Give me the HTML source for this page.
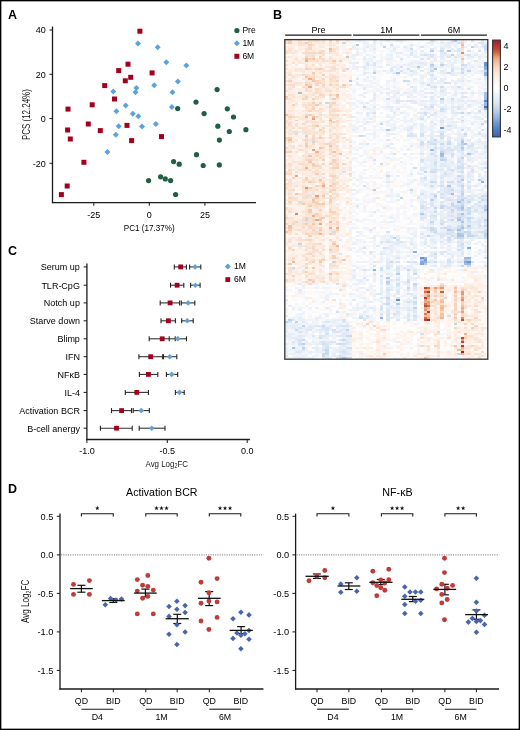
<!DOCTYPE html><html><head><meta charset="utf-8"><style>html,body{margin:0;padding:0;background:#fff}svg{display:block;opacity:.999}text{font-family:"Liberation Sans",sans-serif}</style></head><body>
<svg width="520" height="730" viewBox="0 0 520 730">
<defs><filter id="hb" x="284" y="39" width="205" height="321" filterUnits="userSpaceOnUse"><feGaussianBlur stdDeviation="0.45"/></filter></defs>
<rect width="520" height="730" fill="#fff"/>
<text x="8" y="18.8" font-size="12.5" font-weight="bold" fill="#000">A</text>
<line x1="52.5" y1="26.5" x2="52.5" y2="203.2" stroke="#1a1a1a" stroke-width="1.3"/>
<line x1="51.9" y1="202.6" x2="256" y2="202.6" stroke="#1a1a1a" stroke-width="1.3"/>
<line x1="49.5" y1="30" x2="52.5" y2="30" stroke="#1a1a1a" stroke-width="1"/>
<text x="45.8" y="33.2" font-size="9" text-anchor="end">40</text>
<line x1="49.5" y1="74.3" x2="52.5" y2="74.3" stroke="#1a1a1a" stroke-width="1"/>
<text x="45.8" y="77.5" font-size="9" text-anchor="end">20</text>
<line x1="49.5" y1="118.6" x2="52.5" y2="118.6" stroke="#1a1a1a" stroke-width="1"/>
<text x="45.8" y="121.8" font-size="9" text-anchor="end">0</text>
<line x1="49.5" y1="163.3" x2="52.5" y2="163.3" stroke="#1a1a1a" stroke-width="1"/>
<text x="45.8" y="166.5" font-size="9" text-anchor="end">-20</text>
<line x1="93.8" y1="202.6" x2="93.8" y2="205.8" stroke="#1a1a1a" stroke-width="1"/>
<text x="93.8" y="217.5" font-size="9" text-anchor="middle">-25</text>
<line x1="149.3" y1="202.6" x2="149.3" y2="205.8" stroke="#1a1a1a" stroke-width="1"/>
<text x="149.3" y="217.5" font-size="9" text-anchor="middle">0</text>
<line x1="204.9" y1="202.6" x2="204.9" y2="205.8" stroke="#1a1a1a" stroke-width="1"/>
<text x="204.9" y="217.5" font-size="9" text-anchor="middle">25</text>
<text x="149.2" y="231.4" font-size="9.9" text-anchor="middle" textLength="50.8" lengthAdjust="spacingAndGlyphs">PC1 (17.37%)</text>
<text transform="translate(30.3 114.6) rotate(-90)" font-size="10.4" text-anchor="middle" textLength="50.8" lengthAdjust="spacingAndGlyphs" fill="#1a1a1a">PCS (12.24%)</text>
<circle cx="236.9" cy="30.5" r="2.6" fill="#215e42"/>
<text x="242.4" y="33" font-size="8.5">Pre</text>
<path d="M236.9 40.3L239.9 43.3L236.9 46.3L233.9 43.3Z" fill="#5ba2df"/>
<text x="242.4" y="46.1" font-size="8.5">1M</text>
<rect x="234.4" y="53.8" width="5" height="5" fill="#a3001f"/>
<text x="242.4" y="59.1" font-size="8.5">6M</text>
<circle cx="196.5" cy="154.7" r="2.6" fill="#215e42"/>
<circle cx="173.6" cy="161.6" r="2.6" fill="#215e42"/>
<circle cx="179.2" cy="164.2" r="2.6" fill="#215e42"/>
<circle cx="203.2" cy="165.5" r="2.6" fill="#215e42"/>
<circle cx="219.3" cy="164.9" r="2.6" fill="#215e42"/>
<circle cx="160.6" cy="176.8" r="2.6" fill="#215e42"/>
<circle cx="165.3" cy="178.9" r="2.6" fill="#215e42"/>
<circle cx="170.6" cy="180.6" r="2.6" fill="#215e42"/>
<circle cx="148.6" cy="180.6" r="2.6" fill="#215e42"/>
<circle cx="175.6" cy="194.5" r="2.6" fill="#215e42"/>
<circle cx="217.1" cy="89.6" r="2.6" fill="#215e42"/>
<circle cx="196" cy="102.1" r="2.6" fill="#215e42"/>
<circle cx="177.7" cy="108.6" r="2.6" fill="#215e42"/>
<circle cx="227.3" cy="108.8" r="2.6" fill="#215e42"/>
<circle cx="204.1" cy="113.6" r="2.6" fill="#215e42"/>
<circle cx="233.5" cy="117" r="2.6" fill="#215e42"/>
<circle cx="217.8" cy="126.2" r="2.6" fill="#215e42"/>
<circle cx="229.3" cy="131.5" r="2.6" fill="#215e42"/>
<circle cx="245.9" cy="129.7" r="2.6" fill="#215e42"/>
<circle cx="219.4" cy="140.1" r="2.6" fill="#215e42"/>
<path d="M138 40.5L141 43.5L138 46.5L135 43.5Z" fill="#5ba2df"/>
<path d="M157.7 44.3L160.7 47.3L157.7 50.3L154.7 47.3Z" fill="#5ba2df"/>
<path d="M166.3 59.3L169.3 62.3L166.3 65.3L163.3 62.3Z" fill="#5ba2df"/>
<path d="M186.3 62.4L189.3 65.4L186.3 68.4L183.3 65.4Z" fill="#5ba2df"/>
<path d="M177.9 78.5L180.9 81.5L177.9 84.5L174.9 81.5Z" fill="#5ba2df"/>
<path d="M154.2 82.2L157.2 85.2L154.2 88.2L151.2 85.2Z" fill="#5ba2df"/>
<path d="M172.5 89.3L175.5 92.3L172.5 95.3L169.5 92.3Z" fill="#5ba2df"/>
<path d="M171.9 103.9L174.9 106.9L171.9 109.9L168.9 106.9Z" fill="#5ba2df"/>
<path d="M113.3 88.5L116.3 91.5L113.3 94.5L110.3 91.5Z" fill="#5ba2df"/>
<path d="M136.4 85.1L139.4 88.1L136.4 91.1L133.4 88.1Z" fill="#5ba2df"/>
<path d="M135.5 89.3L138.5 92.3L135.5 95.3L132.5 92.3Z" fill="#5ba2df"/>
<path d="M125.7 102.4L128.7 105.4L125.7 108.4L122.7 105.4Z" fill="#5ba2df"/>
<path d="M116.4 108.3L119.4 111.3L116.4 114.3L113.4 111.3Z" fill="#5ba2df"/>
<path d="M132.8 110.8L135.8 113.8L132.8 116.8L129.8 113.8Z" fill="#5ba2df"/>
<path d="M138.3 113.2L141.3 116.2L138.3 119.2L135.3 116.2Z" fill="#5ba2df"/>
<path d="M118.7 123.3L121.7 126.3L118.7 129.3L115.7 126.3Z" fill="#5ba2df"/>
<path d="M142 123.5L145 126.5L142 129.5L139 126.5Z" fill="#5ba2df"/>
<path d="M115.8 131.8L118.8 134.8L115.8 137.8L112.8 134.8Z" fill="#5ba2df"/>
<path d="M107.4 149.1L110.4 152.1L107.4 155.1L104.4 152.1Z" fill="#5ba2df"/>
<path d="M155.9 120.9L158.9 123.9L155.9 126.9L152.9 123.9Z" fill="#5ba2df"/>
<rect x="137.4" y="28.7" width="5" height="5" fill="#a3001f"/>
<rect x="125.5" y="61.7" width="5" height="5" fill="#a3001f"/>
<rect x="116.2" y="68.1" width="5" height="5" fill="#a3001f"/>
<rect x="128.2" y="74.8" width="5" height="5" fill="#a3001f"/>
<rect x="122.8" y="78.3" width="5" height="5" fill="#a3001f"/>
<rect x="102.2" y="83.1" width="5" height="5" fill="#a3001f"/>
<rect x="112" y="96.5" width="5" height="5" fill="#a3001f"/>
<rect x="89.7" y="102.3" width="5" height="5" fill="#a3001f"/>
<rect x="65.5" y="106.6" width="5" height="5" fill="#a3001f"/>
<rect x="149.6" y="70.4" width="5" height="5" fill="#a3001f"/>
<rect x="85.8" y="121.5" width="5" height="5" fill="#a3001f"/>
<rect x="65.1" y="127.5" width="5" height="5" fill="#a3001f"/>
<rect x="97.8" y="128.1" width="5" height="5" fill="#a3001f"/>
<rect x="67.8" y="136.5" width="5" height="5" fill="#a3001f"/>
<rect x="124.5" y="122.9" width="5" height="5" fill="#a3001f"/>
<rect x="129.1" y="138.1" width="5" height="5" fill="#a3001f"/>
<rect x="81.4" y="159.8" width="5" height="5" fill="#a3001f"/>
<rect x="64.7" y="183.5" width="5" height="5" fill="#a3001f"/>
<rect x="58.9" y="192.1" width="5" height="5" fill="#a3001f"/>
<rect x="159" y="134.1" width="5" height="5" fill="#a3001f"/>
<text x="273" y="18.7" font-size="12.5" font-weight="bold" fill="#000">B</text>
<g filter="url(#hb)">
<g transform="translate(284.8 39.6) scale(3.3833 1.9975)" shape-rendering="crispEdges">
<path fill="#fadece" d="M0 0h1v1h-1zM7 1h1v1h-1zM8 2h1v1h-1zM6 5h1v1h-1zM0 6h1v1h-1zM9 6h1v1h-1zM8 7h1v1h-1zM0 12h1v1h-1zM8 12h1v1h-1zM14 13h1v1h-1zM2 18h1v1h-1zM7 18h1v1h-1zM19 22h1v1h-1zM2 23h1v1h-1zM0 25h1v1h-1zM9 25h1v1h-1zM14 27h1v1h-1zM9 28h1v1h-1zM10 37h1v1h-1zM0 41h1v1h-1zM6 41h1v1h-1zM8 41h1v1h-1zM15 41h1v1h-1zM3 42h1v1h-1zM13 42h1v1h-1zM4 44h1v1h-1zM14 44h1v1h-1zM13 45h1v1h-1zM11 49h1v1h-1zM14 50h1v1h-1zM2 53h1v1h-1zM13 54h1v1h-1zM4 55h1v1h-1zM15 57h1v1h-1zM5 58h1v1h-1zM5 62h1v1h-1zM10 63h1v1h-1zM1 66h1v1h-1zM11 69h1v1h-1zM1 70h1v1h-1zM5 70h1v1h-1zM5 73h1v1h-1zM10 73h1v1h-1zM14 73h1v1h-1zM5 74h1v1h-1zM11 77h1v1h-1zM14 79h1v1h-1zM13 82h1v1h-1zM0 84h1v1h-1zM6 91h1v1h-1zM10 91h1v1h-1zM13 93h1v1h-1zM8 97h1v1h-1zM11 97h1v1h-1zM1 101h1v1h-1zM7 104h1v1h-1zM8 106h1v1h-1zM14 113h1v1h-1zM53 115h1v1h-1zM5 116h1v1h-1zM13 120h1v1h-1zM53 125h1v1h-1zM50 127h1v1h-1zM46 132h1v1h-1zM53 133h1v1h-1zM57 136h1v1h-1zM45 139h1v1h-1zM50 140h1v1h-1zM53 144h1v1h-1zM48 149h1v1h-1zM45 153h1v1h-1zM58 158h1v1h-1z"/>
<path fill="#f6ceb6" d="M1 0h1v1h-1zM1 1h1v1h-1zM6 14h1v1h-1zM8 29h1v1h-1zM8 31h1v1h-1zM2 32h1v1h-1zM7 37h1v1h-1zM10 49h1v1h-1zM6 52h1v1h-1zM1 56h1v1h-1zM14 60h1v1h-1zM7 71h1v1h-1zM7 74h1v1h-1zM9 79h1v1h-1zM10 82h1v1h-1zM7 83h1v1h-1zM10 89h1v1h-1zM13 97h1v1h-1zM7 98h1v1h-1zM8 121h1v1h-1zM44 126h1v1h-1zM44 128h1v1h-1zM42 130h1v1h-1zM50 137h1v1h-1zM24 142h1v1h-1zM55 144h1v1h-1zM53 149h1v1h-1z"/>
<path fill="#fef2ea" d="M2 0h1v1h-1zM6 0h1v1h-1zM17 0h1v1h-1zM19 0h1v1h-1zM12 1h1v1h-1zM19 1h1v1h-1zM1 2h1v1h-1zM5 3h1v1h-1zM9 3h1v1h-1zM0 4h1v1h-1zM12 4h1v1h-1zM18 4h1v1h-1zM4 5h1v1h-1zM18 5h2v1h-2zM2 7h2v1h-2zM13 7h1v1h-1zM2 8h1v1h-1zM4 9h1v1h-1zM1 10h1v1h-1zM17 10h1v1h-1zM45 10h1v1h-1zM1 11h1v1h-1zM3 11h1v1h-1zM7 11h1v1h-1zM12 11h1v1h-1zM3 13h1v1h-1zM11 13h1v1h-1zM0 15h1v1h-1zM6 15h1v1h-1zM8 15h1v1h-1zM19 15h1v1h-1zM12 16h1v1h-1zM18 17h1v1h-1zM51 17h1v1h-1zM16 18h1v1h-1zM18 18h1v1h-1zM41 18h1v1h-1zM2 20h1v1h-1zM4 20h1v1h-1zM12 20h1v1h-1zM17 20h1v1h-1zM0 21h1v1h-1zM12 21h1v1h-1zM5 22h1v1h-1zM27 22h1v1h-1zM8 23h2v1h-2zM3 24h1v1h-1zM5 24h1v1h-1zM11 24h1v1h-1zM17 24h1v1h-1zM19 24h1v1h-1zM34 24h1v1h-1zM2 25h1v1h-1zM15 26h1v1h-1zM3 27h1v1h-1zM19 27h1v1h-1zM8 28h1v1h-1zM14 28h1v1h-1zM3 29h1v1h-1zM7 29h1v1h-1zM11 29h1v1h-1zM4 30h1v1h-1zM6 30h1v1h-1zM9 30h2v1h-2zM13 30h1v1h-1zM17 30h1v1h-1zM16 31h1v1h-1zM0 32h1v1h-1zM16 32h2v1h-2zM39 32h1v1h-1zM3 33h1v1h-1zM11 33h1v1h-1zM16 34h1v1h-1zM18 34h1v1h-1zM0 35h1v1h-1zM12 35h1v1h-1zM5 36h1v1h-1zM8 36h1v1h-1zM15 36h1v1h-1zM18 36h1v1h-1zM4 37h1v1h-1zM9 37h1v1h-1zM7 38h1v1h-1zM3 39h1v1h-1zM9 39h1v1h-1zM2 40h1v1h-1zM17 40h1v1h-1zM4 41h2v1h-2zM7 42h1v1h-1zM10 42h1v1h-1zM4 43h2v1h-2zM9 44h1v1h-1zM19 44h1v1h-1zM2 45h1v1h-1zM14 45h1v1h-1zM16 45h1v1h-1zM12 46h1v1h-1zM14 46h1v1h-1zM19 46h1v1h-1zM4 47h1v1h-1zM18 47h1v1h-1zM0 48h1v1h-1zM9 48h1v1h-1zM19 48h1v1h-1zM5 49h1v1h-1zM16 49h1v1h-1zM19 49h1v1h-1zM0 52h1v1h-1zM5 52h1v1h-1zM9 52h1v1h-1zM9 53h1v1h-1zM5 54h1v1h-1zM9 54h1v1h-1zM18 54h1v1h-1zM27 54h1v1h-1zM3 55h1v1h-1zM7 55h1v1h-1zM16 55h1v1h-1zM19 55h1v1h-1zM5 56h1v1h-1zM17 56h1v1h-1zM1 57h1v1h-1zM5 57h1v1h-1zM19 57h1v1h-1zM24 57h1v1h-1zM42 57h1v1h-1zM3 58h1v1h-1zM12 58h1v1h-1zM25 58h1v1h-1zM3 59h1v1h-1zM4 60h1v1h-1zM13 60h1v1h-1zM0 61h1v1h-1zM8 61h1v1h-1zM11 61h1v1h-1zM3 62h1v1h-1zM12 62h1v1h-1zM13 63h1v1h-1zM16 63h1v1h-1zM28 63h1v1h-1zM2 64h1v1h-1zM11 64h1v1h-1zM18 64h1v1h-1zM10 65h1v1h-1zM15 65h1v1h-1zM28 65h1v1h-1zM2 66h1v1h-1zM28 66h1v1h-1zM4 67h1v1h-1zM23 67h1v1h-1zM8 68h1v1h-1zM16 68h1v1h-1zM1 69h1v1h-1zM17 69h1v1h-1zM15 70h1v1h-1zM2 71h1v1h-1zM12 71h1v1h-1zM47 71h1v1h-1zM6 72h1v1h-1zM12 72h1v1h-1zM4 74h1v1h-1zM18 74h1v1h-1zM15 76h1v1h-1zM19 76h1v1h-1zM29 76h1v1h-1zM16 77h1v1h-1zM3 78h1v1h-1zM16 80h1v1h-1zM2 81h1v1h-1zM14 82h1v1h-1zM27 82h1v1h-1zM3 83h1v1h-1zM5 83h1v1h-1zM15 83h1v1h-1zM4 84h2v1h-2zM17 84h1v1h-1zM19 84h1v1h-1zM3 85h1v1h-1zM5 85h1v1h-1zM4 86h1v1h-1zM12 86h1v1h-1zM16 87h1v1h-1zM2 88h1v1h-1zM14 88h1v1h-1zM3 89h1v1h-1zM12 89h1v1h-1zM19 89h1v1h-1zM11 90h1v1h-1zM29 90h1v1h-1zM12 94h1v1h-1zM19 94h1v1h-1zM2 95h1v1h-1zM12 95h1v1h-1zM4 96h1v1h-1zM12 97h1v1h-1zM15 97h2v1h-2zM4 98h1v1h-1zM14 98h1v1h-1zM16 98h1v1h-1zM18 98h1v1h-1zM0 99h1v1h-1zM8 99h1v1h-1zM10 99h2v1h-2zM13 99h1v1h-1zM2 100h1v1h-1zM9 100h1v1h-1zM14 100h1v1h-1zM19 100h1v1h-1zM6 101h1v1h-1zM9 101h1v1h-1zM11 101h1v1h-1zM15 101h1v1h-1zM13 102h1v1h-1zM15 102h1v1h-1zM0 103h1v1h-1zM3 105h2v1h-2zM0 106h2v1h-2zM11 106h1v1h-1zM1 107h1v1h-1zM3 107h1v1h-1zM9 107h1v1h-1zM11 107h1v1h-1zM14 107h1v1h-1zM4 108h1v1h-1zM15 108h1v1h-1zM4 109h2v1h-2zM9 109h1v1h-1zM35 109h1v1h-1zM3 110h2v1h-2zM1 111h1v1h-1zM5 111h1v1h-1zM19 111h1v1h-1zM19 112h1v1h-1zM0 114h1v1h-1zM5 114h1v1h-1zM10 114h1v1h-1zM54 114h2v1h-2zM59 114h1v1h-1zM3 115h1v1h-1zM58 116h1v1h-1zM17 117h2v1h-2zM29 117h1v1h-1zM45 117h1v1h-1zM54 117h1v1h-1zM3 118h1v1h-1zM54 118h1v1h-1zM4 119h1v1h-1zM12 119h1v1h-1zM47 119h1v1h-1zM9 120h1v1h-1zM12 121h1v1h-1zM17 121h1v1h-1zM41 121h1v1h-1zM54 122h1v1h-1zM49 123h1v1h-1zM51 123h1v1h-1zM17 124h1v1h-1zM21 124h1v1h-1zM57 124h2v1h-2zM47 125h1v1h-1zM51 125h1v1h-1zM54 125h1v1h-1zM11 126h1v1h-1zM25 126h1v1h-1zM39 126h1v1h-1zM17 127h1v1h-1zM43 127h1v1h-1zM56 127h1v1h-1zM54 128h1v1h-1zM45 129h1v1h-1zM54 129h1v1h-1zM8 130h1v1h-1zM53 130h1v1h-1zM49 131h1v1h-1zM55 131h1v1h-1zM17 132h1v1h-1zM40 132h1v1h-1zM57 132h1v1h-1zM45 133h1v1h-1zM47 134h1v1h-1zM51 134h1v1h-1zM58 134h1v1h-1zM45 135h1v1h-1zM59 135h1v1h-1zM40 136h1v1h-1zM53 136h1v1h-1zM45 137h1v1h-1zM49 137h1v1h-1zM57 138h1v1h-1zM17 139h1v1h-1zM48 139h1v1h-1zM53 139h1v1h-1zM46 140h1v1h-1zM27 141h1v1h-1zM35 141h1v1h-1zM39 141h1v1h-1zM53 141h1v1h-1zM55 141h1v1h-1zM39 142h1v1h-1zM41 142h1v1h-1zM48 142h1v1h-1zM52 142h1v1h-1zM57 142h2v1h-2zM48 143h1v1h-1zM51 143h1v1h-1zM39 144h2v1h-2zM42 144h1v1h-1zM25 145h1v1h-1zM44 145h1v1h-1zM57 145h1v1h-1zM22 146h1v1h-1zM44 146h1v1h-1zM50 146h1v1h-1zM52 146h1v1h-1zM58 146h1v1h-1zM41 147h2v1h-2zM54 147h1v1h-1zM22 148h1v1h-1zM27 148h1v1h-1zM34 148h2v1h-2zM41 148h1v1h-1zM56 148h1v1h-1zM27 149h2v1h-2zM36 149h1v1h-1zM41 149h1v1h-1zM45 149h1v1h-1zM57 149h1v1h-1zM22 150h1v1h-1zM30 150h1v1h-1zM41 150h1v1h-1zM58 150h1v1h-1zM32 151h1v1h-1zM42 151h1v1h-1zM44 151h1v1h-1zM51 151h1v1h-1zM54 151h1v1h-1zM35 152h1v1h-1zM41 152h1v1h-1zM43 152h2v1h-2zM47 152h1v1h-1zM27 153h2v1h-2zM47 153h1v1h-1zM22 154h1v1h-1zM24 154h1v1h-1zM27 154h1v1h-1zM31 154h1v1h-1zM33 154h1v1h-1zM55 154h1v1h-1zM59 154h1v1h-1zM34 155h1v1h-1zM39 155h1v1h-1zM41 155h1v1h-1zM57 155h1v1h-1zM25 156h1v1h-1zM39 156h1v1h-1zM44 156h1v1h-1zM46 156h1v1h-1zM49 156h1v1h-1zM23 157h1v1h-1zM26 157h2v1h-2zM41 157h1v1h-1zM49 157h1v1h-1zM36 158h1v1h-1zM59 158h1v1h-1zM40 159h1v1h-1zM51 159h1v1h-1zM55 159h2v1h-2z"/>
<path fill="#eaf2fa" d="M3 0h1v1h-1zM24 1h1v1h-1zM26 2h1v1h-1zM28 2h1v1h-1zM50 2h1v1h-1zM50 3h1v1h-1zM51 6h1v1h-1zM36 7h1v1h-1zM38 7h1v1h-1zM36 8h1v1h-1zM39 8h1v1h-1zM23 10h1v1h-1zM28 10h1v1h-1zM38 10h1v1h-1zM20 13h1v1h-1zM50 13h1v1h-1zM54 13h1v1h-1zM20 14h1v1h-1zM24 14h1v1h-1zM51 14h1v1h-1zM47 15h1v1h-1zM55 15h1v1h-1zM43 16h1v1h-1zM45 16h1v1h-1zM58 16h1v1h-1zM40 17h1v1h-1zM26 18h1v1h-1zM45 20h1v1h-1zM59 20h1v1h-1zM26 21h1v1h-1zM46 21h1v1h-1zM48 26h1v1h-1zM30 27h1v1h-1zM46 27h1v1h-1zM52 27h1v1h-1zM48 29h1v1h-1zM52 29h1v1h-1zM21 30h1v1h-1zM20 31h1v1h-1zM47 32h1v1h-1zM49 32h1v1h-1zM55 32h1v1h-1zM28 33h2v1h-2zM25 34h1v1h-1zM41 34h1v1h-1zM48 34h1v1h-1zM52 34h2v1h-2zM26 35h1v1h-1zM22 36h1v1h-1zM47 36h1v1h-1zM44 38h1v1h-1zM31 39h1v1h-1zM39 39h1v1h-1zM41 40h1v1h-1zM25 41h1v1h-1zM28 41h1v1h-1zM48 41h1v1h-1zM55 41h1v1h-1zM32 42h1v1h-1zM28 44h1v1h-1zM35 44h1v1h-1zM43 44h1v1h-1zM53 44h1v1h-1zM57 44h1v1h-1zM32 45h1v1h-1zM47 45h1v1h-1zM49 46h1v1h-1zM50 47h1v1h-1zM26 48h1v1h-1zM56 48h1v1h-1zM41 49h1v1h-1zM23 52h1v1h-1zM47 52h1v1h-1zM49 53h1v1h-1zM53 55h1v1h-1zM40 56h1v1h-1zM26 57h1v1h-1zM31 57h1v1h-1zM59 57h1v1h-1zM22 58h1v1h-1zM51 58h1v1h-1zM41 59h1v1h-1zM34 61h1v1h-1zM45 61h2v1h-2zM48 61h1v1h-1zM41 65h1v1h-1zM46 66h1v1h-1zM43 68h1v1h-1zM43 69h1v1h-1zM48 69h1v1h-1zM59 69h1v1h-1zM49 70h1v1h-1zM54 70h1v1h-1zM20 72h1v1h-1zM42 72h1v1h-1zM53 73h1v1h-1zM59 74h1v1h-1zM54 75h1v1h-1zM39 78h2v1h-2zM42 78h1v1h-1zM21 80h1v1h-1zM47 81h1v1h-1zM23 84h1v1h-1zM55 85h1v1h-1zM57 85h1v1h-1zM47 87h1v1h-1zM28 88h1v1h-1zM42 88h1v1h-1zM54 88h1v1h-1zM23 90h1v1h-1zM53 90h1v1h-1zM40 93h1v1h-1zM50 93h1v1h-1zM53 93h1v1h-1zM20 94h1v1h-1zM36 94h1v1h-1zM36 95h1v1h-1zM47 95h1v1h-1zM57 95h1v1h-1zM38 96h1v1h-1zM45 96h1v1h-1zM22 97h1v1h-1zM38 97h1v1h-1zM44 98h1v1h-1zM53 98h1v1h-1zM36 99h1v1h-1zM49 101h1v1h-1zM59 101h1v1h-1zM44 102h1v1h-1zM56 102h1v1h-1zM38 103h1v1h-1zM32 104h1v1h-1zM51 104h1v1h-1zM59 104h1v1h-1zM49 106h1v1h-1zM38 108h1v1h-1zM56 108h1v1h-1zM59 108h1v1h-1zM31 112h1v1h-1zM34 113h1v1h-1zM31 114h1v1h-1zM36 114h1v1h-1zM22 115h1v1h-1zM39 119h1v1h-1zM43 119h1v1h-1zM32 120h1v1h-1zM38 120h1v1h-1zM20 122h1v1h-1zM3 124h1v1h-1zM5 124h1v1h-1zM15 127h1v1h-1zM12 128h1v1h-1zM12 129h1v1h-1zM36 129h1v1h-1zM38 130h1v1h-1zM33 131h1v1h-1zM21 132h1v1h-1zM26 134h1v1h-1zM4 135h1v1h-1zM4 137h1v1h-1zM12 137h1v1h-1zM20 139h1v1h-1zM9 140h1v1h-1zM14 142h1v1h-1zM1 144h1v1h-1zM10 144h1v1h-1zM0 147h1v1h-1zM0 149h1v1h-1zM9 149h1v1h-1zM3 151h1v1h-1zM30 152h1v1h-1zM6 154h1v1h-1zM14 154h1v1h-1zM17 154h1v1h-1zM3 155h1v1h-1zM14 155h1v1h-1zM9 156h1v1h-1zM19 158h1v1h-1z"/>
<path fill="#fae2ce" d="M4 0h1v1h-1zM0 1h1v1h-1zM15 1h1v1h-1zM1 4h1v1h-1zM14 4h1v1h-1zM0 10h1v1h-1zM7 10h2v1h-2zM12 10h1v1h-1zM2 11h1v1h-1zM6 12h1v1h-1zM11 14h1v1h-1zM15 18h1v1h-1zM14 20h1v1h-1zM13 21h1v1h-1zM1 22h1v1h-1zM11 28h1v1h-1zM1 29h1v1h-1zM6 32h1v1h-1zM8 32h1v1h-1zM7 34h1v1h-1zM14 34h1v1h-1zM1 41h1v1h-1zM11 41h1v1h-1zM6 44h1v1h-1zM5 45h1v1h-1zM5 46h1v1h-1zM7 46h1v1h-1zM10 48h1v1h-1zM13 48h1v1h-1zM9 49h1v1h-1zM9 51h1v1h-1zM13 51h1v1h-1zM11 52h1v1h-1zM19 53h1v1h-1zM5 55h1v1h-1zM15 55h1v1h-1zM3 56h1v1h-1zM10 57h1v1h-1zM1 58h1v1h-1zM11 58h1v1h-1zM6 59h1v1h-1zM5 63h1v1h-1zM14 63h1v1h-1zM8 64h1v1h-1zM13 64h1v1h-1zM4 65h2v1h-2zM9 65h1v1h-1zM13 67h1v1h-1zM1 71h1v1h-1zM11 71h1v1h-1zM15 72h1v1h-1zM1 73h1v1h-1zM18 73h1v1h-1zM14 74h2v1h-2zM7 75h1v1h-1zM5 76h1v1h-1zM5 77h1v1h-1zM5 81h1v1h-1zM1 82h1v1h-1zM4 82h1v1h-1zM6 82h1v1h-1zM9 84h1v1h-1zM6 85h1v1h-1zM8 87h1v1h-1zM14 90h1v1h-1zM3 95h1v1h-1zM13 95h1v1h-1zM1 97h1v1h-1zM4 100h1v1h-1zM10 112h1v1h-1zM8 117h1v1h-1zM54 127h1v1h-1zM50 138h1v1h-1zM53 138h1v1h-1zM57 140h1v1h-1zM54 148h1v1h-1zM40 149h1v1h-1zM45 152h1v1h-1z"/>
<path fill="#feeee2" d="M5 0h1v1h-1zM3 1h1v1h-1zM14 1h1v1h-1zM2 2h2v1h-2zM8 3h1v1h-1zM4 4h1v1h-1zM8 4h2v1h-2zM2 5h1v1h-1zM17 6h1v1h-1zM10 7h1v1h-1zM14 7h1v1h-1zM52 7h1v1h-1zM3 8h1v1h-1zM2 9h1v1h-1zM17 9h1v1h-1zM2 10h1v1h-1zM15 10h1v1h-1zM8 11h1v1h-1zM7 12h1v1h-1zM17 12h1v1h-1zM1 14h1v1h-1zM10 15h1v1h-1zM9 17h1v1h-1zM15 17h1v1h-1zM3 18h1v1h-1zM8 21h1v1h-1zM15 21h1v1h-1zM0 24h1v1h-1zM2 24h1v1h-1zM4 24h1v1h-1zM8 24h1v1h-1zM13 24h1v1h-1zM1 25h1v1h-1zM4 25h1v1h-1zM11 25h1v1h-1zM14 25h1v1h-1zM1 26h1v1h-1zM3 26h1v1h-1zM11 26h1v1h-1zM13 26h1v1h-1zM17 27h1v1h-1zM3 28h1v1h-1zM4 29h1v1h-1zM5 30h1v1h-1zM9 31h1v1h-1zM19 31h1v1h-1zM1 34h1v1h-1zM17 35h3v1h-3zM2 36h1v1h-1zM6 36h1v1h-1zM15 39h1v1h-1zM8 40h1v1h-1zM12 40h1v1h-1zM6 42h1v1h-1zM14 43h1v1h-1zM10 44h1v1h-1zM15 44h1v1h-1zM1 48h1v1h-1zM17 51h1v1h-1zM1 52h1v1h-1zM7 52h1v1h-1zM10 53h2v1h-2zM39 53h1v1h-1zM8 54h1v1h-1zM2 56h1v1h-1zM2 58h1v1h-1zM4 59h2v1h-2zM9 59h1v1h-1zM10 60h1v1h-1zM0 62h1v1h-1zM10 62h1v1h-1zM2 63h1v1h-1zM12 63h1v1h-1zM16 65h1v1h-1zM7 66h1v1h-1zM10 69h1v1h-1zM3 70h1v1h-1zM4 71h1v1h-1zM4 72h2v1h-2zM13 72h1v1h-1zM16 74h1v1h-1zM24 74h1v1h-1zM15 75h1v1h-1zM7 76h1v1h-1zM9 76h1v1h-1zM0 77h1v1h-1zM4 78h1v1h-1zM8 78h1v1h-1zM15 79h1v1h-1zM7 80h1v1h-1zM19 80h1v1h-1zM14 81h1v1h-1zM0 82h1v1h-1zM2 82h1v1h-1zM19 82h1v1h-1zM14 83h1v1h-1zM11 84h1v1h-1zM8 86h1v1h-1zM0 87h1v1h-1zM12 87h1v1h-1zM4 88h1v1h-1zM0 91h1v1h-1zM11 94h1v1h-1zM0 95h1v1h-1zM2 96h1v1h-1zM11 96h1v1h-1zM7 99h1v1h-1zM0 100h1v1h-1zM10 100h1v1h-1zM5 101h1v1h-1zM8 101h1v1h-1zM1 103h1v1h-1zM10 103h1v1h-1zM19 104h1v1h-1zM9 108h1v1h-1zM13 108h1v1h-1zM1 109h1v1h-1zM5 110h1v1h-1zM14 110h1v1h-1zM4 111h1v1h-1zM17 112h1v1h-1zM3 114h1v1h-1zM8 115h1v1h-1zM7 116h1v1h-1zM16 116h1v1h-1zM6 117h1v1h-1zM19 117h1v1h-1zM10 118h1v1h-1zM15 118h1v1h-1zM57 119h1v1h-1zM42 120h1v1h-1zM1 121h1v1h-1zM7 121h1v1h-1zM53 122h1v1h-1zM57 122h1v1h-1zM42 123h1v1h-1zM53 123h1v1h-1zM40 124h1v1h-1zM51 124h1v1h-1zM55 125h1v1h-1zM53 126h1v1h-1zM55 128h1v1h-1zM6 129h1v1h-1zM45 130h1v1h-1zM55 135h1v1h-1zM17 136h1v1h-1zM43 136h1v1h-1zM43 139h1v1h-1zM49 139h1v1h-1zM55 139h1v1h-1zM45 140h1v1h-1zM49 140h1v1h-1zM41 141h1v1h-1zM21 142h1v1h-1zM45 143h1v1h-1zM54 145h1v1h-1zM41 146h1v1h-1zM54 149h1v1h-1zM28 150h1v1h-1zM39 150h1v1h-1zM53 150h1v1h-1zM40 151h1v1h-1zM49 151h1v1h-1zM51 152h1v1h-1zM58 152h1v1h-1zM53 153h1v1h-1zM21 154h1v1h-1zM58 154h1v1h-1zM50 156h1v1h-1zM55 156h1v1h-1zM24 158h1v1h-1z"/>
<path fill="#fadeca" d="M7 0h1v1h-1zM9 0h1v1h-1zM11 0h1v1h-1zM4 1h1v1h-1zM10 5h1v1h-1zM5 6h2v1h-2zM8 8h1v1h-1zM9 10h1v1h-1zM11 10h1v1h-1zM14 14h1v1h-1zM13 15h1v1h-1zM10 16h1v1h-1zM1 17h1v1h-1zM6 17h1v1h-1zM8 17h1v1h-1zM11 20h1v1h-1zM5 23h1v1h-1zM6 25h1v1h-1zM13 25h1v1h-1zM5 32h1v1h-1zM6 33h1v1h-1zM9 35h1v1h-1zM13 35h1v1h-1zM13 37h1v1h-1zM2 44h1v1h-1zM6 46h1v1h-1zM11 46h1v1h-1zM14 47h1v1h-1zM15 48h1v1h-1zM6 49h1v1h-1zM13 49h1v1h-1zM15 49h1v1h-1zM0 50h1v1h-1zM5 50h1v1h-1zM15 53h1v1h-1zM6 54h1v1h-1zM13 57h1v1h-1zM9 58h1v1h-1zM14 58h1v1h-1zM8 60h1v1h-1zM1 62h1v1h-1zM14 62h1v1h-1zM10 64h1v1h-1zM3 66h1v1h-1zM14 69h2v1h-2zM0 72h1v1h-1zM0 74h1v1h-1zM1 75h1v1h-1zM9 75h1v1h-1zM1 77h1v1h-1zM14 77h2v1h-2zM15 78h1v1h-1zM2 79h1v1h-1zM5 79h2v1h-2zM8 79h1v1h-1zM11 79h1v1h-1zM13 79h1v1h-1zM18 81h1v1h-1zM9 83h1v1h-1zM1 86h1v1h-1zM7 87h1v1h-1zM15 87h1v1h-1zM12 88h2v1h-2zM8 89h1v1h-1zM14 89h1v1h-1zM5 90h1v1h-1zM8 91h1v1h-1zM5 92h1v1h-1zM4 95h1v1h-1zM1 96h1v1h-1zM10 96h1v1h-1zM3 97h1v1h-1zM7 97h1v1h-1zM9 102h1v1h-1zM8 103h1v1h-1zM14 103h1v1h-1zM6 105h1v1h-1zM9 105h1v1h-1zM11 105h1v1h-1zM15 105h1v1h-1zM5 108h1v1h-1zM6 109h1v1h-1zM7 111h1v1h-1zM13 112h1v1h-1zM0 117h1v1h-1zM7 117h1v1h-1zM6 118h1v1h-1zM45 120h1v1h-1zM43 124h1v1h-1zM52 124h1v1h-1zM44 131h1v1h-1zM56 133h1v1h-1zM53 134h1v1h-1zM46 136h1v1h-1zM51 136h1v1h-1zM44 137h1v1h-1zM28 145h1v1h-1zM53 148h1v1h-1zM57 154h1v1h-1zM56 155h1v1h-1zM57 159h1v1h-1z"/>
<path fill="#fae2d2" d="M8 0h1v1h-1zM52 0h1v1h-1zM5 1h1v1h-1zM13 1h1v1h-1zM4 2h2v1h-2zM13 2h1v1h-1zM6 4h1v1h-1zM19 4h1v1h-1zM52 4h1v1h-1zM1 5h1v1h-1zM14 5h1v1h-1zM11 6h1v1h-1zM6 7h1v1h-1zM11 7h1v1h-1zM3 9h1v1h-1zM10 9h1v1h-1zM13 9h1v1h-1zM52 10h1v1h-1zM14 11h1v1h-1zM6 13h1v1h-1zM17 14h1v1h-1zM13 17h1v1h-1zM5 19h1v1h-1zM14 19h1v1h-1zM0 20h1v1h-1zM10 20h1v1h-1zM13 20h1v1h-1zM3 21h1v1h-1zM7 21h1v1h-1zM11 21h1v1h-1zM14 22h1v1h-1zM11 23h1v1h-1zM16 23h1v1h-1zM1 24h1v1h-1zM15 24h1v1h-1zM7 25h1v1h-1zM12 25h1v1h-1zM10 26h1v1h-1zM1 27h1v1h-1zM5 27h1v1h-1zM8 27h1v1h-1zM2 28h1v1h-1zM7 31h1v1h-1zM14 32h1v1h-1zM13 36h1v1h-1zM1 37h1v1h-1zM8 37h1v1h-1zM14 38h1v1h-1zM1 39h1v1h-1zM10 39h1v1h-1zM0 40h1v1h-1zM9 41h1v1h-1zM1 43h1v1h-1zM3 43h1v1h-1zM0 44h1v1h-1zM5 44h1v1h-1zM8 44h1v1h-1zM6 45h1v1h-1zM1 47h1v1h-1zM7 47h2v1h-2zM17 49h1v1h-1zM7 50h1v1h-1zM15 51h1v1h-1zM14 52h1v1h-1zM4 53h1v1h-1zM7 53h1v1h-1zM15 54h1v1h-1zM6 56h1v1h-1zM11 56h1v1h-1zM8 59h1v1h-1zM18 59h1v1h-1zM9 60h1v1h-1zM15 60h1v1h-1zM6 62h1v1h-1zM1 63h1v1h-1zM6 63h1v1h-1zM6 65h2v1h-2zM8 66h2v1h-2zM0 70h1v1h-1zM8 70h1v1h-1zM14 70h1v1h-1zM5 71h1v1h-1zM14 71h2v1h-2zM1 72h1v1h-1zM8 74h1v1h-1zM4 77h1v1h-1zM12 77h1v1h-1zM3 79h1v1h-1zM2 80h2v1h-2zM8 82h1v1h-1zM8 83h1v1h-1zM10 83h1v1h-1zM1 85h1v1h-1zM5 86h2v1h-2zM6 87h1v1h-1zM10 88h1v1h-1zM1 89h1v1h-1zM5 89h1v1h-1zM7 90h1v1h-1zM2 91h1v1h-1zM7 91h1v1h-1zM13 92h1v1h-1zM5 93h1v1h-1zM8 93h1v1h-1zM15 93h1v1h-1zM0 94h1v1h-1zM8 94h1v1h-1zM6 95h1v1h-1zM8 96h1v1h-1zM1 100h1v1h-1zM5 100h1v1h-1zM11 100h1v1h-1zM8 102h1v1h-1zM4 103h1v1h-1zM6 103h1v1h-1zM15 104h1v1h-1zM6 107h1v1h-1zM10 107h1v1h-1zM18 108h1v1h-1zM15 109h1v1h-1zM2 110h1v1h-1zM8 110h1v1h-1zM16 111h1v1h-1zM13 113h1v1h-1zM1 114h1v1h-1zM1 115h1v1h-1zM14 116h1v1h-1zM11 119h1v1h-1zM13 119h1v1h-1zM2 120h1v1h-1zM15 120h1v1h-1zM46 122h1v1h-1zM55 124h1v1h-1zM43 125h1v1h-1zM56 128h1v1h-1zM14 130h1v1h-1zM43 130h1v1h-1zM45 131h1v1h-1zM50 131h1v1h-1zM44 133h1v1h-1zM44 134h1v1h-1zM56 135h1v1h-1zM49 136h1v1h-1zM43 140h2v1h-2zM25 141h1v1h-1zM27 144h1v1h-1zM58 144h1v1h-1zM51 146h1v1h-1zM44 147h1v1h-1zM55 148h1v1h-1zM27 151h1v1h-1zM45 151h1v1h-1zM57 151h1v1h-1zM42 153h1v1h-1zM45 154h1v1h-1zM53 154h1v1h-1zM53 157h1v1h-1zM56 157h1v1h-1zM45 158h1v1h-1z"/>
<path fill="#fae6da" d="M10 0h1v1h-1zM15 4h1v1h-1zM18 6h1v1h-1zM15 7h1v1h-1zM7 8h1v1h-1zM13 8h1v1h-1zM13 11h1v1h-1zM12 13h2v1h-2zM3 14h1v1h-1zM15 14h1v1h-1zM5 15h1v1h-1zM3 17h1v1h-1zM14 17h1v1h-1zM1 19h1v1h-1zM4 21h1v1h-1zM0 22h1v1h-1zM12 24h1v1h-1zM7 28h1v1h-1zM10 28h1v1h-1zM13 28h1v1h-1zM15 32h1v1h-1zM2 33h1v1h-1zM15 34h1v1h-1zM10 36h1v1h-1zM11 37h1v1h-1zM10 38h1v1h-1zM19 38h1v1h-1zM6 39h1v1h-1zM14 39h1v1h-1zM6 40h2v1h-2zM10 40h1v1h-1zM19 40h1v1h-1zM7 41h1v1h-1zM9 42h1v1h-1zM7 45h1v1h-1zM11 45h1v1h-1zM1 46h1v1h-1zM9 46h1v1h-1zM11 47h1v1h-1zM14 53h1v1h-1zM14 54h1v1h-1zM10 55h1v1h-1zM19 56h1v1h-1zM6 58h1v1h-1zM10 58h1v1h-1zM7 59h1v1h-1zM3 61h1v1h-1zM13 61h1v1h-1zM19 61h1v1h-1zM9 62h1v1h-1zM5 64h1v1h-1zM19 64h1v1h-1zM16 67h1v1h-1zM19 68h1v1h-1zM13 70h1v1h-1zM13 71h1v1h-1zM0 73h1v1h-1zM1 74h1v1h-1zM10 76h2v1h-2zM6 77h2v1h-2zM5 78h1v1h-1zM12 79h1v1h-1zM27 79h1v1h-1zM10 80h1v1h-1zM15 84h1v1h-1zM10 86h1v1h-1zM0 88h1v1h-1zM6 88h1v1h-1zM15 89h1v1h-1zM1 91h1v1h-1zM19 91h1v1h-1zM4 92h1v1h-1zM7 92h1v1h-1zM12 92h1v1h-1zM6 93h1v1h-1zM14 95h1v1h-1zM15 96h1v1h-1zM11 98h1v1h-1zM2 99h1v1h-1zM15 99h1v1h-1zM3 100h1v1h-1zM8 100h1v1h-1zM7 101h1v1h-1zM6 104h1v1h-1zM19 105h1v1h-1zM7 106h1v1h-1zM9 106h1v1h-1zM13 109h1v1h-1zM1 110h1v1h-1zM7 110h1v1h-1zM16 110h1v1h-1zM3 112h1v1h-1zM14 112h1v1h-1zM5 113h1v1h-1zM10 113h1v1h-1zM15 113h1v1h-1zM3 116h1v1h-1zM14 117h1v1h-1zM13 118h1v1h-1zM49 120h1v1h-1zM56 120h1v1h-1zM0 121h1v1h-1zM14 121h1v1h-1zM45 123h1v1h-1zM47 123h1v1h-1zM4 126h1v1h-1zM54 126h1v1h-1zM53 129h1v1h-1zM56 132h1v1h-1zM45 138h1v1h-1zM55 140h1v1h-1zM51 141h1v1h-1zM56 144h1v1h-1zM56 149h1v1h-1zM50 150h1v1h-1zM52 152h1v1h-1zM29 153h1v1h-1zM23 154h1v1h-1zM54 154h1v1h-1zM45 156h1v1h-1zM57 157h1v1h-1zM25 158h1v1h-1zM42 159h1v1h-1z"/>
<path fill="#fef6f2" d="M12 0h1v1h-1zM18 1h1v1h-1zM9 2h1v1h-1zM18 2h1v1h-1zM39 2h1v1h-1zM16 3h1v1h-1zM16 4h1v1h-1zM4 6h1v1h-1zM53 6h1v1h-1zM19 7h1v1h-1zM4 8h2v1h-2zM19 9h1v1h-1zM15 11h1v1h-1zM1 13h1v1h-1zM4 13h2v1h-2zM15 13h1v1h-1zM19 14h1v1h-1zM18 16h2v1h-2zM12 17h1v1h-1zM5 18h1v1h-1zM12 19h1v1h-1zM17 19h2v1h-2zM3 20h1v1h-1zM16 20h1v1h-1zM16 22h1v1h-1zM32 22h1v1h-1zM45 22h1v1h-1zM19 23h1v1h-1zM27 23h1v1h-1zM45 23h1v1h-1zM17 25h1v1h-1zM35 25h1v1h-1zM39 25h1v1h-1zM0 26h1v1h-1zM14 26h1v1h-1zM16 26h1v1h-1zM29 26h1v1h-1zM16 27h1v1h-1zM35 27h1v1h-1zM17 28h1v1h-1zM19 28h1v1h-1zM28 29h1v1h-1zM11 30h1v1h-1zM16 30h1v1h-1zM39 30h1v1h-1zM12 32h1v1h-1zM4 33h1v1h-1zM10 33h1v1h-1zM16 33h1v1h-1zM9 34h1v1h-1zM53 35h1v1h-1zM12 36h1v1h-1zM16 36h1v1h-1zM16 37h1v1h-1zM11 38h1v1h-1zM19 39h1v1h-1zM50 39h1v1h-1zM9 40h1v1h-1zM3 41h1v1h-1zM18 41h2v1h-2zM16 42h1v1h-1zM27 42h1v1h-1zM12 44h1v1h-1zM9 45h1v1h-1zM19 45h1v1h-1zM18 46h1v1h-1zM28 46h1v1h-1zM34 46h1v1h-1zM5 48h1v1h-1zM29 48h1v1h-1zM12 50h1v1h-1zM31 50h1v1h-1zM16 51h1v1h-1zM29 51h1v1h-1zM3 52h1v1h-1zM17 52h3v1h-3zM3 53h1v1h-1zM12 54h1v1h-1zM16 54h1v1h-1zM28 55h1v1h-1zM37 55h1v1h-1zM4 56h1v1h-1zM12 56h1v1h-1zM18 56h1v1h-1zM25 57h1v1h-1zM4 58h1v1h-1zM26 58h1v1h-1zM36 58h1v1h-1zM25 60h1v1h-1zM12 61h1v1h-1zM29 62h1v1h-1zM33 62h1v1h-1zM39 62h1v1h-1zM17 63h1v1h-1zM25 63h1v1h-1zM29 63h1v1h-1zM12 64h1v1h-1zM25 64h1v1h-1zM56 64h1v1h-1zM0 65h1v1h-1zM56 65h1v1h-1zM19 66h1v1h-1zM12 67h1v1h-1zM22 67h1v1h-1zM36 67h1v1h-1zM12 68h1v1h-1zM17 68h1v1h-1zM27 68h1v1h-1zM16 69h1v1h-1zM18 69h2v1h-2zM2 70h1v1h-1zM4 70h1v1h-1zM53 70h1v1h-1zM32 71h1v1h-1zM34 71h1v1h-1zM9 72h1v1h-1zM16 72h1v1h-1zM27 72h1v1h-1zM12 73h1v1h-1zM25 73h1v1h-1zM35 73h1v1h-1zM26 74h1v1h-1zM31 74h1v1h-1zM3 76h1v1h-1zM22 76h1v1h-1zM27 76h1v1h-1zM38 76h1v1h-1zM19 77h1v1h-1zM38 77h1v1h-1zM12 78h1v1h-1zM0 79h1v1h-1zM16 79h1v1h-1zM20 79h1v1h-1zM17 80h1v1h-1zM24 80h1v1h-1zM10 81h1v1h-1zM24 82h1v1h-1zM35 82h1v1h-1zM12 83h1v1h-1zM16 83h1v1h-1zM18 83h1v1h-1zM29 83h1v1h-1zM35 83h1v1h-1zM3 84h1v1h-1zM12 85h1v1h-1zM17 85h2v1h-2zM30 85h1v1h-1zM38 85h1v1h-1zM16 86h1v1h-1zM4 87h1v1h-1zM34 87h2v1h-2zM17 88h4v1h-4zM29 88h1v1h-1zM4 89h1v1h-1zM18 89h1v1h-1zM33 89h1v1h-1zM12 90h1v1h-1zM22 90h1v1h-1zM16 91h1v1h-1zM21 91h1v1h-1zM39 91h1v1h-1zM29 92h2v1h-2zM16 93h1v1h-1zM18 93h1v1h-1zM37 95h1v1h-1zM3 96h1v1h-1zM18 96h1v1h-1zM4 97h1v1h-1zM17 97h1v1h-1zM27 97h1v1h-1zM43 97h1v1h-1zM1 98h1v1h-1zM3 98h1v1h-1zM5 98h2v1h-2zM14 99h1v1h-1zM16 99h1v1h-1zM24 99h1v1h-1zM2 101h1v1h-1zM12 101h1v1h-1zM17 101h1v1h-1zM19 101h1v1h-1zM5 102h1v1h-1zM11 102h2v1h-2zM17 102h1v1h-1zM19 102h1v1h-1zM12 103h1v1h-1zM22 103h1v1h-1zM37 103h1v1h-1zM17 104h1v1h-1zM56 104h1v1h-1zM24 105h1v1h-1zM3 106h3v1h-3zM17 107h1v1h-1zM16 108h2v1h-2zM10 109h1v1h-1zM19 109h1v1h-1zM22 109h1v1h-1zM18 110h1v1h-1zM42 110h1v1h-1zM56 110h1v1h-1zM0 111h1v1h-1zM11 111h1v1h-1zM18 112h1v1h-1zM0 113h2v1h-2zM4 113h1v1h-1zM18 113h1v1h-1zM56 113h1v1h-1zM18 114h1v1h-1zM39 114h1v1h-1zM42 114h1v1h-1zM16 115h1v1h-1zM48 115h1v1h-1zM56 115h1v1h-1zM44 116h1v1h-1zM49 116h2v1h-2zM53 116h2v1h-2zM57 116h1v1h-1zM11 117h1v1h-1zM42 117h1v1h-1zM57 117h1v1h-1zM0 118h1v1h-1zM12 118h1v1h-1zM19 118h1v1h-1zM0 119h1v1h-1zM3 119h1v1h-1zM5 119h1v1h-1zM17 119h1v1h-1zM40 119h1v1h-1zM53 119h2v1h-2zM58 119h1v1h-1zM3 120h1v1h-1zM18 120h1v1h-1zM48 120h1v1h-1zM13 121h1v1h-1zM19 121h1v1h-1zM44 121h1v1h-1zM49 121h2v1h-2zM53 121h1v1h-1zM25 122h1v1h-1zM42 122h1v1h-1zM45 122h1v1h-1zM40 123h1v1h-1zM52 123h1v1h-1zM8 124h1v1h-1zM14 124h2v1h-2zM20 124h1v1h-1zM49 125h1v1h-1zM57 125h1v1h-1zM6 126h1v1h-1zM9 126h1v1h-1zM22 126h1v1h-1zM35 126h1v1h-1zM40 126h1v1h-1zM49 126h1v1h-1zM53 127h1v1h-1zM59 127h1v1h-1zM13 128h1v1h-1zM25 128h1v1h-1zM58 128h1v1h-1zM3 130h1v1h-1zM47 130h1v1h-1zM49 130h1v1h-1zM13 131h1v1h-1zM47 131h2v1h-2zM5 132h1v1h-1zM54 132h2v1h-2zM58 132h1v1h-1zM51 133h1v1h-1zM48 134h1v1h-1zM54 134h1v1h-1zM27 135h1v1h-1zM57 135h1v1h-1zM13 136h1v1h-1zM20 136h1v1h-1zM27 136h1v1h-1zM55 136h1v1h-1zM59 136h1v1h-1zM13 137h1v1h-1zM17 137h1v1h-1zM40 137h1v1h-1zM54 137h1v1h-1zM59 137h1v1h-1zM40 138h1v1h-1zM57 139h1v1h-1zM24 140h1v1h-1zM59 140h1v1h-1zM24 141h1v1h-1zM26 141h1v1h-1zM29 141h1v1h-1zM32 141h1v1h-1zM37 141h1v1h-1zM46 141h2v1h-2zM52 141h1v1h-1zM32 142h1v1h-1zM37 142h1v1h-1zM47 142h1v1h-1zM51 142h1v1h-1zM56 142h1v1h-1zM37 143h2v1h-2zM40 143h1v1h-1zM47 143h1v1h-1zM50 143h1v1h-1zM52 143h1v1h-1zM55 143h1v1h-1zM57 143h2v1h-2zM23 144h1v1h-1zM32 144h1v1h-1zM54 144h1v1h-1zM1 145h1v1h-1zM20 145h1v1h-1zM36 145h1v1h-1zM51 145h1v1h-1zM28 146h1v1h-1zM35 146h1v1h-1zM55 146h1v1h-1zM26 147h1v1h-1zM29 147h2v1h-2zM47 147h1v1h-1zM52 147h1v1h-1zM59 147h1v1h-1zM28 148h1v1h-1zM33 148h1v1h-1zM30 149h1v1h-1zM32 149h1v1h-1zM34 149h2v1h-2zM39 149h1v1h-1zM47 149h1v1h-1zM21 150h1v1h-1zM25 150h1v1h-1zM31 150h1v1h-1zM43 150h1v1h-1zM48 150h2v1h-2zM59 150h1v1h-1zM21 151h1v1h-1zM25 151h1v1h-1zM29 151h1v1h-1zM35 151h1v1h-1zM55 151h1v1h-1zM25 152h1v1h-1zM28 152h1v1h-1zM20 153h1v1h-1zM22 153h1v1h-1zM34 153h1v1h-1zM57 153h1v1h-1zM20 154h1v1h-1zM34 154h2v1h-2zM26 155h1v1h-1zM49 155h2v1h-2zM58 155h1v1h-1zM20 156h1v1h-1zM31 156h1v1h-1zM36 156h1v1h-1zM41 156h1v1h-1zM56 156h2v1h-2zM10 157h1v1h-1zM20 157h1v1h-1zM24 157h1v1h-1zM28 157h1v1h-1zM31 157h1v1h-1zM35 157h1v1h-1zM38 157h1v1h-1zM47 157h1v1h-1zM55 157h1v1h-1zM58 157h1v1h-1zM20 158h1v1h-1zM30 158h1v1h-1zM32 158h1v1h-1zM40 158h1v1h-1zM47 158h1v1h-1zM29 159h1v1h-1z"/>
<path fill="#fad6c2" d="M13 0h1v1h-1zM15 0h1v1h-1zM7 6h2v1h-2zM6 8h1v1h-1zM11 19h1v1h-1zM15 20h1v1h-1zM9 21h1v1h-1zM8 33h1v1h-1zM7 35h1v1h-1zM6 37h1v1h-1zM5 42h1v1h-1zM11 54h1v1h-1zM6 60h1v1h-1zM15 62h1v1h-1zM19 67h1v1h-1zM6 70h1v1h-1zM0 89h1v1h-1zM0 92h1v1h-1zM2 92h1v1h-1zM15 92h1v1h-1zM7 94h1v1h-1zM10 94h1v1h-1zM13 100h1v1h-1zM10 102h1v1h-1zM1 104h1v1h-1zM8 104h1v1h-1zM7 107h1v1h-1zM47 133h1v1h-1zM50 133h1v1h-1zM50 135h1v1h-1zM52 137h1v1h-1zM52 138h1v1h-1zM53 142h1v1h-1zM50 144h1v1h-1z"/>
<path fill="#fef6ee" d="M14 0h1v1h-1zM19 2h1v1h-1zM5 7h1v1h-1zM11 8h2v1h-2zM15 8h1v1h-1zM17 8h1v1h-1zM1 9h1v1h-1zM18 10h1v1h-1zM18 11h1v1h-1zM30 11h1v1h-1zM13 12h1v1h-1zM19 13h1v1h-1zM18 15h1v1h-1zM3 16h1v1h-1zM16 17h1v1h-1zM9 19h1v1h-1zM55 20h1v1h-1zM18 21h1v1h-1zM3 25h1v1h-1zM26 25h1v1h-1zM6 26h1v1h-1zM27 27h1v1h-1zM16 28h1v1h-1zM7 30h1v1h-1zM4 32h1v1h-1zM14 33h1v1h-1zM4 34h1v1h-1zM3 36h1v1h-1zM7 36h1v1h-1zM3 37h1v1h-1zM45 37h1v1h-1zM16 38h1v1h-1zM11 39h1v1h-1zM17 39h1v1h-1zM14 40h1v1h-1zM12 42h1v1h-1zM16 43h1v1h-1zM18 43h1v1h-1zM16 46h1v1h-1zM2 48h1v1h-1zM3 49h1v1h-1zM17 50h1v1h-1zM35 50h1v1h-1zM4 51h1v1h-1zM15 52h1v1h-1zM2 55h1v1h-1zM27 55h1v1h-1zM8 56h1v1h-1zM16 58h1v1h-1zM16 59h1v1h-1zM3 60h1v1h-1zM27 63h1v1h-1zM16 64h1v1h-1zM29 67h1v1h-1zM11 68h1v1h-1zM13 69h1v1h-1zM56 72h1v1h-1zM17 73h1v1h-1zM3 74h1v1h-1zM19 74h1v1h-1zM3 75h1v1h-1zM10 75h1v1h-1zM2 77h1v1h-1zM19 78h1v1h-1zM32 79h1v1h-1zM18 80h1v1h-1zM0 81h1v1h-1zM16 82h1v1h-1zM20 82h1v1h-1zM1 83h2v1h-2zM19 85h1v1h-1zM0 86h1v1h-1zM39 88h1v1h-1zM16 89h1v1h-1zM26 90h1v1h-1zM11 92h1v1h-1zM11 93h1v1h-1zM17 96h1v1h-1zM10 98h1v1h-1zM12 105h1v1h-1zM2 106h1v1h-1zM0 107h1v1h-1zM18 111h1v1h-1zM11 112h1v1h-1zM8 113h1v1h-1zM16 114h1v1h-1zM48 114h1v1h-1zM57 114h1v1h-1zM0 115h1v1h-1zM6 115h2v1h-2zM42 115h1v1h-1zM59 115h1v1h-1zM9 116h1v1h-1zM45 116h1v1h-1zM48 116h1v1h-1zM2 117h1v1h-1zM9 117h1v1h-1zM14 118h1v1h-1zM16 118h1v1h-1zM18 119h2v1h-2zM41 120h1v1h-1zM47 120h1v1h-1zM57 120h2v1h-2zM3 121h2v1h-2zM48 123h1v1h-1zM6 124h1v1h-1zM13 124h1v1h-1zM59 124h1v1h-1zM5 126h1v1h-1zM45 126h1v1h-1zM47 126h1v1h-1zM39 127h1v1h-1zM11 129h1v1h-1zM24 129h1v1h-1zM56 129h2v1h-2zM7 132h1v1h-1zM49 132h1v1h-1zM57 134h1v1h-1zM47 135h2v1h-2zM31 136h1v1h-1zM7 139h1v1h-1zM47 140h1v1h-1zM51 140h1v1h-1zM48 141h2v1h-2zM25 142h1v1h-1zM35 142h1v1h-1zM44 142h1v1h-1zM22 143h1v1h-1zM28 143h1v1h-1zM54 143h1v1h-1zM30 144h1v1h-1zM43 144h1v1h-1zM47 144h1v1h-1zM43 145h1v1h-1zM24 146h1v1h-1zM42 146h1v1h-1zM53 146h1v1h-1zM25 147h1v1h-1zM59 149h1v1h-1zM29 150h1v1h-1zM37 150h1v1h-1zM28 151h1v1h-1zM34 151h1v1h-1zM41 151h1v1h-1zM24 152h1v1h-1zM48 152h1v1h-1zM55 152h1v1h-1zM24 153h1v1h-1zM30 153h1v1h-1zM39 154h1v1h-1zM41 154h1v1h-1zM28 155h2v1h-2zM44 155h1v1h-1zM28 156h1v1h-1zM32 156h1v1h-1zM43 156h1v1h-1zM47 156h1v1h-1zM30 157h1v1h-1zM26 158h1v1h-1zM34 158h1v1h-1zM56 158h1v1h-1zM39 159h1v1h-1zM45 159h1v1h-1z"/>
<path fill="#fef2ee" d="M16 0h1v1h-1zM17 2h1v1h-1zM17 3h1v1h-1zM10 4h1v1h-1zM15 5h1v1h-1zM17 5h1v1h-1zM14 8h1v1h-1zM16 8h1v1h-1zM12 9h1v1h-1zM19 10h1v1h-1zM0 11h1v1h-1zM16 12h1v1h-1zM16 14h1v1h-1zM6 16h1v1h-1zM11 16h1v1h-1zM14 16h1v1h-1zM10 17h1v1h-1zM19 17h1v1h-1zM1 18h1v1h-1zM11 18h1v1h-1zM0 19h1v1h-1zM10 22h1v1h-1zM53 22h1v1h-1zM0 23h1v1h-1zM3 23h1v1h-1zM12 26h1v1h-1zM17 29h1v1h-1zM3 30h1v1h-1zM15 31h1v1h-1zM56 32h1v1h-1zM0 33h1v1h-1zM17 33h1v1h-1zM12 34h1v1h-1zM17 34h1v1h-1zM19 34h1v1h-1zM4 35h1v1h-1zM38 38h1v1h-1zM2 42h1v1h-1zM3 44h1v1h-1zM17 44h1v1h-1zM16 50h1v1h-1zM12 51h1v1h-1zM0 53h1v1h-1zM12 53h1v1h-1zM29 53h1v1h-1zM4 54h1v1h-1zM17 54h1v1h-1zM24 56h1v1h-1zM26 56h1v1h-1zM33 56h1v1h-1zM2 57h2v1h-2zM12 57h1v1h-1zM27 57h1v1h-1zM2 59h1v1h-1zM14 59h1v1h-1zM19 60h1v1h-1zM18 61h1v1h-1zM16 62h1v1h-1zM18 62h1v1h-1zM4 63h1v1h-1zM12 65h1v1h-1zM11 66h1v1h-1zM15 67h1v1h-1zM17 67h2v1h-2zM0 68h1v1h-1zM25 68h1v1h-1zM3 69h1v1h-1zM12 69h1v1h-1zM0 71h1v1h-1zM18 71h1v1h-1zM4 75h1v1h-1zM12 75h1v1h-1zM17 77h1v1h-1zM16 78h1v1h-1zM4 79h1v1h-1zM17 79h1v1h-1zM19 79h1v1h-1zM39 80h1v1h-1zM12 81h1v1h-1zM16 81h1v1h-1zM39 81h1v1h-1zM4 85h1v1h-1zM17 87h1v1h-1zM1 88h1v1h-1zM18 91h1v1h-1zM16 92h2v1h-2zM17 93h1v1h-1zM6 94h1v1h-1zM17 94h1v1h-1zM17 95h1v1h-1zM2 97h1v1h-1zM19 97h1v1h-1zM13 98h1v1h-1zM18 100h1v1h-1zM1 102h2v1h-2zM7 105h1v1h-1zM18 105h1v1h-1zM4 107h1v1h-1zM0 108h1v1h-1zM10 108h1v1h-1zM19 108h1v1h-1zM0 109h1v1h-1zM16 109h1v1h-1zM19 110h1v1h-1zM9 111h1v1h-1zM2 112h1v1h-1zM8 112h1v1h-1zM15 112h2v1h-2zM11 114h1v1h-1zM45 114h1v1h-1zM53 114h1v1h-1zM56 114h1v1h-1zM58 114h1v1h-1zM9 115h1v1h-1zM18 115h1v1h-1zM45 115h1v1h-1zM4 116h1v1h-1zM17 116h1v1h-1zM47 116h1v1h-1zM16 117h1v1h-1zM4 118h1v1h-1zM7 118h1v1h-1zM45 118h1v1h-1zM55 118h1v1h-1zM57 118h2v1h-2zM17 120h1v1h-1zM53 120h1v1h-1zM9 121h1v1h-1zM5 122h1v1h-1zM55 122h2v1h-2zM58 122h1v1h-1zM19 123h1v1h-1zM47 124h1v1h-1zM40 125h1v1h-1zM58 125h1v1h-1zM48 126h1v1h-1zM59 126h1v1h-1zM32 127h1v1h-1zM40 127h1v1h-1zM47 127h1v1h-1zM51 127h1v1h-1zM3 128h1v1h-1zM49 128h1v1h-1zM59 128h1v1h-1zM49 129h1v1h-1zM59 130h1v1h-1zM51 131h1v1h-1zM47 132h1v1h-1zM58 133h2v1h-2zM49 135h1v1h-1zM58 136h1v1h-1zM43 137h1v1h-1zM55 137h1v1h-1zM58 138h1v1h-1zM59 139h1v1h-1zM40 140h1v1h-1zM22 142h1v1h-1zM27 142h1v1h-1zM30 143h1v1h-1zM44 143h1v1h-1zM28 144h1v1h-1zM52 144h1v1h-1zM42 145h1v1h-1zM48 145h1v1h-1zM34 146h1v1h-1zM48 146h2v1h-2zM33 147h1v1h-1zM35 147h1v1h-1zM38 147h1v1h-1zM48 147h1v1h-1zM55 147h1v1h-1zM26 148h1v1h-1zM29 148h1v1h-1zM51 148h1v1h-1zM24 149h1v1h-1zM33 149h1v1h-1zM43 149h1v1h-1zM46 149h1v1h-1zM20 151h1v1h-1zM50 151h1v1h-1zM22 152h1v1h-1zM54 152h1v1h-1zM33 153h1v1h-1zM44 154h1v1h-1zM29 156h2v1h-2zM33 156h1v1h-1zM42 156h1v1h-1zM34 157h1v1h-1zM22 158h2v1h-2zM48 158h2v1h-2zM51 158h2v1h-2zM54 158h1v1h-1zM22 159h1v1h-1zM25 159h1v1h-1zM27 159h1v1h-1zM53 159h1v1h-1z"/>
<path fill="#fae6d6" d="M18 0h1v1h-1zM11 1h1v1h-1zM0 5h1v1h-1zM3 5h1v1h-1zM8 5h1v1h-1zM52 5h1v1h-1zM2 6h1v1h-1zM13 6h1v1h-1zM52 8h1v1h-1zM5 9h1v1h-1zM10 12h1v1h-1zM0 14h1v1h-1zM4 14h1v1h-1zM3 15h1v1h-1zM11 15h2v1h-2zM14 15h1v1h-1zM1 16h1v1h-1zM4 17h1v1h-1zM12 18h2v1h-2zM6 20h1v1h-1zM6 23h1v1h-1zM10 24h1v1h-1zM8 26h1v1h-1zM2 27h1v1h-1zM6 27h1v1h-1zM5 28h1v1h-1zM9 29h1v1h-1zM13 29h1v1h-1zM15 29h1v1h-1zM3 31h1v1h-1zM10 32h1v1h-1zM6 34h1v1h-1zM13 34h1v1h-1zM1 35h1v1h-1zM6 35h1v1h-1zM16 35h1v1h-1zM3 38h1v1h-1zM5 39h1v1h-1zM18 40h1v1h-1zM8 42h1v1h-1zM15 42h1v1h-1zM7 43h1v1h-1zM15 43h1v1h-1zM8 46h1v1h-1zM10 46h1v1h-1zM13 46h1v1h-1zM3 50h1v1h-1zM2 51h1v1h-1zM14 51h1v1h-1zM1 53h1v1h-1zM2 54h1v1h-1zM7 54h1v1h-1zM13 56h1v1h-1zM7 57h2v1h-2zM11 59h1v1h-1zM15 59h1v1h-1zM2 61h1v1h-1zM5 61h1v1h-1zM7 62h1v1h-1zM3 64h1v1h-1zM14 65h1v1h-1zM19 65h1v1h-1zM0 66h1v1h-1zM10 66h1v1h-1zM14 67h1v1h-1zM10 68h1v1h-1zM8 69h1v1h-1zM7 70h1v1h-1zM6 71h1v1h-1zM6 73h1v1h-1zM16 73h1v1h-1zM17 74h1v1h-1zM8 75h1v1h-1zM1 76h1v1h-1zM8 76h1v1h-1zM7 79h1v1h-1zM1 80h1v1h-1zM7 81h1v1h-1zM11 81h1v1h-1zM11 83h1v1h-1zM13 84h1v1h-1zM0 85h1v1h-1zM10 87h1v1h-1zM13 87h1v1h-1zM15 88h1v1h-1zM13 89h1v1h-1zM13 90h1v1h-1zM9 92h1v1h-1zM3 93h1v1h-1zM9 93h1v1h-1zM2 94h1v1h-1zM5 96h1v1h-1zM4 99h1v1h-1zM7 102h1v1h-1zM5 103h1v1h-1zM11 103h1v1h-1zM13 104h1v1h-1zM14 105h1v1h-1zM10 106h1v1h-1zM13 106h1v1h-1zM15 106h1v1h-1zM8 107h1v1h-1zM11 109h1v1h-1zM6 113h1v1h-1zM10 115h1v1h-1zM1 116h1v1h-1zM8 116h1v1h-1zM15 116h1v1h-1zM1 117h1v1h-1zM9 118h1v1h-1zM9 119h1v1h-1zM5 121h1v1h-1zM50 123h1v1h-1zM56 124h1v1h-1zM44 127h1v1h-1zM40 128h1v1h-1zM58 130h1v1h-1zM57 131h1v1h-1zM44 132h1v1h-1zM54 133h1v1h-1zM44 136h1v1h-1zM50 136h1v1h-1zM56 136h1v1h-1zM44 139h1v1h-1zM53 140h1v1h-1zM59 144h1v1h-1zM37 146h1v1h-1zM45 147h1v1h-1zM29 149h1v1h-1zM51 149h1v1h-1zM56 150h2v1h-2zM53 151h1v1h-1zM54 153h1v1h-1zM56 153h1v1h-1zM42 154h1v1h-1zM50 154h1v1h-1zM56 154h1v1h-1zM42 158h1v1h-1zM57 158h1v1h-1z"/>
<path fill="#f6f6fa" d="M20 0h1v1h-1zM31 0h1v1h-1zM48 0h1v1h-1zM31 1h1v1h-1zM45 1h1v1h-1zM29 2h1v1h-1zM36 2h1v1h-1zM22 4h1v1h-1zM28 5h1v1h-1zM35 5h1v1h-1zM22 6h2v1h-2zM38 6h1v1h-1zM43 6h1v1h-1zM58 6h1v1h-1zM25 7h1v1h-1zM28 7h1v1h-1zM28 8h1v1h-1zM56 8h1v1h-1zM29 9h1v1h-1zM58 9h1v1h-1zM40 10h2v1h-2zM57 10h1v1h-1zM59 10h1v1h-1zM28 11h1v1h-1zM23 12h1v1h-1zM55 14h1v1h-1zM21 15h1v1h-1zM42 15h1v1h-1zM34 16h1v1h-1zM41 16h1v1h-1zM39 17h1v1h-1zM52 17h1v1h-1zM47 18h1v1h-1zM56 19h1v1h-1zM27 20h1v1h-1zM47 20h1v1h-1zM27 21h1v1h-1zM33 21h1v1h-1zM37 21h1v1h-1zM53 21h1v1h-1zM25 22h1v1h-1zM30 22h1v1h-1zM58 22h1v1h-1zM26 23h1v1h-1zM59 23h1v1h-1zM20 24h1v1h-1zM28 24h1v1h-1zM42 24h1v1h-1zM58 24h1v1h-1zM24 25h1v1h-1zM36 25h1v1h-1zM20 26h1v1h-1zM40 26h1v1h-1zM33 27h1v1h-1zM42 28h1v1h-1zM50 28h1v1h-1zM54 28h2v1h-2zM57 28h1v1h-1zM29 29h1v1h-1zM31 29h1v1h-1zM44 29h1v1h-1zM54 29h1v1h-1zM57 29h1v1h-1zM31 30h1v1h-1zM26 31h1v1h-1zM23 32h1v1h-1zM42 32h1v1h-1zM38 34h1v1h-1zM50 34h1v1h-1zM40 35h1v1h-1zM56 37h1v1h-1zM24 38h1v1h-1zM21 39h1v1h-1zM41 39h1v1h-1zM43 39h1v1h-1zM38 40h1v1h-1zM57 40h1v1h-1zM33 41h1v1h-1zM45 41h1v1h-1zM53 41h1v1h-1zM27 43h1v1h-1zM26 44h1v1h-1zM38 44h1v1h-1zM21 45h1v1h-1zM25 45h2v1h-2zM41 45h1v1h-1zM49 45h1v1h-1zM49 47h1v1h-1zM24 49h1v1h-1zM40 49h1v1h-1zM45 49h1v1h-1zM57 49h1v1h-1zM25 50h1v1h-1zM59 50h1v1h-1zM49 51h1v1h-1zM21 54h1v1h-1zM32 54h1v1h-1zM34 54h1v1h-1zM39 54h1v1h-1zM32 55h1v1h-1zM42 55h1v1h-1zM45 55h1v1h-1zM58 55h1v1h-1zM20 57h1v1h-1zM51 57h1v1h-1zM56 57h1v1h-1zM57 58h2v1h-2zM24 59h1v1h-1zM56 59h1v1h-1zM23 60h1v1h-1zM33 60h1v1h-1zM37 60h1v1h-1zM58 60h1v1h-1zM26 61h1v1h-1zM57 61h1v1h-1zM35 62h1v1h-1zM42 62h1v1h-1zM32 64h1v1h-1zM35 64h1v1h-1zM47 64h1v1h-1zM24 65h1v1h-1zM26 65h1v1h-1zM54 65h1v1h-1zM37 66h1v1h-1zM50 66h1v1h-1zM50 67h1v1h-1zM36 68h2v1h-2zM45 68h1v1h-1zM27 69h1v1h-1zM45 69h1v1h-1zM53 69h1v1h-1zM22 70h1v1h-1zM32 70h1v1h-1zM42 70h1v1h-1zM29 71h1v1h-1zM41 71h1v1h-1zM22 72h1v1h-1zM26 73h1v1h-1zM50 73h1v1h-1zM37 74h1v1h-1zM26 76h1v1h-1zM28 76h1v1h-1zM30 77h1v1h-1zM32 77h1v1h-1zM23 78h1v1h-1zM23 80h1v1h-1zM25 80h1v1h-1zM25 81h1v1h-1zM37 81h1v1h-1zM21 82h1v1h-1zM30 83h1v1h-1zM30 84h2v1h-2zM33 84h1v1h-1zM38 84h1v1h-1zM33 85h1v1h-1zM20 86h1v1h-1zM23 86h1v1h-1zM33 86h1v1h-1zM41 86h1v1h-1zM33 87h1v1h-1zM39 87h1v1h-1zM24 90h2v1h-2zM37 90h1v1h-1zM38 92h1v1h-1zM33 93h1v1h-1zM45 93h1v1h-1zM45 94h1v1h-1zM24 95h1v1h-1zM55 95h1v1h-1zM22 98h1v1h-1zM30 99h1v1h-1zM45 99h1v1h-1zM28 100h1v1h-1zM59 100h1v1h-1zM21 101h1v1h-1zM38 101h1v1h-1zM29 102h1v1h-1zM35 102h1v1h-1zM48 102h1v1h-1zM40 103h1v1h-1zM44 103h1v1h-1zM26 104h1v1h-1zM41 104h1v1h-1zM47 104h1v1h-1zM40 105h1v1h-1zM32 106h1v1h-1zM54 106h1v1h-1zM56 106h1v1h-1zM36 107h1v1h-1zM39 107h1v1h-1zM21 108h1v1h-1zM24 108h1v1h-1zM37 108h1v1h-1zM40 108h1v1h-1zM37 109h1v1h-1zM33 110h1v1h-1zM49 110h1v1h-1zM50 111h1v1h-1zM47 112h1v1h-1zM22 113h1v1h-1zM35 113h1v1h-1zM41 113h1v1h-1zM22 114h1v1h-1zM32 117h1v1h-1zM25 118h1v1h-1zM20 120h1v1h-1zM23 121h1v1h-1zM16 122h1v1h-1zM39 124h1v1h-1zM1 125h1v1h-1zM20 125h1v1h-1zM39 125h1v1h-1zM10 126h1v1h-1zM13 126h1v1h-1zM38 126h1v1h-1zM22 127h1v1h-1zM26 129h1v1h-1zM28 130h1v1h-1zM23 131h1v1h-1zM0 132h1v1h-1zM10 132h1v1h-1zM28 132h1v1h-1zM31 132h1v1h-1zM35 132h1v1h-1zM26 133h1v1h-1zM37 133h1v1h-1zM5 134h1v1h-1zM7 135h1v1h-1zM16 136h1v1h-1zM37 136h1v1h-1zM3 137h1v1h-1zM16 137h1v1h-1zM7 138h1v1h-1zM11 139h1v1h-1zM34 139h1v1h-1zM3 140h1v1h-1zM21 140h1v1h-1zM19 141h1v1h-1zM3 147h1v1h-1zM16 147h1v1h-1zM37 148h1v1h-1zM9 150h1v1h-1zM14 150h2v1h-2zM1 151h1v1h-1zM37 152h1v1h-1zM0 153h2v1h-2zM7 153h1v1h-1zM28 154h1v1h-1zM1 156h1v1h-1zM6 156h1v1h-1zM13 156h1v1h-1zM21 156h1v1h-1zM26 156h1v1h-1z"/>
<path fill="#eaeef6" d="M21 0h2v1h-2zM44 0h1v1h-1zM43 1h1v1h-1zM53 3h1v1h-1zM21 4h1v1h-1zM37 5h2v1h-2zM59 6h1v1h-1zM20 7h1v1h-1zM24 7h1v1h-1zM44 7h1v1h-1zM48 7h1v1h-1zM23 8h1v1h-1zM38 8h1v1h-1zM42 8h1v1h-1zM51 8h1v1h-1zM30 9h2v1h-2zM48 10h1v1h-1zM20 11h1v1h-1zM37 11h1v1h-1zM39 11h1v1h-1zM41 11h1v1h-1zM54 11h1v1h-1zM35 12h3v1h-3zM40 12h1v1h-1zM54 12h1v1h-1zM21 13h1v1h-1zM38 13h1v1h-1zM40 13h1v1h-1zM58 13h1v1h-1zM33 14h1v1h-1zM39 14h1v1h-1zM54 14h1v1h-1zM35 16h1v1h-1zM49 16h1v1h-1zM37 17h1v1h-1zM53 17h1v1h-1zM24 18h1v1h-1zM40 18h1v1h-1zM52 18h1v1h-1zM32 19h1v1h-1zM38 19h1v1h-1zM47 19h1v1h-1zM52 19h1v1h-1zM57 19h1v1h-1zM43 20h1v1h-1zM36 22h1v1h-1zM23 23h1v1h-1zM28 23h1v1h-1zM32 23h1v1h-1zM38 24h1v1h-1zM46 24h2v1h-2zM59 24h1v1h-1zM32 25h1v1h-1zM40 25h1v1h-1zM47 25h1v1h-1zM23 26h1v1h-1zM26 26h1v1h-1zM36 26h1v1h-1zM47 26h1v1h-1zM22 27h1v1h-1zM34 27h1v1h-1zM47 27h1v1h-1zM26 28h1v1h-1zM31 28h2v1h-2zM38 28h1v1h-1zM25 30h1v1h-1zM35 30h1v1h-1zM41 30h2v1h-2zM54 30h1v1h-1zM58 30h1v1h-1zM37 31h1v1h-1zM40 32h2v1h-2zM57 33h1v1h-1zM24 34h1v1h-1zM58 34h1v1h-1zM21 36h1v1h-1zM25 36h1v1h-1zM44 37h1v1h-1zM50 37h1v1h-1zM0 38h1v1h-1zM26 38h1v1h-1zM30 38h1v1h-1zM57 38h1v1h-1zM59 38h1v1h-1zM48 39h2v1h-2zM51 39h1v1h-1zM57 39h1v1h-1zM26 40h1v1h-1zM34 40h1v1h-1zM37 40h1v1h-1zM30 41h1v1h-1zM49 41h2v1h-2zM23 42h1v1h-1zM46 42h1v1h-1zM43 43h1v1h-1zM46 43h2v1h-2zM21 44h1v1h-1zM23 44h1v1h-1zM50 44h1v1h-1zM54 44h1v1h-1zM29 45h1v1h-1zM37 45h1v1h-1zM43 45h1v1h-1zM54 45h1v1h-1zM41 46h1v1h-1zM43 46h1v1h-1zM45 46h1v1h-1zM26 47h1v1h-1zM30 47h1v1h-1zM32 47h1v1h-1zM36 47h1v1h-1zM38 47h1v1h-1zM43 47h1v1h-1zM59 47h1v1h-1zM42 48h1v1h-1zM51 48h1v1h-1zM51 49h1v1h-1zM51 50h1v1h-1zM47 51h1v1h-1zM41 52h1v1h-1zM49 52h1v1h-1zM58 52h2v1h-2zM47 53h1v1h-1zM42 54h1v1h-1zM56 54h2v1h-2zM36 55h1v1h-1zM43 56h1v1h-1zM54 56h1v1h-1zM35 57h1v1h-1zM44 57h1v1h-1zM57 57h1v1h-1zM43 58h1v1h-1zM25 59h1v1h-1zM30 59h1v1h-1zM43 59h1v1h-1zM49 59h1v1h-1zM55 59h1v1h-1zM57 59h1v1h-1zM41 60h1v1h-1zM48 60h1v1h-1zM48 62h2v1h-2zM53 62h1v1h-1zM42 63h1v1h-1zM56 63h1v1h-1zM53 64h1v1h-1zM57 64h1v1h-1zM54 66h1v1h-1zM40 67h1v1h-1zM46 67h1v1h-1zM41 68h1v1h-1zM55 68h1v1h-1zM38 70h1v1h-1zM43 70h2v1h-2zM59 70h1v1h-1zM31 71h1v1h-1zM37 71h1v1h-1zM36 72h1v1h-1zM44 72h1v1h-1zM49 72h2v1h-2zM57 72h1v1h-1zM55 73h1v1h-1zM46 74h1v1h-1zM31 75h1v1h-1zM21 76h1v1h-1zM40 76h2v1h-2zM50 76h1v1h-1zM55 77h1v1h-1zM47 78h1v1h-1zM44 80h1v1h-1zM44 81h1v1h-1zM48 82h1v1h-1zM50 82h1v1h-1zM48 83h1v1h-1zM47 84h1v1h-1zM53 84h1v1h-1zM56 84h2v1h-2zM48 85h1v1h-1zM43 86h1v1h-1zM46 86h1v1h-1zM50 86h1v1h-1zM50 87h1v1h-1zM58 87h1v1h-1zM31 89h1v1h-1zM48 89h2v1h-2zM21 90h1v1h-1zM43 90h1v1h-1zM58 90h1v1h-1zM48 91h1v1h-1zM58 91h1v1h-1zM50 92h1v1h-1zM53 92h1v1h-1zM49 93h1v1h-1zM13 96h1v1h-1zM46 96h1v1h-1zM55 96h1v1h-1zM37 97h1v1h-1zM26 98h1v1h-1zM29 98h1v1h-1zM38 98h1v1h-1zM53 99h1v1h-1zM58 99h1v1h-1zM21 100h1v1h-1zM47 100h1v1h-1zM49 100h1v1h-1zM51 100h1v1h-1zM23 101h1v1h-1zM32 101h1v1h-1zM35 101h1v1h-1zM37 101h1v1h-1zM54 101h1v1h-1zM57 101h1v1h-1zM28 102h1v1h-1zM31 104h1v1h-1zM46 104h1v1h-1zM31 105h1v1h-1zM23 106h1v1h-1zM33 106h1v1h-1zM37 106h1v1h-1zM25 107h1v1h-1zM57 107h1v1h-1zM33 108h1v1h-1zM51 108h2v1h-2zM49 109h1v1h-1zM28 110h1v1h-1zM43 110h1v1h-1zM27 111h1v1h-1zM32 111h1v1h-1zM37 113h1v1h-1zM43 113h1v1h-1zM46 113h1v1h-1zM51 113h1v1h-1zM37 114h1v1h-1zM30 115h1v1h-1zM32 115h1v1h-1zM52 115h1v1h-1zM31 117h1v1h-1zM36 117h1v1h-1zM26 118h1v1h-1zM31 118h1v1h-1zM36 119h1v1h-1zM38 119h1v1h-1zM26 120h1v1h-1zM22 121h1v1h-1zM21 122h1v1h-1zM35 122h1v1h-1zM5 123h1v1h-1zM22 124h1v1h-1zM31 124h1v1h-1zM33 124h1v1h-1zM21 125h1v1h-1zM19 127h1v1h-1zM26 128h1v1h-1zM23 129h1v1h-1zM29 129h1v1h-1zM36 130h1v1h-1zM35 131h1v1h-1zM1 133h1v1h-1zM9 134h1v1h-1zM35 134h1v1h-1zM21 135h1v1h-1zM26 135h1v1h-1zM33 135h1v1h-1zM36 136h1v1h-1zM38 137h1v1h-1zM12 138h1v1h-1zM32 138h2v1h-2zM35 139h1v1h-1zM4 140h1v1h-1zM15 140h2v1h-2zM13 141h2v1h-2zM0 142h1v1h-1zM2 142h1v1h-1zM4 142h1v1h-1zM16 142h1v1h-1zM3 144h1v1h-1zM13 144h1v1h-1zM17 144h1v1h-1zM4 145h1v1h-1zM13 145h1v1h-1zM17 146h1v1h-1zM6 147h1v1h-1zM19 147h1v1h-1zM1 148h1v1h-1zM11 149h1v1h-1zM17 149h3v1h-3zM19 150h1v1h-1zM19 151h1v1h-1zM6 152h2v1h-2zM19 152h1v1h-1zM0 154h1v1h-1zM11 154h1v1h-1zM0 155h1v1h-1zM6 155h1v1h-1zM0 156h1v1h-1zM15 156h1v1h-1zM4 157h1v1h-1zM16 157h1v1h-1zM22 157h1v1h-1zM15 158h1v1h-1zM7 159h1v1h-1z"/>
<path fill="#eef2fa" d="M23 0h1v1h-1zM28 0h1v1h-1zM32 0h1v1h-1zM35 0h1v1h-1zM46 0h1v1h-1zM51 0h1v1h-1zM53 0h1v1h-1zM28 1h1v1h-1zM47 1h1v1h-1zM50 1h1v1h-1zM25 2h1v1h-1zM43 2h1v1h-1zM26 3h1v1h-1zM31 3h3v1h-3zM37 3h1v1h-1zM47 3h1v1h-1zM57 3h1v1h-1zM17 4h1v1h-1zM20 4h1v1h-1zM23 4h1v1h-1zM36 4h1v1h-1zM44 4h1v1h-1zM21 5h1v1h-1zM31 5h2v1h-2zM36 5h1v1h-1zM45 5h1v1h-1zM49 5h1v1h-1zM30 7h1v1h-1zM58 7h1v1h-1zM20 8h1v1h-1zM31 8h1v1h-1zM33 8h1v1h-1zM44 8h2v1h-2zM20 9h1v1h-1zM24 9h2v1h-2zM49 9h2v1h-2zM54 9h1v1h-1zM24 10h2v1h-2zM27 10h1v1h-1zM30 10h1v1h-1zM34 10h1v1h-1zM39 10h1v1h-1zM43 10h1v1h-1zM46 10h1v1h-1zM38 11h1v1h-1zM48 11h2v1h-2zM58 11h1v1h-1zM20 12h1v1h-1zM33 12h1v1h-1zM39 12h1v1h-1zM44 12h1v1h-1zM48 12h1v1h-1zM57 12h1v1h-1zM22 13h1v1h-1zM24 13h1v1h-1zM26 13h2v1h-2zM33 13h1v1h-1zM37 13h1v1h-1zM44 13h2v1h-2zM48 13h1v1h-1zM51 13h1v1h-1zM21 14h1v1h-1zM26 14h1v1h-1zM35 14h1v1h-1zM41 14h2v1h-2zM47 14h1v1h-1zM50 14h1v1h-1zM53 14h1v1h-1zM27 15h1v1h-1zM53 15h1v1h-1zM50 16h1v1h-1zM54 16h1v1h-1zM56 16h2v1h-2zM23 17h1v1h-1zM33 17h1v1h-1zM36 17h1v1h-1zM41 17h1v1h-1zM55 17h1v1h-1zM44 18h1v1h-1zM54 18h1v1h-1zM23 19h1v1h-1zM26 19h1v1h-1zM40 19h1v1h-1zM42 19h1v1h-1zM51 19h1v1h-1zM23 20h1v1h-1zM25 20h1v1h-1zM30 20h2v1h-2zM38 20h1v1h-1zM40 20h1v1h-1zM30 21h1v1h-1zM41 21h2v1h-2zM44 21h1v1h-1zM40 22h1v1h-1zM43 22h2v1h-2zM59 22h1v1h-1zM25 23h1v1h-1zM48 23h1v1h-1zM50 23h1v1h-1zM52 23h1v1h-1zM55 23h1v1h-1zM43 24h1v1h-1zM50 24h2v1h-2zM20 25h1v1h-1zM27 25h1v1h-1zM31 25h1v1h-1zM33 25h1v1h-1zM37 25h1v1h-1zM44 25h1v1h-1zM50 25h1v1h-1zM55 25h1v1h-1zM31 26h2v1h-2zM37 26h2v1h-2zM45 26h1v1h-1zM51 26h1v1h-1zM56 26h2v1h-2zM0 27h1v1h-1zM40 27h1v1h-1zM49 27h1v1h-1zM55 27h1v1h-1zM26 30h1v1h-1zM47 30h2v1h-2zM50 30h1v1h-1zM53 30h1v1h-1zM23 31h1v1h-1zM32 31h1v1h-1zM39 31h2v1h-2zM43 31h2v1h-2zM48 31h1v1h-1zM51 31h1v1h-1zM56 31h1v1h-1zM51 32h1v1h-1zM21 33h1v1h-1zM24 33h1v1h-1zM33 33h4v1h-4zM45 33h1v1h-1zM26 34h1v1h-1zM30 34h1v1h-1zM32 35h1v1h-1zM41 35h1v1h-1zM45 35h1v1h-1zM50 35h1v1h-1zM52 35h1v1h-1zM55 35h1v1h-1zM28 36h1v1h-1zM35 36h1v1h-1zM46 36h1v1h-1zM55 36h1v1h-1zM58 36h2v1h-2zM26 37h1v1h-1zM30 37h1v1h-1zM33 37h1v1h-1zM36 37h1v1h-1zM38 37h1v1h-1zM40 37h1v1h-1zM46 37h1v1h-1zM54 37h1v1h-1zM58 37h2v1h-2zM31 38h2v1h-2zM39 38h1v1h-1zM49 38h1v1h-1zM55 38h1v1h-1zM23 39h1v1h-1zM33 39h1v1h-1zM56 39h1v1h-1zM20 40h1v1h-1zM23 40h1v1h-1zM30 40h1v1h-1zM35 40h1v1h-1zM40 40h1v1h-1zM43 40h1v1h-1zM21 41h1v1h-1zM35 41h1v1h-1zM37 41h1v1h-1zM56 41h1v1h-1zM58 41h1v1h-1zM24 42h1v1h-1zM30 42h1v1h-1zM43 42h1v1h-1zM48 42h2v1h-2zM57 42h1v1h-1zM20 43h1v1h-1zM26 43h1v1h-1zM31 43h2v1h-2zM34 43h1v1h-1zM36 43h1v1h-1zM38 43h1v1h-1zM41 43h1v1h-1zM20 44h1v1h-1zM31 44h1v1h-1zM33 44h1v1h-1zM41 44h2v1h-2zM47 44h3v1h-3zM51 44h1v1h-1zM23 45h1v1h-1zM35 45h1v1h-1zM42 45h1v1h-1zM46 45h1v1h-1zM26 46h1v1h-1zM36 46h2v1h-2zM44 46h1v1h-1zM47 46h1v1h-1zM51 46h1v1h-1zM55 46h1v1h-1zM24 47h2v1h-2zM52 47h1v1h-1zM56 47h1v1h-1zM58 47h1v1h-1zM30 48h1v1h-1zM48 48h1v1h-1zM55 48h1v1h-1zM26 49h1v1h-1zM32 49h1v1h-1zM49 49h1v1h-1zM55 49h1v1h-1zM40 50h2v1h-2zM54 51h1v1h-1zM56 51h1v1h-1zM58 51h1v1h-1zM39 52h1v1h-1zM45 52h1v1h-1zM54 52h1v1h-1zM56 52h2v1h-2zM57 53h1v1h-1zM20 54h1v1h-1zM22 54h1v1h-1zM31 54h1v1h-1zM36 54h1v1h-1zM40 54h1v1h-1zM43 54h1v1h-1zM47 54h1v1h-1zM49 54h1v1h-1zM53 54h1v1h-1zM58 54h1v1h-1zM21 55h1v1h-1zM26 55h1v1h-1zM40 55h1v1h-1zM54 55h1v1h-1zM55 56h1v1h-1zM58 56h1v1h-1zM50 57h1v1h-1zM53 57h1v1h-1zM45 58h1v1h-1zM59 58h1v1h-1zM20 59h1v1h-1zM40 59h1v1h-1zM42 59h1v1h-1zM45 59h1v1h-1zM55 60h2v1h-2zM41 61h1v1h-1zM26 62h1v1h-1zM37 62h1v1h-1zM50 62h1v1h-1zM57 62h1v1h-1zM32 63h1v1h-1zM41 63h1v1h-1zM45 63h1v1h-1zM49 63h2v1h-2zM55 63h1v1h-1zM59 63h1v1h-1zM42 64h1v1h-1zM23 65h1v1h-1zM58 65h1v1h-1zM30 66h1v1h-1zM42 66h1v1h-1zM48 66h1v1h-1zM56 66h1v1h-1zM30 67h1v1h-1zM43 67h2v1h-2zM55 67h1v1h-1zM59 67h1v1h-1zM22 68h1v1h-1zM31 68h1v1h-1zM49 68h1v1h-1zM20 69h1v1h-1zM22 69h1v1h-1zM28 69h1v1h-1zM55 69h1v1h-1zM57 69h1v1h-1zM36 70h1v1h-1zM50 70h1v1h-1zM42 71h1v1h-1zM50 71h1v1h-1zM24 72h1v1h-1zM40 72h1v1h-1zM43 72h1v1h-1zM54 72h1v1h-1zM30 73h1v1h-1zM42 73h1v1h-1zM44 73h1v1h-1zM47 73h1v1h-1zM44 74h1v1h-1zM51 74h1v1h-1zM58 74h1v1h-1zM25 75h1v1h-1zM36 75h1v1h-1zM40 75h1v1h-1zM55 75h1v1h-1zM31 76h1v1h-1zM53 76h1v1h-1zM55 76h1v1h-1zM58 76h2v1h-2zM31 77h1v1h-1zM33 77h1v1h-1zM41 77h1v1h-1zM51 77h1v1h-1zM58 77h1v1h-1zM31 78h1v1h-1zM57 78h1v1h-1zM26 79h1v1h-1zM26 80h1v1h-1zM37 80h1v1h-1zM57 80h1v1h-1zM24 81h1v1h-1zM48 81h1v1h-1zM41 82h1v1h-1zM58 82h1v1h-1zM23 83h1v1h-1zM45 83h1v1h-1zM43 84h1v1h-1zM45 84h1v1h-1zM27 85h1v1h-1zM42 85h2v1h-2zM58 85h1v1h-1zM38 87h1v1h-1zM44 87h1v1h-1zM25 88h1v1h-1zM31 88h1v1h-1zM47 88h1v1h-1zM55 88h1v1h-1zM36 89h1v1h-1zM56 89h1v1h-1zM42 90h1v1h-1zM56 90h1v1h-1zM30 91h1v1h-1zM37 91h1v1h-1zM42 92h1v1h-1zM48 92h2v1h-2zM42 93h2v1h-2zM46 93h2v1h-2zM56 93h1v1h-1zM21 94h1v1h-1zM23 94h2v1h-2zM34 94h1v1h-1zM37 94h1v1h-1zM32 95h1v1h-1zM46 95h1v1h-1zM58 95h1v1h-1zM22 96h1v1h-1zM25 96h1v1h-1zM40 96h2v1h-2zM42 97h1v1h-1zM17 98h1v1h-1zM23 98h1v1h-1zM30 98h1v1h-1zM40 98h1v1h-1zM45 98h1v1h-1zM25 99h1v1h-1zM28 99h2v1h-2zM37 99h1v1h-1zM41 99h1v1h-1zM43 99h1v1h-1zM49 99h1v1h-1zM22 100h1v1h-1zM26 100h1v1h-1zM29 100h1v1h-1zM44 100h1v1h-1zM46 100h1v1h-1zM20 101h1v1h-1zM40 101h1v1h-1zM26 102h1v1h-1zM38 102h1v1h-1zM40 102h1v1h-1zM43 102h1v1h-1zM46 102h1v1h-1zM58 102h1v1h-1zM23 103h1v1h-1zM33 103h3v1h-3zM43 103h1v1h-1zM46 103h1v1h-1zM20 104h1v1h-1zM22 104h1v1h-1zM35 104h1v1h-1zM48 104h1v1h-1zM29 105h2v1h-2zM32 105h1v1h-1zM54 105h1v1h-1zM21 106h1v1h-1zM26 106h1v1h-1zM29 106h1v1h-1zM34 106h1v1h-1zM42 106h1v1h-1zM51 106h1v1h-1zM58 106h1v1h-1zM30 107h1v1h-1zM49 107h2v1h-2zM54 107h1v1h-1zM26 108h1v1h-1zM28 108h1v1h-1zM31 108h2v1h-2zM42 108h1v1h-1zM47 108h1v1h-1zM28 109h1v1h-1zM30 109h1v1h-1zM32 109h1v1h-1zM34 109h1v1h-1zM38 109h1v1h-1zM48 109h1v1h-1zM31 110h1v1h-1zM51 110h1v1h-1zM21 111h4v1h-4zM28 111h1v1h-1zM35 111h1v1h-1zM58 111h2v1h-2zM25 112h1v1h-1zM37 112h2v1h-2zM46 112h1v1h-1zM59 112h1v1h-1zM20 113h1v1h-1zM53 113h1v1h-1zM38 114h1v1h-1zM25 115h1v1h-1zM34 115h1v1h-1zM37 115h1v1h-1zM39 115h1v1h-1zM20 116h1v1h-1zM29 116h1v1h-1zM36 116h1v1h-1zM56 116h1v1h-1zM39 118h1v1h-1zM59 118h1v1h-1zM26 119h1v1h-1zM28 119h1v1h-1zM37 119h1v1h-1zM37 120h1v1h-1zM46 120h1v1h-1zM26 121h1v1h-1zM31 121h1v1h-1zM3 122h1v1h-1zM9 122h1v1h-1zM12 122h1v1h-1zM23 122h1v1h-1zM39 122h1v1h-1zM25 123h2v1h-2zM9 124h1v1h-1zM23 124h1v1h-1zM25 124h1v1h-1zM32 124h1v1h-1zM34 124h1v1h-1zM26 125h1v1h-1zM35 125h1v1h-1zM29 126h1v1h-1zM36 126h1v1h-1zM13 127h2v1h-2zM20 127h1v1h-1zM25 127h2v1h-2zM38 127h1v1h-1zM0 128h1v1h-1zM21 128h1v1h-1zM35 128h1v1h-1zM37 128h1v1h-1zM7 129h1v1h-1zM22 129h1v1h-1zM26 130h2v1h-2zM31 130h2v1h-2zM35 130h1v1h-1zM24 131h1v1h-1zM19 132h1v1h-1zM23 132h1v1h-1zM37 132h1v1h-1zM6 133h1v1h-1zM21 133h1v1h-1zM35 133h2v1h-2zM38 133h1v1h-1zM4 134h1v1h-1zM7 134h1v1h-1zM20 134h1v1h-1zM23 134h1v1h-1zM37 134h1v1h-1zM2 135h1v1h-1zM19 135h2v1h-2zM24 135h1v1h-1zM32 135h1v1h-1zM35 135h1v1h-1zM5 136h1v1h-1zM24 136h1v1h-1zM29 136h1v1h-1zM5 137h1v1h-1zM19 137h2v1h-2zM22 137h2v1h-2zM34 137h1v1h-1zM10 138h1v1h-1zM25 138h1v1h-1zM2 139h1v1h-1zM10 139h1v1h-1zM16 139h1v1h-1zM25 139h1v1h-1zM32 139h2v1h-2zM7 140h1v1h-1zM12 140h2v1h-2zM25 140h1v1h-1zM28 140h1v1h-1zM37 140h1v1h-1zM6 141h1v1h-1zM8 141h1v1h-1zM15 141h1v1h-1zM18 141h1v1h-1zM1 142h1v1h-1zM6 142h1v1h-1zM11 142h1v1h-1zM15 142h1v1h-1zM4 143h1v1h-1zM12 143h1v1h-1zM14 143h1v1h-1zM2 145h1v1h-1zM5 145h1v1h-1zM30 145h1v1h-1zM3 146h1v1h-1zM8 146h1v1h-1zM11 146h1v1h-1zM19 146h1v1h-1zM4 147h1v1h-1zM10 147h1v1h-1zM14 147h1v1h-1zM3 148h1v1h-1zM6 148h1v1h-1zM14 148h1v1h-1zM5 149h1v1h-1zM8 149h1v1h-1zM14 149h1v1h-1zM1 150h1v1h-1zM11 150h2v1h-2zM26 151h1v1h-1zM1 152h1v1h-1zM3 152h1v1h-1zM8 152h1v1h-1zM14 152h1v1h-1zM9 153h1v1h-1zM18 153h1v1h-1zM10 154h1v1h-1zM37 154h1v1h-1zM1 155h2v1h-2zM5 156h1v1h-1zM8 156h1v1h-1zM11 156h1v1h-1zM14 156h1v1h-1zM19 156h1v1h-1zM1 157h1v1h-1zM3 157h1v1h-1zM6 157h1v1h-1zM3 158h2v1h-2zM6 158h1v1h-1zM8 158h2v1h-2zM18 158h1v1h-1zM6 159h1v1h-1zM8 159h1v1h-1zM26 159h1v1h-1z"/>
<path fill="#f6fafe" d="M24 0h1v1h-1zM40 0h1v1h-1zM37 1h1v1h-1zM44 1h1v1h-1zM32 2h1v1h-1zM40 2h1v1h-1zM42 2h1v1h-1zM51 2h1v1h-1zM21 3h1v1h-1zM51 3h1v1h-1zM24 4h1v1h-1zM31 4h1v1h-1zM50 4h1v1h-1zM54 4h1v1h-1zM28 6h1v1h-1zM26 7h2v1h-2zM39 7h1v1h-1zM34 8h1v1h-1zM40 8h1v1h-1zM49 8h1v1h-1zM53 8h1v1h-1zM35 9h1v1h-1zM43 9h1v1h-1zM51 9h1v1h-1zM33 10h1v1h-1zM51 11h1v1h-1zM32 12h1v1h-1zM45 12h1v1h-1zM47 13h1v1h-1zM25 14h1v1h-1zM41 15h1v1h-1zM51 15h1v1h-1zM28 16h1v1h-1zM55 16h1v1h-1zM44 17h1v1h-1zM31 18h1v1h-1zM55 19h1v1h-1zM26 20h1v1h-1zM33 20h1v1h-1zM37 20h1v1h-1zM39 21h1v1h-1zM55 21h1v1h-1zM23 22h1v1h-1zM31 22h1v1h-1zM54 22h1v1h-1zM31 23h1v1h-1zM21 24h1v1h-1zM32 24h1v1h-1zM37 24h1v1h-1zM57 24h1v1h-1zM30 25h1v1h-1zM45 25h1v1h-1zM21 27h1v1h-1zM43 27h1v1h-1zM20 28h1v1h-1zM29 28h2v1h-2zM38 29h1v1h-1zM40 29h1v1h-1zM47 29h1v1h-1zM53 29h1v1h-1zM55 29h1v1h-1zM47 31h1v1h-1zM21 32h1v1h-1zM48 32h1v1h-1zM57 32h1v1h-1zM53 33h1v1h-1zM32 34h1v1h-1zM58 35h1v1h-1zM48 36h1v1h-1zM22 37h1v1h-1zM28 38h1v1h-1zM46 38h1v1h-1zM53 38h1v1h-1zM58 38h1v1h-1zM40 41h1v1h-1zM35 42h1v1h-1zM54 42h1v1h-1zM56 43h1v1h-1zM34 44h1v1h-1zM56 45h1v1h-1zM58 46h1v1h-1zM33 47h1v1h-1zM41 47h1v1h-1zM54 47h2v1h-2zM36 49h1v1h-1zM35 51h1v1h-1zM29 52h1v1h-1zM21 53h2v1h-2zM24 53h1v1h-1zM28 54h1v1h-1zM20 55h1v1h-1zM35 55h1v1h-1zM28 57h1v1h-1zM30 57h1v1h-1zM50 58h1v1h-1zM26 59h1v1h-1zM33 59h1v1h-1zM36 59h1v1h-1zM35 60h1v1h-1zM31 61h1v1h-1zM35 61h1v1h-1zM34 63h1v1h-1zM58 63h1v1h-1zM22 66h1v1h-1zM31 66h1v1h-1zM35 66h1v1h-1zM27 67h1v1h-1zM51 67h1v1h-1zM35 68h1v1h-1zM58 68h1v1h-1zM25 69h1v1h-1zM32 69h1v1h-1zM47 69h1v1h-1zM56 70h1v1h-1zM24 71h1v1h-1zM35 71h1v1h-1zM45 71h1v1h-1zM28 72h1v1h-1zM45 72h1v1h-1zM41 74h1v1h-1zM41 75h2v1h-2zM34 76h1v1h-1zM56 76h1v1h-1zM29 78h1v1h-1zM36 78h1v1h-1zM45 78h1v1h-1zM21 79h1v1h-1zM23 79h1v1h-1zM29 79h1v1h-1zM41 80h1v1h-1zM35 81h1v1h-1zM36 82h2v1h-2zM24 83h1v1h-1zM27 83h1v1h-1zM20 84h1v1h-1zM20 85h1v1h-1zM31 85h1v1h-1zM24 86h1v1h-1zM27 86h1v1h-1zM47 86h1v1h-1zM18 87h1v1h-1zM25 87h1v1h-1zM42 87h1v1h-1zM32 88h1v1h-1zM35 88h1v1h-1zM45 88h1v1h-1zM56 88h1v1h-1zM20 89h1v1h-1zM33 90h1v1h-1zM45 90h1v1h-1zM27 92h1v1h-1zM37 92h1v1h-1zM30 93h1v1h-1zM30 94h1v1h-1zM32 94h1v1h-1zM41 95h1v1h-1zM23 96h1v1h-1zM26 96h2v1h-2zM35 96h1v1h-1zM37 96h1v1h-1zM32 97h1v1h-1zM36 97h1v1h-1zM35 98h1v1h-1zM38 100h1v1h-1zM42 100h1v1h-1zM42 101h1v1h-1zM55 102h1v1h-1zM21 103h1v1h-1zM25 103h1v1h-1zM36 103h1v1h-1zM28 104h1v1h-1zM33 104h2v1h-2zM47 105h1v1h-1zM20 106h1v1h-1zM30 106h1v1h-1zM53 106h1v1h-1zM26 107h1v1h-1zM34 107h1v1h-1zM34 108h1v1h-1zM50 108h1v1h-1zM42 109h1v1h-1zM23 110h1v1h-1zM29 110h1v1h-1zM35 110h1v1h-1zM39 111h1v1h-1zM56 111h1v1h-1zM20 112h1v1h-1zM33 112h1v1h-1zM25 113h1v1h-1zM28 113h1v1h-1zM38 113h1v1h-1zM40 113h1v1h-1zM55 113h1v1h-1zM58 113h1v1h-1zM23 114h1v1h-1zM26 114h1v1h-1zM31 115h1v1h-1zM40 115h1v1h-1zM22 116h1v1h-1zM40 116h1v1h-1zM52 116h1v1h-1zM32 118h1v1h-1zM34 118h1v1h-1zM32 119h1v1h-1zM34 119h1v1h-1zM48 121h1v1h-1zM9 123h1v1h-1zM21 123h1v1h-1zM0 124h1v1h-1zM32 125h1v1h-1zM0 126h1v1h-1zM7 127h1v1h-1zM9 127h1v1h-1zM11 127h1v1h-1zM23 128h1v1h-1zM32 129h1v1h-1zM9 130h1v1h-1zM10 131h1v1h-1zM2 133h3v1h-3zM19 133h1v1h-1zM22 133h1v1h-1zM3 134h1v1h-1zM13 134h1v1h-1zM29 134h1v1h-1zM25 135h1v1h-1zM8 136h1v1h-1zM21 136h1v1h-1zM34 136h1v1h-1zM0 137h1v1h-1zM10 137h1v1h-1zM14 137h1v1h-1zM35 137h1v1h-1zM37 137h1v1h-1zM39 137h1v1h-1zM2 138h1v1h-1zM16 138h1v1h-1zM10 140h2v1h-2zM19 142h1v1h-1zM9 144h1v1h-1zM46 145h1v1h-1zM59 145h1v1h-1zM13 147h1v1h-1zM32 147h1v1h-1zM16 149h1v1h-1zM6 153h1v1h-1zM1 154h1v1h-1zM24 159h1v1h-1zM33 159h1v1h-1zM37 159h1v1h-1z"/>
<path fill="#fefefe" d="M25 0h1v1h-1zM38 0h2v1h-2zM41 0h1v1h-1zM45 0h1v1h-1zM54 0h1v1h-1zM21 1h1v1h-1zM25 1h1v1h-1zM29 1h2v1h-2zM32 1h1v1h-1zM38 1h1v1h-1zM16 2h1v1h-1zM22 2h1v1h-1zM27 2h1v1h-1zM34 2h2v1h-2zM44 2h1v1h-1zM53 2h1v1h-1zM55 2h1v1h-1zM27 3h1v1h-1zM30 3h1v1h-1zM34 3h1v1h-1zM38 3h1v1h-1zM43 3h1v1h-1zM54 3h1v1h-1zM28 4h1v1h-1zM38 4h1v1h-1zM42 4h1v1h-1zM45 4h1v1h-1zM55 4h2v1h-2zM16 5h1v1h-1zM20 5h1v1h-1zM22 5h1v1h-1zM39 5h1v1h-1zM41 5h1v1h-1zM53 5h1v1h-1zM56 5h1v1h-1zM24 6h2v1h-2zM27 6h1v1h-1zM29 6h1v1h-1zM45 6h1v1h-1zM48 6h1v1h-1zM50 6h1v1h-1zM17 7h1v1h-1zM23 7h1v1h-1zM29 7h1v1h-1zM32 7h1v1h-1zM45 7h1v1h-1zM21 8h2v1h-2zM35 8h1v1h-1zM33 9h1v1h-1zM36 9h4v1h-4zM45 9h1v1h-1zM56 9h1v1h-1zM49 10h1v1h-1zM53 10h2v1h-2zM22 11h1v1h-1zM29 11h1v1h-1zM44 11h1v1h-1zM47 11h1v1h-1zM53 11h1v1h-1zM55 11h1v1h-1zM4 12h1v1h-1zM18 12h1v1h-1zM21 12h2v1h-2zM50 12h2v1h-2zM58 12h1v1h-1zM18 13h1v1h-1zM30 13h1v1h-1zM41 13h1v1h-1zM22 14h1v1h-1zM27 14h2v1h-2zM30 14h1v1h-1zM45 14h1v1h-1zM57 14h2v1h-2zM20 15h1v1h-1zM45 15h1v1h-1zM21 16h1v1h-1zM40 16h1v1h-1zM44 16h1v1h-1zM24 17h1v1h-1zM26 17h1v1h-1zM29 17h3v1h-3zM34 17h2v1h-2zM45 17h1v1h-1zM54 17h1v1h-1zM57 17h1v1h-1zM20 18h1v1h-1zM22 18h2v1h-2zM28 18h1v1h-1zM30 18h1v1h-1zM38 18h2v1h-2zM42 18h1v1h-1zM49 18h3v1h-3zM53 18h1v1h-1zM55 18h1v1h-1zM4 19h1v1h-1zM28 19h3v1h-3zM34 19h1v1h-1zM36 19h2v1h-2zM41 19h1v1h-1zM45 19h1v1h-1zM48 19h1v1h-1zM50 19h1v1h-1zM54 19h1v1h-1zM28 20h2v1h-2zM41 20h1v1h-1zM44 20h1v1h-1zM48 20h1v1h-1zM19 21h2v1h-2zM22 21h3v1h-3zM28 21h2v1h-2zM31 21h1v1h-1zM34 21h1v1h-1zM28 22h1v1h-1zM34 22h2v1h-2zM39 22h1v1h-1zM48 22h2v1h-2zM51 22h1v1h-1zM55 22h1v1h-1zM4 23h1v1h-1zM29 23h1v1h-1zM34 23h1v1h-1zM36 23h1v1h-1zM56 23h1v1h-1zM16 24h1v1h-1zM18 24h1v1h-1zM25 24h1v1h-1zM55 24h1v1h-1zM21 25h2v1h-2zM41 25h2v1h-2zM48 25h1v1h-1zM54 25h1v1h-1zM56 25h1v1h-1zM18 26h1v1h-1zM21 26h2v1h-2zM25 26h1v1h-1zM27 26h1v1h-1zM34 26h1v1h-1zM25 27h1v1h-1zM31 27h1v1h-1zM38 27h1v1h-1zM42 27h1v1h-1zM48 27h1v1h-1zM53 27h1v1h-1zM56 27h1v1h-1zM21 28h1v1h-1zM24 28h2v1h-2zM34 28h2v1h-2zM47 28h1v1h-1zM58 28h1v1h-1zM22 29h3v1h-3zM34 29h1v1h-1zM41 29h1v1h-1zM45 29h1v1h-1zM18 30h3v1h-3zM23 30h2v1h-2zM28 30h1v1h-1zM17 31h1v1h-1zM25 31h1v1h-1zM27 31h2v1h-2zM36 31h1v1h-1zM22 32h1v1h-1zM28 32h1v1h-1zM37 32h2v1h-2zM27 33h1v1h-1zM39 33h1v1h-1zM44 33h1v1h-1zM56 33h1v1h-1zM21 34h1v1h-1zM28 34h1v1h-1zM34 34h1v1h-1zM39 34h1v1h-1zM45 34h1v1h-1zM54 34h1v1h-1zM20 35h1v1h-1zM22 35h1v1h-1zM28 35h2v1h-2zM37 35h1v1h-1zM48 35h1v1h-1zM23 36h1v1h-1zM29 36h3v1h-3zM37 36h1v1h-1zM20 37h2v1h-2zM23 37h1v1h-1zM27 37h3v1h-3zM37 37h1v1h-1zM39 37h1v1h-1zM42 37h1v1h-1zM48 37h1v1h-1zM57 37h1v1h-1zM33 38h1v1h-1zM48 38h1v1h-1zM51 38h1v1h-1zM12 39h1v1h-1zM20 39h1v1h-1zM27 39h1v1h-1zM59 39h1v1h-1zM25 40h1v1h-1zM42 40h1v1h-1zM50 40h1v1h-1zM55 40h1v1h-1zM31 41h1v1h-1zM34 41h1v1h-1zM39 41h1v1h-1zM42 41h1v1h-1zM44 41h1v1h-1zM17 42h1v1h-1zM22 42h1v1h-1zM26 42h1v1h-1zM33 42h1v1h-1zM37 42h1v1h-1zM41 42h1v1h-1zM51 42h1v1h-1zM24 43h1v1h-1zM28 43h1v1h-1zM54 43h1v1h-1zM22 44h1v1h-1zM27 44h1v1h-1zM29 44h2v1h-2zM45 44h1v1h-1zM55 44h1v1h-1zM58 44h1v1h-1zM33 45h1v1h-1zM50 45h1v1h-1zM57 45h1v1h-1zM23 46h3v1h-3zM35 46h1v1h-1zM38 46h1v1h-1zM42 46h1v1h-1zM52 46h1v1h-1zM56 46h1v1h-1zM20 47h4v1h-4zM28 47h2v1h-2zM34 47h2v1h-2zM44 47h1v1h-1zM24 48h1v1h-1zM28 48h1v1h-1zM31 48h2v1h-2zM39 48h1v1h-1zM49 48h2v1h-2zM20 49h1v1h-1zM22 49h2v1h-2zM25 49h1v1h-1zM28 49h1v1h-1zM30 49h1v1h-1zM42 49h1v1h-1zM54 49h1v1h-1zM56 49h1v1h-1zM4 50h1v1h-1zM21 50h1v1h-1zM29 50h1v1h-1zM55 50h1v1h-1zM58 50h1v1h-1zM25 51h1v1h-1zM28 51h1v1h-1zM30 51h1v1h-1zM32 51h3v1h-3zM36 51h1v1h-1zM38 51h2v1h-2zM41 51h1v1h-1zM21 52h1v1h-1zM34 52h2v1h-2zM16 53h1v1h-1zM26 53h2v1h-2zM31 53h4v1h-4zM36 53h1v1h-1zM23 54h1v1h-1zM33 54h1v1h-1zM18 55h1v1h-1zM22 55h1v1h-1zM29 55h1v1h-1zM31 55h1v1h-1zM39 55h1v1h-1zM57 55h1v1h-1zM20 56h1v1h-1zM22 56h1v1h-1zM25 56h1v1h-1zM29 56h2v1h-2zM34 56h3v1h-3zM38 56h1v1h-1zM53 56h1v1h-1zM4 57h1v1h-1zM36 57h1v1h-1zM20 58h2v1h-2zM23 58h1v1h-1zM32 58h3v1h-3zM37 58h1v1h-1zM55 58h1v1h-1zM17 59h1v1h-1zM22 59h1v1h-1zM35 59h1v1h-1zM53 59h1v1h-1zM12 60h1v1h-1zM22 60h1v1h-1zM27 60h1v1h-1zM34 60h1v1h-1zM38 60h2v1h-2zM57 60h1v1h-1zM20 61h1v1h-1zM27 61h1v1h-1zM33 61h1v1h-1zM50 61h1v1h-1zM56 61h1v1h-1zM20 62h1v1h-1zM23 62h2v1h-2zM27 62h1v1h-1zM36 62h1v1h-1zM24 63h1v1h-1zM26 63h1v1h-1zM31 63h1v1h-1zM36 63h2v1h-2zM39 63h1v1h-1zM21 64h4v1h-4zM29 64h1v1h-1zM33 64h1v1h-1zM39 64h1v1h-1zM20 65h1v1h-1zM22 65h1v1h-1zM30 65h1v1h-1zM34 65h1v1h-1zM36 65h1v1h-1zM38 65h1v1h-1zM53 65h1v1h-1zM59 65h1v1h-1zM21 66h1v1h-1zM24 66h1v1h-1zM36 66h1v1h-1zM38 66h1v1h-1zM24 67h1v1h-1zM26 67h1v1h-1zM28 67h1v1h-1zM35 67h1v1h-1zM38 67h1v1h-1zM45 67h1v1h-1zM56 67h1v1h-1zM58 67h1v1h-1zM18 68h1v1h-1zM24 68h1v1h-1zM34 68h1v1h-1zM38 68h2v1h-2zM56 68h1v1h-1zM31 69h1v1h-1zM34 69h1v1h-1zM42 69h1v1h-1zM23 70h2v1h-2zM27 70h2v1h-2zM35 70h1v1h-1zM45 70h1v1h-1zM20 71h2v1h-2zM53 71h1v1h-1zM56 71h1v1h-1zM21 72h1v1h-1zM25 72h1v1h-1zM29 72h1v1h-1zM34 72h1v1h-1zM38 72h1v1h-1zM7 73h1v1h-1zM37 73h1v1h-1zM20 74h2v1h-2zM28 74h2v1h-2zM33 74h1v1h-1zM35 74h1v1h-1zM40 74h1v1h-1zM45 74h1v1h-1zM53 74h1v1h-1zM57 74h1v1h-1zM27 75h1v1h-1zM33 75h3v1h-3zM39 75h1v1h-1zM45 75h1v1h-1zM59 75h1v1h-1zM4 76h1v1h-1zM16 76h1v1h-1zM20 76h1v1h-1zM24 76h1v1h-1zM32 76h1v1h-1zM36 76h1v1h-1zM39 76h1v1h-1zM44 76h1v1h-1zM22 77h2v1h-2zM34 77h1v1h-1zM36 77h1v1h-1zM39 77h1v1h-1zM21 78h2v1h-2zM26 78h1v1h-1zM28 78h1v1h-1zM37 78h1v1h-1zM22 79h1v1h-1zM45 79h1v1h-1zM12 80h1v1h-1zM27 80h1v1h-1zM30 80h1v1h-1zM46 80h1v1h-1zM22 81h1v1h-1zM28 81h2v1h-2zM38 81h1v1h-1zM26 82h1v1h-1zM29 82h4v1h-4zM34 82h1v1h-1zM55 82h1v1h-1zM17 83h1v1h-1zM22 83h1v1h-1zM25 83h1v1h-1zM31 83h3v1h-3zM36 83h1v1h-1zM39 83h1v1h-1zM18 84h1v1h-1zM24 84h1v1h-1zM26 84h1v1h-1zM28 84h1v1h-1zM37 84h1v1h-1zM39 84h1v1h-1zM21 85h1v1h-1zM26 85h1v1h-1zM34 85h1v1h-1zM37 85h1v1h-1zM39 85h1v1h-1zM21 86h1v1h-1zM30 86h3v1h-3zM36 86h3v1h-3zM22 87h2v1h-2zM27 87h1v1h-1zM30 87h1v1h-1zM37 87h1v1h-1zM56 87h1v1h-1zM16 88h1v1h-1zM21 88h3v1h-3zM26 88h1v1h-1zM34 88h1v1h-1zM36 88h1v1h-1zM25 89h1v1h-1zM28 89h1v1h-1zM34 89h1v1h-1zM42 89h1v1h-1zM16 90h1v1h-1zM27 90h2v1h-2zM30 90h2v1h-2zM34 90h1v1h-1zM17 91h1v1h-1zM20 91h1v1h-1zM23 91h2v1h-2zM35 91h1v1h-1zM38 91h1v1h-1zM21 92h2v1h-2zM33 92h1v1h-1zM19 93h1v1h-1zM24 93h3v1h-3zM29 93h1v1h-1zM36 93h3v1h-3zM44 93h1v1h-1zM16 94h1v1h-1zM25 94h1v1h-1zM27 94h1v1h-1zM31 94h1v1h-1zM21 95h1v1h-1zM27 95h5v1h-5zM34 95h2v1h-2zM39 95h1v1h-1zM20 96h1v1h-1zM31 96h2v1h-2zM20 97h2v1h-2zM23 97h2v1h-2zM26 97h1v1h-1zM28 97h1v1h-1zM31 97h1v1h-1zM33 97h1v1h-1zM39 97h1v1h-1zM20 98h1v1h-1zM25 98h1v1h-1zM36 98h1v1h-1zM17 99h1v1h-1zM21 99h3v1h-3zM27 99h1v1h-1zM39 99h1v1h-1zM42 99h1v1h-1zM47 99h1v1h-1zM27 100h1v1h-1zM34 100h2v1h-2zM40 100h1v1h-1zM50 100h1v1h-1zM53 100h1v1h-1zM57 100h1v1h-1zM39 101h1v1h-1zM55 101h1v1h-1zM58 101h1v1h-1zM25 102h1v1h-1zM45 102h1v1h-1zM50 102h1v1h-1zM57 102h1v1h-1zM16 103h1v1h-1zM20 103h1v1h-1zM41 103h1v1h-1zM45 103h1v1h-1zM47 103h1v1h-1zM55 103h1v1h-1zM16 104h1v1h-1zM21 104h1v1h-1zM25 104h1v1h-1zM27 104h1v1h-1zM39 104h2v1h-2zM42 104h1v1h-1zM57 104h1v1h-1zM23 105h1v1h-1zM25 105h1v1h-1zM28 105h1v1h-1zM39 105h1v1h-1zM41 105h1v1h-1zM43 105h4v1h-4zM53 105h1v1h-1zM55 105h2v1h-2zM19 106h1v1h-1zM24 106h1v1h-1zM39 106h1v1h-1zM55 106h1v1h-1zM18 107h1v1h-1zM21 107h2v1h-2zM24 107h1v1h-1zM32 107h1v1h-1zM38 107h1v1h-1zM41 107h1v1h-1zM55 107h1v1h-1zM20 108h1v1h-1zM27 108h1v1h-1zM29 108h1v1h-1zM41 108h1v1h-1zM55 108h1v1h-1zM57 108h1v1h-1zM20 109h1v1h-1zM23 109h2v1h-2zM47 109h1v1h-1zM50 109h1v1h-1zM56 109h1v1h-1zM22 110h1v1h-1zM24 110h1v1h-1zM26 110h1v1h-1zM34 110h1v1h-1zM36 110h1v1h-1zM38 110h1v1h-1zM55 110h1v1h-1zM57 110h1v1h-1zM59 110h1v1h-1zM12 111h2v1h-2zM34 111h1v1h-1zM22 112h3v1h-3zM28 112h2v1h-2zM35 112h2v1h-2zM45 112h1v1h-1zM50 112h1v1h-1zM56 112h2v1h-2zM7 113h1v1h-1zM12 113h1v1h-1zM27 113h1v1h-1zM32 113h1v1h-1zM20 114h1v1h-1zM24 114h1v1h-1zM40 114h1v1h-1zM12 115h1v1h-1zM15 115h1v1h-1zM21 115h1v1h-1zM41 115h1v1h-1zM47 115h1v1h-1zM49 115h1v1h-1zM57 115h1v1h-1zM12 116h1v1h-1zM21 116h1v1h-1zM25 116h1v1h-1zM32 116h1v1h-1zM34 116h2v1h-2zM41 116h1v1h-1zM24 117h1v1h-1zM34 117h1v1h-1zM37 117h1v1h-1zM40 117h1v1h-1zM43 117h1v1h-1zM48 117h1v1h-1zM5 118h1v1h-1zM38 118h1v1h-1zM40 118h1v1h-1zM46 118h2v1h-2zM53 118h1v1h-1zM24 119h2v1h-2zM31 119h1v1h-1zM42 119h1v1h-1zM51 119h1v1h-1zM16 120h1v1h-1zM25 120h1v1h-1zM35 120h1v1h-1zM39 120h1v1h-1zM44 120h1v1h-1zM55 120h1v1h-1zM18 121h1v1h-1zM25 121h1v1h-1zM27 121h1v1h-1zM37 121h1v1h-1zM39 121h1v1h-1zM46 121h1v1h-1zM0 122h1v1h-1zM10 122h2v1h-2zM19 122h1v1h-1zM24 122h1v1h-1zM27 122h1v1h-1zM29 122h1v1h-1zM34 122h1v1h-1zM40 122h2v1h-2zM48 122h1v1h-1zM51 122h2v1h-2zM3 123h1v1h-1zM6 123h3v1h-3zM10 123h1v1h-1zM12 123h1v1h-1zM14 123h1v1h-1zM22 123h3v1h-3zM27 123h1v1h-1zM35 123h1v1h-1zM37 123h1v1h-1zM1 124h2v1h-2zM18 124h1v1h-1zM26 124h2v1h-2zM29 124h1v1h-1zM35 124h1v1h-1zM2 125h1v1h-1zM6 125h1v1h-1zM8 125h1v1h-1zM11 125h1v1h-1zM14 125h2v1h-2zM18 125h2v1h-2zM22 125h2v1h-2zM27 125h1v1h-1zM34 125h1v1h-1zM15 126h1v1h-1zM24 126h1v1h-1zM31 126h2v1h-2zM34 126h1v1h-1zM37 126h1v1h-1zM0 127h3v1h-3zM6 127h1v1h-1zM24 127h1v1h-1zM55 127h1v1h-1zM6 128h3v1h-3zM14 128h1v1h-1zM16 128h1v1h-1zM18 128h1v1h-1zM33 128h1v1h-1zM39 128h1v1h-1zM0 129h2v1h-2zM3 129h1v1h-1zM14 129h2v1h-2zM17 129h2v1h-2zM25 129h1v1h-1zM31 129h1v1h-1zM37 129h1v1h-1zM48 129h1v1h-1zM59 129h1v1h-1zM1 130h1v1h-1zM4 130h1v1h-1zM7 130h1v1h-1zM10 130h1v1h-1zM15 130h1v1h-1zM22 130h1v1h-1zM39 130h1v1h-1zM48 130h1v1h-1zM2 131h2v1h-2zM6 131h1v1h-1zM12 131h1v1h-1zM15 131h1v1h-1zM17 131h2v1h-2zM20 131h1v1h-1zM34 131h1v1h-1zM39 131h1v1h-1zM59 131h1v1h-1zM1 132h2v1h-2zM6 132h1v1h-1zM13 132h2v1h-2zM20 132h1v1h-1zM25 132h3v1h-3zM39 132h1v1h-1zM5 133h1v1h-1zM7 133h1v1h-1zM9 133h2v1h-2zM12 133h1v1h-1zM18 133h1v1h-1zM27 133h1v1h-1zM39 133h2v1h-2zM1 134h1v1h-1zM14 134h2v1h-2zM19 134h1v1h-1zM39 134h1v1h-1zM49 134h1v1h-1zM1 135h1v1h-1zM5 135h2v1h-2zM8 135h2v1h-2zM16 135h1v1h-1zM54 135h1v1h-1zM2 136h3v1h-3zM7 136h1v1h-1zM14 136h1v1h-1zM22 136h1v1h-1zM8 137h1v1h-1zM27 137h1v1h-1zM58 137h1v1h-1zM1 138h1v1h-1zM13 138h2v1h-2zM21 138h1v1h-1zM29 138h1v1h-1zM31 138h1v1h-1zM34 138h1v1h-1zM47 138h1v1h-1zM51 138h1v1h-1zM13 139h1v1h-1zM19 139h1v1h-1zM29 139h1v1h-1zM19 140h1v1h-1zM22 140h1v1h-1zM29 140h1v1h-1zM31 140h2v1h-2zM34 140h2v1h-2zM39 140h1v1h-1zM7 141h1v1h-1zM28 141h1v1h-1zM23 142h1v1h-1zM33 142h2v1h-2zM36 142h1v1h-1zM40 142h1v1h-1zM32 143h2v1h-2zM59 143h1v1h-1zM21 144h1v1h-1zM31 144h1v1h-1zM36 144h3v1h-3zM46 144h1v1h-1zM21 145h1v1h-1zM31 145h1v1h-1zM49 145h1v1h-1zM13 146h1v1h-1zM25 146h2v1h-2zM32 146h1v1h-1zM46 146h1v1h-1zM9 147h1v1h-1zM23 147h1v1h-1zM39 147h1v1h-1zM43 147h1v1h-1zM21 148h1v1h-1zM31 148h2v1h-2zM36 148h1v1h-1zM39 148h1v1h-1zM47 148h1v1h-1zM6 149h1v1h-1zM26 149h1v1h-1zM38 149h1v1h-1zM58 149h1v1h-1zM23 150h1v1h-1zM34 150h1v1h-1zM38 150h1v1h-1zM23 151h1v1h-1zM38 151h1v1h-1zM48 151h1v1h-1zM21 152h1v1h-1zM26 152h1v1h-1zM31 152h2v1h-2zM38 152h1v1h-1zM42 152h1v1h-1zM57 152h1v1h-1zM8 153h1v1h-1zM10 153h1v1h-1zM23 153h1v1h-1zM26 153h1v1h-1zM37 153h1v1h-1zM46 153h1v1h-1zM26 154h1v1h-1zM32 154h1v1h-1zM46 154h1v1h-1zM48 154h1v1h-1zM8 155h1v1h-1zM13 155h1v1h-1zM23 155h1v1h-1zM30 155h1v1h-1zM33 155h1v1h-1zM36 155h1v1h-1zM38 155h1v1h-1zM59 156h1v1h-1zM15 157h1v1h-1zM7 158h1v1h-1zM21 158h1v1h-1zM10 159h1v1h-1zM14 159h1v1h-1zM20 159h1v1h-1zM23 159h1v1h-1zM30 159h1v1h-1zM38 159h1v1h-1zM44 159h1v1h-1zM46 159h1v1h-1zM52 159h1v1h-1zM58 159h1v1h-1z"/>
<path fill="#e2eaf6" d="M26 0h1v1h-1zM33 0h2v1h-2zM48 1h1v1h-1zM37 2h1v1h-1zM58 2h1v1h-1zM58 3h1v1h-1zM26 4h1v1h-1zM50 5h1v1h-1zM34 6h1v1h-1zM46 6h1v1h-1zM7 7h1v1h-1zM42 7h1v1h-1zM46 7h1v1h-1zM53 7h1v1h-1zM56 7h1v1h-1zM26 8h1v1h-1zM55 8h1v1h-1zM57 8h1v1h-1zM59 8h1v1h-1zM23 9h1v1h-1zM21 11h1v1h-1zM40 11h1v1h-1zM46 11h1v1h-1zM52 11h1v1h-1zM30 12h1v1h-1zM41 12h1v1h-1zM47 12h1v1h-1zM32 13h1v1h-1zM53 13h1v1h-1zM57 13h1v1h-1zM43 14h1v1h-1zM23 16h1v1h-1zM32 16h1v1h-1zM42 16h1v1h-1zM59 19h1v1h-1zM46 20h1v1h-1zM21 21h1v1h-1zM40 21h1v1h-1zM23 24h1v1h-1zM30 26h1v1h-1zM33 26h1v1h-1zM35 26h1v1h-1zM53 26h1v1h-1zM55 26h1v1h-1zM36 28h1v1h-1zM41 28h1v1h-1zM43 29h1v1h-1zM49 30h1v1h-1zM52 30h1v1h-1zM55 30h1v1h-1zM24 31h1v1h-1zM33 31h1v1h-1zM38 31h1v1h-1zM46 31h1v1h-1zM54 32h1v1h-1zM26 33h1v1h-1zM49 33h1v1h-1zM33 34h1v1h-1zM42 34h1v1h-1zM24 36h1v1h-1zM34 36h1v1h-1zM39 36h2v1h-2zM49 36h1v1h-1zM57 36h1v1h-1zM24 37h1v1h-1zM40 38h1v1h-1zM52 38h1v1h-1zM58 39h1v1h-1zM43 41h1v1h-1zM52 41h1v1h-1zM44 42h1v1h-1zM55 42h1v1h-1zM32 44h1v1h-1zM31 45h1v1h-1zM48 45h1v1h-1zM57 46h1v1h-1zM16 47h1v1h-1zM45 48h1v1h-1zM58 48h1v1h-1zM48 50h1v1h-1zM50 50h1v1h-1zM44 51h2v1h-2zM57 51h1v1h-1zM59 51h1v1h-1zM31 52h1v1h-1zM42 52h1v1h-1zM30 53h1v1h-1zM40 53h1v1h-1zM44 53h1v1h-1zM46 53h1v1h-1zM45 54h1v1h-1zM51 54h1v1h-1zM55 55h1v1h-1zM44 56h1v1h-1zM48 56h1v1h-1zM51 56h2v1h-2zM56 56h1v1h-1zM59 56h1v1h-1zM47 57h1v1h-1zM53 58h1v1h-1zM51 59h1v1h-1zM42 60h1v1h-1zM44 60h1v1h-1zM54 60h1v1h-1zM47 61h1v1h-1zM49 61h1v1h-1zM46 62h1v1h-1zM59 62h1v1h-1zM46 63h1v1h-1zM40 64h2v1h-2zM44 64h1v1h-1zM48 64h1v1h-1zM2 65h1v1h-1zM45 65h1v1h-1zM52 65h1v1h-1zM49 66h1v1h-1zM59 66h1v1h-1zM37 67h1v1h-1zM48 67h1v1h-1zM54 67h1v1h-1zM46 68h2v1h-2zM54 68h1v1h-1zM57 68h1v1h-1zM40 69h1v1h-1zM51 69h1v1h-1zM58 69h1v1h-1zM41 70h1v1h-1zM51 70h1v1h-1zM55 70h1v1h-1zM58 70h1v1h-1zM30 71h1v1h-1zM46 72h1v1h-1zM47 74h1v1h-1zM46 75h1v1h-1zM49 76h1v1h-1zM51 76h1v1h-1zM44 77h1v1h-1zM47 77h1v1h-1zM59 77h1v1h-1zM46 78h1v1h-1zM56 78h1v1h-1zM47 79h1v1h-1zM47 80h1v1h-1zM50 80h1v1h-1zM53 80h1v1h-1zM40 81h1v1h-1zM43 81h1v1h-1zM49 81h1v1h-1zM53 81h1v1h-1zM46 82h1v1h-1zM59 82h1v1h-1zM41 83h1v1h-1zM29 84h1v1h-1zM42 84h1v1h-1zM55 84h1v1h-1zM44 85h1v1h-1zM26 86h1v1h-1zM40 86h1v1h-1zM48 86h1v1h-1zM41 87h1v1h-1zM43 87h1v1h-1zM48 87h2v1h-2zM40 88h2v1h-2zM53 88h1v1h-1zM41 89h1v1h-1zM43 89h1v1h-1zM47 89h1v1h-1zM59 89h1v1h-1zM44 90h1v1h-1zM5 91h1v1h-1zM55 91h1v1h-1zM54 92h1v1h-1zM58 93h1v1h-1zM40 94h1v1h-1zM42 94h1v1h-1zM49 94h1v1h-1zM42 95h1v1h-1zM56 96h1v1h-1zM49 97h2v1h-2zM53 97h1v1h-1zM55 97h2v1h-2zM31 98h1v1h-1zM50 98h1v1h-1zM31 99h1v1h-1zM40 99h1v1h-1zM46 99h1v1h-1zM16 100h1v1h-1zM43 100h1v1h-1zM31 101h1v1h-1zM33 101h1v1h-1zM44 101h1v1h-1zM52 101h1v1h-1zM32 102h2v1h-2zM51 102h1v1h-1zM27 103h1v1h-1zM31 103h1v1h-1zM42 103h1v1h-1zM30 104h1v1h-1zM41 106h1v1h-1zM59 106h1v1h-1zM28 107h1v1h-1zM48 107h1v1h-1zM43 108h2v1h-2zM49 108h1v1h-1zM26 111h1v1h-1zM30 111h1v1h-1zM37 111h1v1h-1zM43 111h1v1h-1zM52 111h1v1h-1zM30 112h1v1h-1zM48 112h1v1h-1zM31 113h1v1h-1zM47 113h2v1h-2zM35 114h1v1h-1zM24 115h1v1h-1zM38 115h1v1h-1zM38 116h1v1h-1zM30 117h1v1h-1zM33 119h1v1h-1zM30 120h2v1h-2zM4 122h1v1h-1zM28 122h1v1h-1zM4 125h1v1h-1zM31 125h1v1h-1zM33 125h1v1h-1zM38 125h1v1h-1zM30 126h1v1h-1zM27 127h1v1h-1zM33 127h1v1h-1zM30 128h1v1h-1zM32 128h1v1h-1zM38 128h1v1h-1zM20 130h1v1h-1zM37 131h1v1h-1zM16 132h1v1h-1zM12 134h1v1h-1zM32 134h2v1h-2zM36 134h1v1h-1zM37 135h2v1h-2zM33 137h1v1h-1zM0 138h1v1h-1zM28 138h1v1h-1zM24 139h1v1h-1zM31 139h1v1h-1zM5 141h1v1h-1zM18 142h1v1h-1zM2 143h1v1h-1zM7 143h1v1h-1zM13 143h1v1h-1zM15 143h1v1h-1zM2 144h1v1h-1zM7 144h1v1h-1zM17 145h1v1h-1zM6 146h1v1h-1zM16 146h1v1h-1zM18 146h1v1h-1zM0 148h1v1h-1zM4 148h1v1h-1zM15 148h3v1h-3zM3 149h1v1h-1zM3 150h1v1h-1zM18 150h1v1h-1zM10 151h1v1h-1zM4 153h1v1h-1zM17 153h1v1h-1zM8 154h1v1h-1zM18 156h1v1h-1zM12 158h1v1h-1zM14 158h1v1h-1zM17 158h1v1h-1zM2 159h2v1h-2zM5 159h1v1h-1zM11 159h1v1h-1zM13 159h1v1h-1z"/>
<path fill="#fafafe" d="M27 0h1v1h-1zM37 0h1v1h-1zM47 0h1v1h-1zM57 0h1v1h-1zM20 1h1v1h-1zM22 1h1v1h-1zM41 1h1v1h-1zM55 1h1v1h-1zM22 3h1v1h-1zM45 3h1v1h-1zM33 4h2v1h-2zM53 4h1v1h-1zM12 5h1v1h-1zM24 5h1v1h-1zM30 5h1v1h-1zM33 5h2v1h-2zM30 6h1v1h-1zM35 6h1v1h-1zM39 6h1v1h-1zM42 6h1v1h-1zM44 6h1v1h-1zM49 6h1v1h-1zM54 6h1v1h-1zM32 8h1v1h-1zM21 9h2v1h-2zM26 9h1v1h-1zM32 9h1v1h-1zM55 9h1v1h-1zM26 10h1v1h-1zM35 10h1v1h-1zM34 11h2v1h-2zM45 11h1v1h-1zM27 12h2v1h-2zM42 12h1v1h-1zM25 13h1v1h-1zM32 14h1v1h-1zM34 14h1v1h-1zM38 14h1v1h-1zM46 14h1v1h-1zM48 14h1v1h-1zM22 15h1v1h-1zM24 15h1v1h-1zM48 15h1v1h-1zM50 15h1v1h-1zM28 17h1v1h-1zM48 17h1v1h-1zM27 18h1v1h-1zM33 18h1v1h-1zM46 18h1v1h-1zM48 18h1v1h-1zM57 18h1v1h-1zM22 19h1v1h-1zM31 19h1v1h-1zM33 19h1v1h-1zM35 19h1v1h-1zM39 19h1v1h-1zM49 19h1v1h-1zM58 19h1v1h-1zM21 20h2v1h-2zM56 20h2v1h-2zM54 21h1v1h-1zM20 22h1v1h-1zM26 22h1v1h-1zM29 22h1v1h-1zM33 22h1v1h-1zM38 22h1v1h-1zM57 22h1v1h-1zM20 23h1v1h-1zM41 23h2v1h-2zM22 24h1v1h-1zM31 24h1v1h-1zM35 24h1v1h-1zM40 24h1v1h-1zM48 24h1v1h-1zM23 25h1v1h-1zM43 25h1v1h-1zM51 25h1v1h-1zM20 27h1v1h-1zM23 27h1v1h-1zM41 27h1v1h-1zM54 27h1v1h-1zM22 28h1v1h-1zM51 28h1v1h-1zM27 29h1v1h-1zM36 29h1v1h-1zM58 29h1v1h-1zM27 30h1v1h-1zM29 31h1v1h-1zM31 31h1v1h-1zM42 31h1v1h-1zM54 31h1v1h-1zM29 32h1v1h-1zM31 32h1v1h-1zM33 32h2v1h-2zM36 32h1v1h-1zM46 32h1v1h-1zM50 32h1v1h-1zM53 32h1v1h-1zM20 33h1v1h-1zM25 33h1v1h-1zM22 34h1v1h-1zM55 34h1v1h-1zM21 35h1v1h-1zM34 35h1v1h-1zM51 35h1v1h-1zM19 36h1v1h-1zM31 37h1v1h-1zM35 37h1v1h-1zM47 37h1v1h-1zM22 38h2v1h-2zM29 38h1v1h-1zM43 38h1v1h-1zM22 39h1v1h-1zM32 39h1v1h-1zM36 39h1v1h-1zM42 39h1v1h-1zM47 39h1v1h-1zM54 39h1v1h-1zM29 40h1v1h-1zM33 40h1v1h-1zM51 40h1v1h-1zM58 40h1v1h-1zM27 41h1v1h-1zM54 41h1v1h-1zM20 42h2v1h-2zM25 42h1v1h-1zM36 42h1v1h-1zM42 42h1v1h-1zM53 42h1v1h-1zM56 42h1v1h-1zM21 43h1v1h-1zM23 43h1v1h-1zM25 43h1v1h-1zM35 43h1v1h-1zM39 43h1v1h-1zM45 43h1v1h-1zM51 43h1v1h-1zM55 43h1v1h-1zM24 44h1v1h-1zM22 45h1v1h-1zM44 45h1v1h-1zM53 45h1v1h-1zM29 46h1v1h-1zM50 46h1v1h-1zM54 46h1v1h-1zM27 47h1v1h-1zM42 47h1v1h-1zM45 47h1v1h-1zM47 47h1v1h-1zM25 48h1v1h-1zM57 48h1v1h-1zM53 49h1v1h-1zM58 49h1v1h-1zM20 50h1v1h-1zM22 51h1v1h-1zM27 51h1v1h-1zM37 51h1v1h-1zM20 52h1v1h-1zM25 52h1v1h-1zM32 52h1v1h-1zM36 52h1v1h-1zM20 53h1v1h-1zM25 53h1v1h-1zM38 53h1v1h-1zM45 53h1v1h-1zM53 53h1v1h-1zM56 53h1v1h-1zM35 54h1v1h-1zM38 54h1v1h-1zM24 55h1v1h-1zM38 55h1v1h-1zM45 56h1v1h-1zM57 56h1v1h-1zM34 57h1v1h-1zM45 57h1v1h-1zM30 58h1v1h-1zM27 59h1v1h-1zM29 59h1v1h-1zM50 59h1v1h-1zM24 60h1v1h-1zM30 60h1v1h-1zM50 60h1v1h-1zM53 60h1v1h-1zM59 60h1v1h-1zM36 61h1v1h-1zM53 61h1v1h-1zM34 62h1v1h-1zM54 62h2v1h-2zM20 63h1v1h-1zM22 63h1v1h-1zM38 63h1v1h-1zM53 63h1v1h-1zM27 64h1v1h-1zM31 64h1v1h-1zM37 64h1v1h-1zM49 64h1v1h-1zM42 65h1v1h-1zM23 66h1v1h-1zM27 66h1v1h-1zM20 67h1v1h-1zM32 67h1v1h-1zM41 67h1v1h-1zM53 67h1v1h-1zM26 68h1v1h-1zM32 68h1v1h-1zM40 68h1v1h-1zM35 69h1v1h-1zM29 70h1v1h-1zM36 71h1v1h-1zM38 71h1v1h-1zM55 71h1v1h-1zM32 72h1v1h-1zM37 72h1v1h-1zM47 72h1v1h-1zM58 72h1v1h-1zM58 73h1v1h-1zM36 74h1v1h-1zM24 75h1v1h-1zM28 75h1v1h-1zM30 75h1v1h-1zM44 75h1v1h-1zM57 76h1v1h-1zM27 77h1v1h-1zM45 77h1v1h-1zM50 77h1v1h-1zM53 77h1v1h-1zM20 78h1v1h-1zM24 79h2v1h-2zM50 79h1v1h-1zM20 80h1v1h-1zM22 80h1v1h-1zM32 80h1v1h-1zM36 80h1v1h-1zM42 80h1v1h-1zM56 81h1v1h-1zM26 83h1v1h-1zM54 83h1v1h-1zM22 84h1v1h-1zM25 84h1v1h-1zM32 84h1v1h-1zM36 84h1v1h-1zM22 85h1v1h-1zM36 85h1v1h-1zM29 86h1v1h-1zM29 87h1v1h-1zM31 87h1v1h-1zM24 88h1v1h-1zM23 89h2v1h-2zM35 89h1v1h-1zM37 89h1v1h-1zM18 90h1v1h-1zM36 90h1v1h-1zM39 90h1v1h-1zM27 91h1v1h-1zM33 91h1v1h-1zM23 92h1v1h-1zM26 92h1v1h-1zM41 92h1v1h-1zM58 92h1v1h-1zM20 93h1v1h-1zM23 93h1v1h-1zM31 93h1v1h-1zM35 93h1v1h-1zM41 93h1v1h-1zM33 94h1v1h-1zM18 95h1v1h-1zM23 95h1v1h-1zM26 95h1v1h-1zM40 95h1v1h-1zM53 95h1v1h-1zM33 96h1v1h-1zM41 97h1v1h-1zM34 98h1v1h-1zM39 98h1v1h-1zM36 100h1v1h-1zM54 100h1v1h-1zM24 101h1v1h-1zM47 101h1v1h-1zM56 101h1v1h-1zM39 102h1v1h-1zM42 102h1v1h-1zM49 102h1v1h-1zM39 103h1v1h-1zM49 103h1v1h-1zM24 104h1v1h-1zM53 104h1v1h-1zM20 105h1v1h-1zM26 105h1v1h-1zM36 105h1v1h-1zM42 105h1v1h-1zM42 107h1v1h-1zM58 107h1v1h-1zM25 108h1v1h-1zM46 108h1v1h-1zM48 108h1v1h-1zM53 108h2v1h-2zM58 108h1v1h-1zM43 109h1v1h-1zM52 109h1v1h-1zM58 109h1v1h-1zM21 110h1v1h-1zM47 110h1v1h-1zM20 111h1v1h-1zM25 111h1v1h-1zM29 111h1v1h-1zM26 112h1v1h-1zM42 112h1v1h-1zM24 113h1v1h-1zM29 114h1v1h-1zM44 115h1v1h-1zM50 115h1v1h-1zM24 116h1v1h-1zM27 116h1v1h-1zM27 117h1v1h-1zM39 117h1v1h-1zM21 118h1v1h-1zM52 118h1v1h-1zM22 119h1v1h-1zM27 119h1v1h-1zM49 119h1v1h-1zM40 120h1v1h-1zM21 121h1v1h-1zM24 121h1v1h-1zM29 121h1v1h-1zM38 121h1v1h-1zM43 121h1v1h-1zM58 121h1v1h-1zM37 122h1v1h-1zM47 122h1v1h-1zM49 122h1v1h-1zM0 123h1v1h-1zM11 123h1v1h-1zM16 123h1v1h-1zM20 123h1v1h-1zM29 123h1v1h-1zM34 123h1v1h-1zM4 124h1v1h-1zM3 125h1v1h-1zM5 125h1v1h-1zM29 125h1v1h-1zM3 126h1v1h-1zM12 126h1v1h-1zM18 126h1v1h-1zM21 126h1v1h-1zM16 127h1v1h-1zM23 127h1v1h-1zM34 127h1v1h-1zM5 128h1v1h-1zM11 128h1v1h-1zM2 129h1v1h-1zM5 129h1v1h-1zM19 129h3v1h-3zM27 129h1v1h-1zM39 129h1v1h-1zM19 130h1v1h-1zM9 131h1v1h-1zM27 131h1v1h-1zM12 132h1v1h-1zM18 132h1v1h-1zM24 132h1v1h-1zM8 133h1v1h-1zM14 133h1v1h-1zM20 133h1v1h-1zM25 133h1v1h-1zM34 133h1v1h-1zM10 134h1v1h-1zM27 134h1v1h-1zM10 135h1v1h-1zM12 135h1v1h-1zM17 135h2v1h-2zM23 135h1v1h-1zM1 137h1v1h-1zM7 137h1v1h-1zM21 137h1v1h-1zM24 137h2v1h-2zM29 137h1v1h-1zM57 137h1v1h-1zM5 138h1v1h-1zM9 138h1v1h-1zM15 138h1v1h-1zM20 138h1v1h-1zM26 138h1v1h-1zM59 138h1v1h-1zM8 139h1v1h-1zM18 139h1v1h-1zM37 139h1v1h-1zM18 140h1v1h-1zM2 141h1v1h-1zM43 142h1v1h-1zM59 142h1v1h-1zM21 143h1v1h-1zM25 143h1v1h-1zM43 143h1v1h-1zM26 144h1v1h-1zM24 145h1v1h-1zM47 145h1v1h-1zM7 146h1v1h-1zM11 147h1v1h-1zM15 147h1v1h-1zM36 147h1v1h-1zM23 148h1v1h-1zM0 151h1v1h-1zM7 151h1v1h-1zM15 151h1v1h-1zM15 153h1v1h-1zM36 153h1v1h-1zM59 153h1v1h-1zM36 154h1v1h-1zM40 154h1v1h-1zM47 154h1v1h-1zM38 156h1v1h-1zM13 157h1v1h-1zM46 157h1v1h-1zM10 158h1v1h-1zM35 158h1v1h-1zM9 159h1v1h-1zM34 159h1v1h-1zM43 159h1v1h-1z"/>
<path fill="#f2f6fa" d="M29 0h1v1h-1zM34 1h1v1h-1zM53 1h1v1h-1zM56 1h1v1h-1zM20 2h1v1h-1zM23 2h1v1h-1zM38 2h1v1h-1zM41 2h1v1h-1zM46 2h1v1h-1zM49 2h1v1h-1zM54 2h1v1h-1zM25 3h1v1h-1zM36 3h1v1h-1zM39 3h1v1h-1zM41 3h2v1h-2zM44 3h1v1h-1zM25 4h1v1h-1zM30 4h1v1h-1zM35 4h1v1h-1zM39 4h1v1h-1zM47 4h2v1h-2zM57 4h1v1h-1zM25 5h2v1h-2zM55 5h1v1h-1zM26 6h1v1h-1zM31 6h2v1h-2zM40 6h1v1h-1zM55 6h1v1h-1zM22 7h1v1h-1zM33 7h1v1h-1zM50 7h1v1h-1zM55 7h1v1h-1zM57 7h1v1h-1zM59 7h1v1h-1zM25 8h1v1h-1zM29 8h2v1h-2zM47 8h1v1h-1zM58 8h1v1h-1zM28 9h1v1h-1zM41 9h1v1h-1zM47 9h1v1h-1zM53 9h1v1h-1zM31 10h2v1h-2zM37 10h1v1h-1zM47 10h1v1h-1zM51 10h1v1h-1zM58 10h1v1h-1zM23 11h1v1h-1zM25 11h1v1h-1zM27 11h1v1h-1zM31 11h1v1h-1zM36 11h1v1h-1zM42 11h1v1h-1zM56 11h1v1h-1zM31 12h1v1h-1zM34 12h1v1h-1zM38 12h1v1h-1zM55 12h2v1h-2zM36 13h1v1h-1zM42 13h1v1h-1zM56 13h1v1h-1zM56 14h1v1h-1zM23 15h1v1h-1zM28 15h1v1h-1zM30 15h1v1h-1zM32 15h2v1h-2zM35 15h2v1h-2zM44 15h1v1h-1zM56 15h1v1h-1zM25 16h1v1h-1zM27 16h1v1h-1zM30 16h2v1h-2zM36 16h2v1h-2zM39 16h1v1h-1zM53 16h1v1h-1zM22 17h1v1h-1zM38 17h1v1h-1zM42 17h1v1h-1zM46 17h2v1h-2zM58 17h1v1h-1zM21 18h1v1h-1zM25 18h1v1h-1zM32 18h1v1h-1zM37 18h1v1h-1zM45 18h1v1h-1zM24 19h1v1h-1zM53 19h1v1h-1zM20 20h1v1h-1zM24 20h1v1h-1zM39 20h1v1h-1zM50 20h1v1h-1zM53 20h1v1h-1zM25 21h1v1h-1zM32 21h1v1h-1zM36 21h1v1h-1zM38 21h1v1h-1zM51 21h2v1h-2zM56 21h2v1h-2zM24 22h1v1h-1zM41 22h1v1h-1zM46 22h1v1h-1zM52 22h1v1h-1zM24 23h1v1h-1zM30 23h1v1h-1zM33 23h1v1h-1zM40 23h1v1h-1zM47 23h1v1h-1zM54 23h1v1h-1zM26 24h2v1h-2zM33 24h1v1h-1zM49 24h1v1h-1zM25 25h1v1h-1zM59 25h1v1h-1zM24 26h1v1h-1zM44 26h1v1h-1zM54 26h1v1h-1zM39 27h1v1h-1zM57 27h2v1h-2zM27 28h1v1h-1zM33 28h1v1h-1zM37 28h1v1h-1zM40 28h1v1h-1zM44 28h1v1h-1zM46 28h1v1h-1zM48 28h2v1h-2zM20 29h1v1h-1zM32 29h1v1h-1zM37 29h1v1h-1zM39 29h1v1h-1zM50 29h1v1h-1zM22 30h1v1h-1zM29 30h2v1h-2zM45 30h1v1h-1zM57 30h1v1h-1zM30 31h1v1h-1zM41 31h1v1h-1zM50 31h1v1h-1zM52 31h1v1h-1zM55 31h1v1h-1zM58 31h1v1h-1zM20 32h1v1h-1zM25 32h3v1h-3zM30 32h1v1h-1zM35 32h1v1h-1zM32 33h1v1h-1zM37 33h1v1h-1zM48 33h1v1h-1zM20 34h1v1h-1zM23 34h1v1h-1zM27 34h1v1h-1zM29 34h1v1h-1zM36 34h2v1h-2zM44 34h1v1h-1zM56 34h2v1h-2zM25 35h1v1h-1zM33 35h1v1h-1zM35 35h1v1h-1zM38 35h1v1h-1zM42 35h2v1h-2zM36 36h1v1h-1zM43 36h1v1h-1zM45 36h1v1h-1zM32 37h1v1h-1zM49 37h1v1h-1zM53 37h1v1h-1zM25 38h1v1h-1zM45 38h1v1h-1zM50 38h1v1h-1zM24 39h1v1h-1zM26 39h1v1h-1zM35 39h1v1h-1zM44 39h1v1h-1zM52 39h2v1h-2zM21 40h1v1h-1zM32 40h1v1h-1zM44 40h2v1h-2zM47 40h3v1h-3zM53 40h2v1h-2zM56 40h1v1h-1zM22 41h2v1h-2zM26 41h1v1h-1zM29 41h1v1h-1zM32 41h1v1h-1zM36 41h1v1h-1zM41 41h1v1h-1zM47 41h1v1h-1zM51 41h1v1h-1zM57 41h1v1h-1zM31 42h1v1h-1zM39 42h1v1h-1zM50 42h1v1h-1zM52 42h1v1h-1zM30 43h1v1h-1zM44 43h1v1h-1zM52 43h2v1h-2zM57 43h1v1h-1zM44 44h1v1h-1zM56 44h1v1h-1zM59 44h1v1h-1zM27 45h2v1h-2zM34 45h1v1h-1zM45 45h1v1h-1zM51 45h1v1h-1zM55 45h1v1h-1zM20 46h2v1h-2zM30 46h1v1h-1zM59 46h1v1h-1zM48 47h1v1h-1zM20 48h1v1h-1zM27 48h1v1h-1zM34 48h1v1h-1zM41 48h1v1h-1zM37 49h2v1h-2zM44 49h1v1h-1zM50 49h1v1h-1zM23 50h1v1h-1zM28 50h1v1h-1zM33 50h1v1h-1zM36 50h1v1h-1zM42 50h1v1h-1zM45 50h1v1h-1zM53 50h1v1h-1zM20 51h1v1h-1zM23 51h1v1h-1zM53 51h1v1h-1zM55 51h1v1h-1zM26 52h1v1h-1zM30 52h1v1h-1zM37 52h2v1h-2zM23 53h1v1h-1zM35 53h1v1h-1zM41 53h1v1h-1zM58 53h1v1h-1zM26 54h1v1h-1zM30 54h1v1h-1zM41 54h1v1h-1zM23 55h1v1h-1zM25 55h1v1h-1zM34 55h1v1h-1zM41 55h1v1h-1zM23 56h1v1h-1zM31 56h1v1h-1zM42 56h1v1h-1zM21 57h1v1h-1zM23 57h1v1h-1zM38 57h2v1h-2zM41 57h1v1h-1zM24 58h1v1h-1zM29 58h1v1h-1zM40 58h1v1h-1zM47 58h2v1h-2zM56 58h1v1h-1zM21 59h1v1h-1zM32 59h1v1h-1zM34 59h1v1h-1zM37 59h2v1h-2zM48 59h1v1h-1zM58 59h1v1h-1zM20 60h1v1h-1zM32 60h1v1h-1zM45 60h1v1h-1zM49 60h1v1h-1zM21 61h1v1h-1zM42 61h1v1h-1zM54 61h1v1h-1zM58 61h1v1h-1zM22 62h1v1h-1zM45 62h1v1h-1zM23 63h1v1h-1zM40 63h1v1h-1zM45 64h1v1h-1zM37 65h1v1h-1zM57 65h1v1h-1zM20 66h1v1h-1zM33 66h1v1h-1zM39 66h2v1h-2zM45 66h1v1h-1zM42 68h1v1h-1zM50 68h1v1h-1zM53 68h1v1h-1zM23 69h2v1h-2zM26 69h1v1h-1zM49 69h1v1h-1zM30 70h1v1h-1zM47 70h2v1h-2zM22 71h2v1h-2zM26 71h1v1h-1zM57 71h1v1h-1zM59 71h1v1h-1zM30 72h1v1h-1zM35 72h1v1h-1zM53 72h1v1h-1zM59 72h1v1h-1zM24 73h1v1h-1zM28 73h1v1h-1zM32 73h1v1h-1zM34 73h1v1h-1zM36 73h1v1h-1zM40 73h1v1h-1zM49 73h1v1h-1zM57 73h1v1h-1zM42 74h1v1h-1zM50 74h1v1h-1zM22 75h1v1h-1zM38 75h1v1h-1zM43 75h1v1h-1zM53 75h1v1h-1zM35 76h1v1h-1zM42 76h2v1h-2zM24 77h1v1h-1zM26 77h1v1h-1zM42 77h1v1h-1zM56 77h1v1h-1zM24 78h1v1h-1zM32 78h1v1h-1zM38 78h1v1h-1zM48 78h1v1h-1zM53 78h1v1h-1zM31 79h1v1h-1zM42 79h1v1h-1zM56 79h1v1h-1zM29 80h1v1h-1zM31 80h1v1h-1zM38 80h1v1h-1zM45 80h1v1h-1zM23 81h1v1h-1zM26 81h1v1h-1zM30 81h3v1h-3zM45 81h1v1h-1zM55 81h1v1h-1zM22 82h1v1h-1zM44 82h2v1h-2zM47 82h1v1h-1zM20 83h1v1h-1zM28 83h1v1h-1zM34 83h1v1h-1zM21 84h1v1h-1zM34 84h2v1h-2zM8 85h1v1h-1zM23 85h1v1h-1zM46 85h1v1h-1zM25 86h1v1h-1zM35 86h1v1h-1zM21 87h1v1h-1zM55 87h1v1h-1zM33 88h1v1h-1zM38 88h1v1h-1zM57 88h1v1h-1zM30 89h1v1h-1zM32 89h1v1h-1zM20 90h1v1h-1zM32 90h1v1h-1zM41 90h1v1h-1zM50 90h1v1h-1zM55 90h1v1h-1zM22 91h1v1h-1zM26 91h1v1h-1zM28 91h1v1h-1zM32 91h1v1h-1zM41 91h2v1h-2zM44 91h2v1h-2zM20 92h1v1h-1zM36 92h1v1h-1zM40 92h1v1h-1zM44 92h2v1h-2zM28 94h1v1h-1zM35 94h1v1h-1zM38 94h1v1h-1zM38 95h1v1h-1zM45 95h1v1h-1zM36 96h1v1h-1zM42 96h1v1h-1zM50 96h1v1h-1zM30 97h1v1h-1zM27 98h1v1h-1zM20 99h1v1h-1zM34 99h2v1h-2zM38 99h1v1h-1zM44 99h1v1h-1zM31 100h1v1h-1zM22 101h1v1h-1zM25 101h2v1h-2zM36 101h1v1h-1zM50 101h1v1h-1zM21 102h1v1h-1zM30 102h2v1h-2zM34 102h1v1h-1zM53 102h1v1h-1zM17 103h1v1h-1zM24 103h1v1h-1zM26 103h1v1h-1zM30 103h1v1h-1zM32 103h1v1h-1zM53 103h2v1h-2zM58 103h1v1h-1zM50 104h1v1h-1zM21 105h2v1h-2zM33 105h1v1h-1zM22 106h1v1h-1zM35 106h1v1h-1zM40 106h1v1h-1zM48 106h1v1h-1zM50 106h1v1h-1zM57 106h1v1h-1zM27 107h1v1h-1zM33 107h1v1h-1zM51 107h1v1h-1zM59 107h1v1h-1zM30 108h1v1h-1zM35 108h1v1h-1zM39 108h1v1h-1zM26 109h1v1h-1zM51 109h1v1h-1zM55 109h1v1h-1zM25 110h1v1h-1zM32 110h1v1h-1zM37 110h1v1h-1zM44 110h1v1h-1zM50 110h1v1h-1zM45 111h1v1h-1zM47 111h1v1h-1zM57 111h1v1h-1zM32 112h1v1h-1zM43 112h2v1h-2zM49 112h1v1h-1zM51 112h2v1h-2zM55 112h1v1h-1zM21 113h1v1h-1zM23 113h1v1h-1zM29 113h1v1h-1zM49 113h2v1h-2zM57 113h1v1h-1zM25 114h1v1h-1zM34 114h1v1h-1zM46 114h1v1h-1zM29 115h1v1h-1zM35 115h1v1h-1zM46 115h1v1h-1zM51 115h1v1h-1zM23 116h1v1h-1zM26 116h1v1h-1zM28 116h1v1h-1zM30 116h2v1h-2zM37 116h1v1h-1zM39 116h1v1h-1zM20 117h2v1h-2zM23 117h1v1h-1zM28 117h1v1h-1zM46 117h1v1h-1zM22 118h3v1h-3zM30 118h1v1h-1zM33 118h1v1h-1zM37 118h1v1h-1zM29 119h1v1h-1zM46 119h1v1h-1zM52 119h1v1h-1zM59 119h1v1h-1zM32 121h1v1h-1zM52 121h1v1h-1zM22 122h1v1h-1zM31 122h1v1h-1zM18 123h1v1h-1zM28 123h1v1h-1zM30 123h1v1h-1zM12 124h1v1h-1zM16 124h1v1h-1zM19 124h1v1h-1zM37 124h1v1h-1zM0 125h1v1h-1zM12 125h1v1h-1zM25 125h1v1h-1zM37 125h1v1h-1zM26 126h1v1h-1zM3 127h3v1h-3zM12 127h1v1h-1zM35 127h1v1h-1zM10 128h1v1h-1zM19 128h1v1h-1zM22 128h1v1h-1zM29 128h1v1h-1zM34 128h1v1h-1zM16 130h1v1h-1zM18 130h1v1h-1zM23 130h2v1h-2zM0 131h1v1h-1zM16 131h1v1h-1zM19 131h1v1h-1zM22 131h1v1h-1zM31 131h1v1h-1zM34 132h1v1h-1zM16 133h1v1h-1zM24 133h1v1h-1zM32 133h1v1h-1zM0 134h1v1h-1zM24 134h1v1h-1zM40 134h1v1h-1zM0 135h1v1h-1zM13 135h1v1h-1zM15 135h1v1h-1zM22 135h1v1h-1zM31 135h1v1h-1zM34 135h1v1h-1zM0 136h1v1h-1zM26 136h1v1h-1zM28 136h1v1h-1zM32 136h1v1h-1zM11 137h1v1h-1zM26 137h1v1h-1zM31 137h1v1h-1zM3 138h2v1h-2zM19 138h1v1h-1zM35 138h1v1h-1zM1 139h1v1h-1zM3 139h1v1h-1zM5 139h1v1h-1zM21 139h1v1h-1zM26 139h1v1h-1zM39 139h1v1h-1zM0 140h1v1h-1zM6 140h1v1h-1zM8 140h1v1h-1zM26 140h1v1h-1zM4 141h1v1h-1zM9 141h1v1h-1zM36 141h1v1h-1zM5 142h1v1h-1zM7 142h3v1h-3zM12 142h2v1h-2zM17 142h1v1h-1zM6 143h1v1h-1zM16 144h1v1h-1zM19 144h1v1h-1zM8 145h1v1h-1zM15 145h1v1h-1zM19 145h1v1h-1zM26 145h1v1h-1zM40 145h1v1h-1zM1 146h2v1h-2zM9 146h1v1h-1zM5 147h1v1h-1zM7 147h2v1h-2zM2 148h1v1h-1zM7 148h1v1h-1zM9 148h1v1h-1zM7 149h1v1h-1zM2 150h1v1h-1zM6 150h1v1h-1zM8 150h1v1h-1zM10 150h1v1h-1zM13 150h1v1h-1zM32 150h1v1h-1zM16 151h1v1h-1zM2 153h2v1h-2zM16 153h1v1h-1zM19 153h1v1h-1zM4 154h1v1h-1zM15 154h1v1h-1zM10 155h1v1h-1zM24 155h1v1h-1zM2 156h1v1h-1zM5 157h1v1h-1zM7 157h1v1h-1zM9 157h1v1h-1zM36 157h1v1h-1zM2 158h1v1h-1zM13 158h1v1h-1z"/>
<path fill="#e6eef6" d="M30 0h1v1h-1zM23 1h1v1h-1zM26 1h1v1h-1zM42 1h1v1h-1zM46 1h1v1h-1zM59 1h1v1h-1zM47 2h2v1h-2zM56 2h1v1h-1zM20 3h1v1h-1zM46 3h1v1h-1zM48 3h1v1h-1zM56 3h1v1h-1zM49 4h1v1h-1zM23 5h1v1h-1zM40 5h1v1h-1zM21 6h1v1h-1zM33 6h1v1h-1zM21 7h1v1h-1zM31 7h1v1h-1zM47 7h1v1h-1zM54 8h1v1h-1zM46 9h1v1h-1zM57 9h1v1h-1zM44 10h1v1h-1zM50 10h1v1h-1zM50 11h1v1h-1zM25 12h1v1h-1zM49 12h1v1h-1zM28 13h1v1h-1zM46 13h1v1h-1zM49 13h1v1h-1zM52 13h1v1h-1zM13 14h1v1h-1zM23 14h1v1h-1zM29 15h1v1h-1zM38 15h1v1h-1zM57 15h1v1h-1zM24 16h1v1h-1zM38 16h1v1h-1zM46 16h1v1h-1zM51 16h1v1h-1zM50 17h1v1h-1zM43 18h1v1h-1zM43 19h1v1h-1zM46 19h1v1h-1zM32 20h1v1h-1zM49 20h1v1h-1zM51 20h1v1h-1zM54 20h1v1h-1zM43 21h1v1h-1zM45 21h1v1h-1zM50 21h1v1h-1zM21 22h2v1h-2zM38 23h1v1h-1zM49 23h1v1h-1zM30 24h1v1h-1zM41 24h1v1h-1zM44 24h1v1h-1zM52 24h1v1h-1zM38 25h1v1h-1zM28 26h1v1h-1zM42 26h1v1h-1zM46 26h1v1h-1zM50 26h1v1h-1zM58 26h1v1h-1zM32 27h1v1h-1zM37 27h1v1h-1zM44 27h1v1h-1zM23 28h1v1h-1zM45 28h1v1h-1zM33 29h1v1h-1zM51 29h1v1h-1zM40 30h1v1h-1zM43 30h2v1h-2zM51 30h1v1h-1zM56 30h1v1h-1zM22 31h1v1h-1zM49 31h1v1h-1zM53 31h1v1h-1zM57 31h1v1h-1zM44 32h1v1h-1zM52 32h1v1h-1zM30 33h1v1h-1zM42 33h1v1h-1zM46 33h2v1h-2zM50 33h1v1h-1zM52 33h1v1h-1zM54 33h1v1h-1zM58 33h1v1h-1zM31 34h1v1h-1zM40 34h1v1h-1zM43 34h1v1h-1zM49 34h1v1h-1zM31 35h1v1h-1zM47 35h1v1h-1zM59 35h1v1h-1zM42 36h1v1h-1zM56 36h1v1h-1zM15 38h1v1h-1zM20 38h1v1h-1zM47 38h1v1h-1zM56 38h1v1h-1zM25 39h1v1h-1zM37 39h1v1h-1zM46 39h1v1h-1zM31 40h1v1h-1zM36 40h1v1h-1zM38 42h1v1h-1zM40 42h1v1h-1zM22 43h1v1h-1zM37 43h1v1h-1zM49 43h2v1h-2zM36 44h1v1h-1zM40 44h1v1h-1zM52 44h1v1h-1zM20 45h1v1h-1zM40 45h1v1h-1zM4 46h1v1h-1zM40 46h1v1h-1zM5 47h1v1h-1zM31 47h1v1h-1zM51 47h1v1h-1zM43 48h2v1h-2zM47 48h1v1h-1zM59 49h1v1h-1zM46 50h1v1h-1zM57 50h1v1h-1zM46 51h1v1h-1zM51 51h1v1h-1zM22 52h1v1h-1zM48 53h1v1h-1zM50 53h1v1h-1zM55 54h1v1h-1zM50 55h1v1h-1zM59 55h1v1h-1zM28 56h1v1h-1zM49 56h1v1h-1zM37 57h1v1h-1zM48 57h1v1h-1zM58 57h1v1h-1zM42 58h1v1h-1zM54 58h1v1h-1zM44 59h1v1h-1zM54 59h1v1h-1zM59 59h1v1h-1zM43 60h1v1h-1zM23 61h1v1h-1zM43 61h1v1h-1zM41 62h1v1h-1zM43 62h1v1h-1zM47 62h1v1h-1zM51 62h1v1h-1zM58 62h1v1h-1zM43 63h1v1h-1zM48 63h1v1h-1zM43 64h1v1h-1zM46 64h1v1h-1zM54 64h1v1h-1zM58 64h1v1h-1zM50 65h2v1h-2zM10 67h1v1h-1zM39 67h1v1h-1zM49 67h1v1h-1zM52 67h1v1h-1zM57 67h1v1h-1zM33 68h1v1h-1zM44 68h1v1h-1zM48 68h1v1h-1zM59 68h1v1h-1zM30 69h1v1h-1zM44 69h1v1h-1zM50 69h1v1h-1zM54 69h1v1h-1zM21 70h1v1h-1zM40 70h1v1h-1zM46 70h1v1h-1zM40 71h1v1h-1zM52 71h1v1h-1zM41 72h1v1h-1zM48 72h1v1h-1zM41 73h1v1h-1zM43 74h1v1h-1zM20 75h1v1h-1zM50 75h2v1h-2zM57 75h2v1h-2zM37 76h1v1h-1zM46 76h1v1h-1zM54 76h1v1h-1zM57 77h1v1h-1zM33 78h1v1h-1zM41 78h1v1h-1zM43 78h1v1h-1zM49 78h1v1h-1zM55 78h1v1h-1zM41 79h1v1h-1zM43 79h1v1h-1zM49 79h1v1h-1zM54 79h1v1h-1zM33 80h1v1h-1zM40 80h1v1h-1zM56 80h1v1h-1zM50 81h1v1h-1zM58 81h1v1h-1zM42 82h1v1h-1zM53 82h2v1h-2zM57 82h1v1h-1zM37 83h1v1h-1zM44 83h1v1h-1zM53 83h1v1h-1zM56 83h1v1h-1zM49 84h1v1h-1zM40 85h1v1h-1zM50 85h1v1h-1zM42 86h1v1h-1zM51 86h3v1h-3zM57 86h1v1h-1zM45 87h2v1h-2zM57 87h1v1h-1zM59 87h1v1h-1zM46 88h1v1h-1zM50 88h1v1h-1zM58 88h2v1h-2zM46 89h1v1h-1zM57 89h1v1h-1zM31 91h1v1h-1zM49 91h2v1h-2zM53 91h1v1h-1zM51 92h1v1h-1zM55 92h2v1h-2zM55 93h1v1h-1zM56 94h1v1h-1zM58 94h1v1h-1zM21 96h1v1h-1zM47 96h1v1h-1zM58 97h1v1h-1zM21 98h1v1h-1zM33 98h1v1h-1zM41 98h1v1h-1zM47 98h2v1h-2zM57 98h2v1h-2zM26 99h1v1h-1zM33 99h1v1h-1zM55 99h2v1h-2zM37 100h1v1h-1zM41 100h1v1h-1zM55 100h1v1h-1zM29 101h1v1h-1zM43 101h1v1h-1zM53 101h1v1h-1zM20 102h1v1h-1zM47 102h1v1h-1zM54 102h1v1h-1zM48 103h1v1h-1zM59 103h1v1h-1zM36 104h1v1h-1zM38 104h1v1h-1zM43 104h1v1h-1zM37 105h1v1h-1zM48 105h1v1h-1zM59 105h1v1h-1zM28 106h1v1h-1zM31 106h1v1h-1zM43 106h2v1h-2zM29 107h1v1h-1zM43 107h1v1h-1zM36 108h1v1h-1zM30 110h1v1h-1zM52 110h1v1h-1zM46 111h1v1h-1zM39 112h1v1h-1zM33 113h1v1h-1zM36 113h1v1h-1zM21 114h1v1h-1zM5 115h1v1h-1zM20 115h1v1h-1zM20 118h1v1h-1zM36 118h1v1h-1zM10 119h1v1h-1zM20 119h1v1h-1zM21 120h2v1h-2zM28 120h1v1h-1zM28 121h1v1h-1zM33 121h1v1h-1zM35 121h1v1h-1zM31 123h1v1h-1zM36 123h1v1h-1zM28 124h1v1h-1zM28 125h1v1h-1zM28 126h1v1h-1zM37 130h1v1h-1zM11 131h1v1h-1zM25 131h1v1h-1zM28 131h1v1h-1zM36 132h1v1h-1zM23 133h1v1h-1zM30 133h2v1h-2zM33 133h1v1h-1zM2 134h1v1h-1zM16 134h1v1h-1zM21 134h2v1h-2zM30 134h1v1h-1zM34 134h1v1h-1zM18 138h1v1h-1zM4 139h1v1h-1zM9 139h1v1h-1zM23 139h1v1h-1zM5 140h1v1h-1zM14 140h1v1h-1zM11 141h1v1h-1zM3 142h1v1h-1zM0 143h2v1h-2zM3 143h1v1h-1zM8 143h1v1h-1zM19 143h1v1h-1zM23 143h1v1h-1zM0 144h1v1h-1zM5 144h2v1h-2zM8 144h1v1h-1zM15 144h1v1h-1zM18 144h1v1h-1zM0 145h1v1h-1zM9 145h1v1h-1zM0 146h1v1h-1zM5 146h1v1h-1zM10 146h1v1h-1zM1 147h2v1h-2zM18 147h1v1h-1zM12 148h2v1h-2zM1 149h1v1h-1zM4 149h1v1h-1zM12 149h1v1h-1zM6 151h1v1h-1zM8 151h1v1h-1zM17 151h1v1h-1zM33 151h1v1h-1zM2 152h1v1h-1zM9 152h1v1h-1zM13 152h1v1h-1zM5 153h1v1h-1zM3 154h1v1h-1zM9 154h1v1h-1zM13 154h1v1h-1zM4 155h1v1h-1zM9 155h1v1h-1zM15 155h2v1h-2zM18 155h2v1h-2zM7 156h1v1h-1zM10 156h1v1h-1zM0 157h1v1h-1zM2 157h1v1h-1zM14 157h1v1h-1zM19 157h1v1h-1zM5 158h1v1h-1zM0 159h2v1h-2z"/>
<path fill="#fafefe" d="M36 0h1v1h-1zM33 1h1v1h-1zM35 1h1v1h-1zM30 2h1v1h-1zM18 3h1v1h-1zM29 4h1v1h-1zM20 6h1v1h-1zM36 6h1v1h-1zM24 8h1v1h-1zM48 9h1v1h-1zM20 10h1v1h-1zM29 10h1v1h-1zM37 14h1v1h-1zM25 15h1v1h-1zM39 15h1v1h-1zM22 16h1v1h-1zM29 16h1v1h-1zM56 18h1v1h-1zM58 18h1v1h-1zM47 22h1v1h-1zM39 24h1v1h-1zM45 24h1v1h-1zM19 25h1v1h-1zM58 25h1v1h-1zM49 26h1v1h-1zM21 29h1v1h-1zM21 31h1v1h-1zM32 32h1v1h-1zM18 33h1v1h-1zM38 33h1v1h-1zM40 33h1v1h-1zM24 35h1v1h-1zM20 36h1v1h-1zM34 37h1v1h-1zM52 37h1v1h-1zM37 38h1v1h-1zM41 38h1v1h-1zM28 39h1v1h-1zM30 39h1v1h-1zM45 39h1v1h-1zM39 40h1v1h-1zM39 47h1v1h-1zM47 49h1v1h-1zM49 50h1v1h-1zM21 51h1v1h-1zM26 51h1v1h-1zM50 52h1v1h-1zM28 53h1v1h-1zM33 55h1v1h-1zM21 56h1v1h-1zM50 56h1v1h-1zM31 58h1v1h-1zM36 60h1v1h-1zM21 62h1v1h-1zM25 62h1v1h-1zM38 62h1v1h-1zM36 64h1v1h-1zM27 65h1v1h-1zM25 67h1v1h-1zM23 68h1v1h-1zM33 69h1v1h-1zM38 69h1v1h-1zM55 72h1v1h-1zM31 73h1v1h-1zM33 76h1v1h-1zM54 77h1v1h-1zM36 79h1v1h-1zM34 81h1v1h-1zM28 85h1v1h-1zM45 85h1v1h-1zM20 87h1v1h-1zM22 89h1v1h-1zM26 89h1v1h-1zM36 91h1v1h-1zM31 92h1v1h-1zM22 93h1v1h-1zM29 96h1v1h-1zM39 96h1v1h-1zM37 98h1v1h-1zM17 100h1v1h-1zM27 101h1v1h-1zM28 103h1v1h-1zM50 103h1v1h-1zM55 104h1v1h-1zM58 104h1v1h-1zM47 107h1v1h-1zM53 107h1v1h-1zM23 108h1v1h-1zM17 113h1v1h-1zM45 113h1v1h-1zM32 114h1v1h-1zM51 114h1v1h-1zM27 115h1v1h-1zM35 117h1v1h-1zM53 117h1v1h-1zM27 118h1v1h-1zM35 118h1v1h-1zM21 119h1v1h-1zM4 123h1v1h-1zM59 125h1v1h-1zM21 127h1v1h-1zM29 127h1v1h-1zM27 128h1v1h-1zM36 128h1v1h-1zM35 129h1v1h-1zM5 130h1v1h-1zM1 131h1v1h-1zM4 132h1v1h-1zM8 132h1v1h-1zM39 135h1v1h-1zM10 136h1v1h-1zM12 136h1v1h-1zM18 136h1v1h-1zM25 136h1v1h-1zM2 137h1v1h-1zM6 137h1v1h-1zM6 138h1v1h-1zM8 138h1v1h-1zM20 140h1v1h-1zM38 141h1v1h-1zM46 142h1v1h-1zM31 143h1v1h-1zM33 145h1v1h-1zM31 149h1v1h-1zM7 150h1v1h-1zM33 152h1v1h-1zM14 153h1v1h-1zM8 157h1v1h-1z"/>
<path fill="#fefaf6" d="M42 0h1v1h-1zM56 0h1v1h-1zM0 2h1v1h-1zM33 2h1v1h-1zM3 3h1v1h-1zM12 3h1v1h-1zM19 3h1v1h-1zM49 3h1v1h-1zM3 4h1v1h-1zM11 4h1v1h-1zM27 4h1v1h-1zM5 5h1v1h-1zM42 5h1v1h-1zM58 5h1v1h-1zM16 6h1v1h-1zM4 7h1v1h-1zM9 8h1v1h-1zM21 10h2v1h-2zM36 10h1v1h-1zM33 11h1v1h-1zM9 12h1v1h-1zM11 12h1v1h-1zM12 14h1v1h-1zM16 15h1v1h-1zM2 16h1v1h-1zM4 16h1v1h-1zM20 16h1v1h-1zM21 17h1v1h-1zM25 17h1v1h-1zM27 17h1v1h-1zM56 17h1v1h-1zM20 19h1v1h-1zM17 21h1v1h-1zM56 22h1v1h-1zM35 23h1v1h-1zM39 23h1v1h-1zM24 24h1v1h-1zM12 28h1v1h-1zM28 28h1v1h-1zM56 28h1v1h-1zM12 29h1v1h-1zM0 30h1v1h-1zM12 30h1v1h-1zM2 31h1v1h-1zM4 31h1v1h-1zM3 34h1v1h-1zM39 35h1v1h-1zM11 36h1v1h-1zM17 36h1v1h-1zM18 39h1v1h-1zM34 39h1v1h-1zM27 40h1v1h-1zM12 41h1v1h-1zM20 41h1v1h-1zM11 42h1v1h-1zM18 42h1v1h-1zM45 42h1v1h-1zM29 43h1v1h-1zM42 43h1v1h-1zM17 45h1v1h-1zM17 46h1v1h-1zM22 46h1v1h-1zM12 47h1v1h-1zM7 48h1v1h-1zM12 48h1v1h-1zM17 48h1v1h-1zM35 48h1v1h-1zM27 49h1v1h-1zM29 49h1v1h-1zM33 49h1v1h-1zM35 49h1v1h-1zM39 49h1v1h-1zM32 50h1v1h-1zM37 50h1v1h-1zM24 51h1v1h-1zM2 52h1v1h-1zM25 54h1v1h-1zM37 54h1v1h-1zM7 56h1v1h-1zM17 57h1v1h-1zM35 58h1v1h-1zM19 59h1v1h-1zM18 60h1v1h-1zM21 60h1v1h-1zM10 61h1v1h-1zM17 61h1v1h-1zM32 61h1v1h-1zM32 62h1v1h-1zM30 63h1v1h-1zM20 64h1v1h-1zM28 64h1v1h-1zM35 65h1v1h-1zM39 65h1v1h-1zM18 66h1v1h-1zM58 66h1v1h-1zM21 67h1v1h-1zM20 68h2v1h-2zM28 68h1v1h-1zM21 69h1v1h-1zM36 69h1v1h-1zM39 69h1v1h-1zM20 70h1v1h-1zM31 70h1v1h-1zM34 70h1v1h-1zM19 71h1v1h-1zM33 71h1v1h-1zM18 72h1v1h-1zM33 72h1v1h-1zM19 73h2v1h-2zM22 73h1v1h-1zM34 74h1v1h-1zM39 74h1v1h-1zM23 76h1v1h-1zM25 76h1v1h-1zM30 76h1v1h-1zM25 77h1v1h-1zM28 77h2v1h-2zM35 77h1v1h-1zM18 78h1v1h-1zM34 78h1v1h-1zM28 79h1v1h-1zM30 79h1v1h-1zM19 81h2v1h-2zM28 82h1v1h-1zM33 82h1v1h-1zM39 82h1v1h-1zM0 83h1v1h-1zM19 83h1v1h-1zM12 84h1v1h-1zM25 85h1v1h-1zM29 85h1v1h-1zM39 86h1v1h-1zM2 87h1v1h-1zM29 89h1v1h-1zM19 90h1v1h-1zM38 90h1v1h-1zM47 90h1v1h-1zM12 91h1v1h-1zM35 92h1v1h-1zM39 92h1v1h-1zM39 93h1v1h-1zM18 94h1v1h-1zM22 94h1v1h-1zM16 95h1v1h-1zM34 96h1v1h-1zM25 97h1v1h-1zM29 97h1v1h-1zM5 99h1v1h-1zM56 100h1v1h-1zM18 102h1v1h-1zM23 102h2v1h-2zM18 103h1v1h-1zM2 104h2v1h-2zM37 104h1v1h-1zM10 105h1v1h-1zM16 105h1v1h-1zM34 105h1v1h-1zM12 106h1v1h-1zM16 106h3v1h-3zM19 107h2v1h-2zM12 108h1v1h-1zM17 109h1v1h-1zM27 109h1v1h-1zM45 110h1v1h-1zM6 111h1v1h-1zM27 112h1v1h-1zM12 114h1v1h-1zM19 114h1v1h-1zM27 114h1v1h-1zM41 114h1v1h-1zM44 114h1v1h-1zM49 114h2v1h-2zM55 115h1v1h-1zM0 116h1v1h-1zM46 116h1v1h-1zM22 117h1v1h-1zM49 117h3v1h-3zM56 117h1v1h-1zM59 117h1v1h-1zM17 118h1v1h-1zM43 118h2v1h-2zM49 118h1v1h-1zM51 118h1v1h-1zM44 119h1v1h-1zM48 119h1v1h-1zM43 120h1v1h-1zM51 120h1v1h-1zM54 120h1v1h-1zM59 120h1v1h-1zM16 121h1v1h-1zM42 121h1v1h-1zM2 122h1v1h-1zM50 122h1v1h-1zM59 122h1v1h-1zM1 123h2v1h-2zM13 123h1v1h-1zM15 123h1v1h-1zM24 124h1v1h-1zM7 125h1v1h-1zM13 125h1v1h-1zM1 126h2v1h-2zM7 126h1v1h-1zM16 126h2v1h-2zM19 126h1v1h-1zM27 126h1v1h-1zM18 127h1v1h-1zM49 127h1v1h-1zM1 128h1v1h-1zM4 128h1v1h-1zM9 128h1v1h-1zM15 128h1v1h-1zM48 128h1v1h-1zM51 128h1v1h-1zM8 129h1v1h-1zM40 129h1v1h-1zM11 130h1v1h-1zM13 130h1v1h-1zM40 130h1v1h-1zM55 130h1v1h-1zM57 130h1v1h-1zM7 131h1v1h-1zM14 131h1v1h-1zM21 131h1v1h-1zM29 131h1v1h-1zM9 132h1v1h-1zM11 132h1v1h-1zM15 132h1v1h-1zM51 132h1v1h-1zM59 132h1v1h-1zM0 133h1v1h-1zM15 133h1v1h-1zM49 133h1v1h-1zM11 134h1v1h-1zM18 134h1v1h-1zM43 134h1v1h-1zM56 134h1v1h-1zM1 136h1v1h-1zM6 136h1v1h-1zM9 136h1v1h-1zM11 136h1v1h-1zM54 136h1v1h-1zM15 137h1v1h-1zM51 137h1v1h-1zM27 139h1v1h-1zM47 139h1v1h-1zM58 139h1v1h-1zM58 140h1v1h-1zM10 141h1v1h-1zM21 141h2v1h-2zM31 141h1v1h-1zM42 141h2v1h-2zM57 141h2v1h-2zM10 142h1v1h-1zM30 142h1v1h-1zM41 143h1v1h-1zM33 144h3v1h-3zM48 144h2v1h-2zM27 145h1v1h-1zM38 145h2v1h-2zM38 146h1v1h-1zM59 146h1v1h-1zM20 147h1v1h-1zM34 147h1v1h-1zM37 147h1v1h-1zM51 147h1v1h-1zM20 148h1v1h-1zM30 148h1v1h-1zM46 148h1v1h-1zM49 148h1v1h-1zM52 148h1v1h-1zM59 148h1v1h-1zM25 149h1v1h-1zM44 149h1v1h-1zM49 149h1v1h-1zM36 150h1v1h-1zM40 150h1v1h-1zM47 150h1v1h-1zM37 151h1v1h-1zM39 151h1v1h-1zM43 151h1v1h-1zM46 151h1v1h-1zM20 152h1v1h-1zM29 152h1v1h-1zM49 152h2v1h-2zM56 152h1v1h-1zM59 152h1v1h-1zM25 153h1v1h-1zM31 153h1v1h-1zM43 153h1v1h-1zM7 154h1v1h-1zM43 154h1v1h-1zM21 155h2v1h-2zM25 155h1v1h-1zM35 155h1v1h-1zM47 155h2v1h-2zM23 156h2v1h-2zM34 156h1v1h-1zM25 157h1v1h-1zM33 157h1v1h-1zM37 157h1v1h-1zM43 157h2v1h-2zM31 158h1v1h-1zM33 158h1v1h-1zM37 158h1v1h-1zM46 158h1v1h-1zM47 159h2v1h-2zM50 159h1v1h-1zM59 159h1v1h-1z"/>
<path fill="#d2e2f2" d="M43 0h1v1h-1zM59 2h1v1h-1zM36 14h1v1h-1zM37 15h1v1h-1zM46 35h1v1h-1zM54 36h1v1h-1zM36 48h1v1h-1zM59 53h1v1h-1zM48 54h1v1h-1zM44 58h1v1h-1zM40 60h1v1h-1zM44 66h1v1h-1zM52 75h1v1h-1zM52 79h2v1h-2zM4 81h1v1h-1zM40 83h1v1h-1zM44 88h1v1h-1zM55 89h1v1h-1zM51 93h1v1h-1zM44 95h1v1h-1zM52 95h1v1h-1zM49 96h1v1h-1zM28 114h1v1h-1zM15 122h1v1h-1zM36 131h1v1h-1zM32 137h1v1h-1zM38 138h1v1h-1zM30 140h1v1h-1zM45 146h1v1h-1zM12 147h1v1h-1zM40 147h1v1h-1zM17 152h1v1h-1zM12 154h1v1h-1zM11 155h1v1h-1z"/>
<path fill="#cedeee" d="M49 0h1v1h-1zM47 21h1v1h-1zM46 92h1v1h-1zM51 96h1v1h-1zM48 99h1v1h-1zM59 99h1v1h-1zM19 154h1v1h-1z"/>
<path fill="#b2caea" d="M50 0h1v1h-1zM21 2h1v1h-1zM39 13h1v1h-1zM46 29h1v1h-1zM40 87h1v1h-1zM40 110h1v1h-1zM53 110h1v1h-1zM41 112h1v1h-1zM30 119h1v1h-1z"/>
<path fill="#dae6f2" d="M55 0h1v1h-1zM58 1h1v1h-1zM40 3h1v1h-1zM46 4h1v1h-1zM51 4h1v1h-1zM51 5h1v1h-1zM37 6h1v1h-1zM43 8h1v1h-1zM48 8h1v1h-1zM34 9h1v1h-1zM24 12h1v1h-1zM26 12h1v1h-1zM23 13h1v1h-1zM31 14h1v1h-1zM52 15h1v1h-1zM37 23h1v1h-1zM36 30h1v1h-1zM46 30h1v1h-1zM41 33h1v1h-1zM51 33h1v1h-1zM51 34h1v1h-1zM44 36h1v1h-1zM51 36h1v1h-1zM41 37h1v1h-1zM37 44h1v1h-1zM2 46h1v1h-1zM23 48h1v1h-1zM37 48h1v1h-1zM53 48h1v1h-1zM30 50h1v1h-1zM43 51h1v1h-1zM51 52h1v1h-1zM51 53h1v1h-1zM55 53h1v1h-1zM50 54h1v1h-1zM59 54h1v1h-1zM48 55h1v1h-1zM47 59h1v1h-1zM51 60h1v1h-1zM52 62h1v1h-1zM43 65h1v1h-1zM47 66h1v1h-1zM55 66h1v1h-1zM52 68h1v1h-1zM46 71h1v1h-1zM52 72h1v1h-1zM3 73h1v1h-1zM51 73h1v1h-1zM54 74h1v1h-1zM48 75h1v1h-1zM45 76h1v1h-1zM48 76h1v1h-1zM48 77h1v1h-1zM7 78h1v1h-1zM54 78h1v1h-1zM39 79h1v1h-1zM44 79h1v1h-1zM54 80h2v1h-2zM46 81h1v1h-1zM51 82h1v1h-1zM56 82h1v1h-1zM21 83h1v1h-1zM43 83h1v1h-1zM53 85h1v1h-1zM58 86h1v1h-1zM43 88h1v1h-1zM49 88h1v1h-1zM7 89h1v1h-1zM40 89h1v1h-1zM52 89h1v1h-1zM57 90h1v1h-1zM46 91h2v1h-2zM48 93h1v1h-1zM9 94h1v1h-1zM44 94h1v1h-1zM50 94h1v1h-1zM43 96h1v1h-1zM48 96h1v1h-1zM57 99h1v1h-1zM28 101h1v1h-1zM48 101h1v1h-1zM51 103h1v1h-1zM8 105h1v1h-1zM25 106h1v1h-1zM16 107h1v1h-1zM52 107h1v1h-1zM33 109h1v1h-1zM44 109h1v1h-1zM51 111h1v1h-1zM26 113h1v1h-1zM59 113h1v1h-1zM33 116h1v1h-1zM23 119h1v1h-1zM33 120h1v1h-1zM33 123h1v1h-1zM16 125h1v1h-1zM33 126h1v1h-1zM33 129h1v1h-1zM30 130h1v1h-1zM28 135h1v1h-1zM30 135h1v1h-1zM33 136h1v1h-1zM22 138h1v1h-1zM30 138h1v1h-1zM36 138h1v1h-1zM30 139h1v1h-1zM23 140h1v1h-1zM12 141h1v1h-1zM17 141h1v1h-1zM9 143h1v1h-1zM16 143h1v1h-1zM4 144h1v1h-1zM11 144h1v1h-1zM12 145h1v1h-1zM4 146h1v1h-1zM10 148h2v1h-2zM2 151h1v1h-1zM13 151h2v1h-2zM12 153h1v1h-1zM3 156h1v1h-1zM16 156h1v1h-1zM0 158h1v1h-1zM12 159h1v1h-1z"/>
<path fill="#dee6f6" d="M58 0h1v1h-1zM43 4h1v1h-1zM59 5h1v1h-1zM47 6h1v1h-1zM43 7h1v1h-1zM40 9h1v1h-1zM42 9h1v1h-1zM24 11h1v1h-1zM26 11h1v1h-1zM31 15h1v1h-1zM59 18h1v1h-1zM44 19h1v1h-1zM43 23h1v1h-1zM54 24h1v1h-1zM46 25h1v1h-1zM43 26h1v1h-1zM52 28h2v1h-2zM33 30h1v1h-1zM37 30h1v1h-1zM43 32h1v1h-1zM43 37h1v1h-1zM42 38h1v1h-1zM59 40h1v1h-1zM24 41h1v1h-1zM46 41h1v1h-1zM36 45h1v1h-1zM38 48h1v1h-1zM46 54h1v1h-1zM54 54h1v1h-1zM44 55h1v1h-1zM47 56h1v1h-1zM52 57h1v1h-1zM55 57h1v1h-1zM52 60h1v1h-1zM47 63h1v1h-1zM54 63h1v1h-1zM48 65h1v1h-1zM51 66h1v1h-1zM46 69h1v1h-1zM59 73h1v1h-1zM47 76h1v1h-1zM43 77h1v1h-1zM51 78h1v1h-1zM55 79h1v1h-1zM58 79h1v1h-1zM49 80h1v1h-1zM41 81h1v1h-1zM43 82h1v1h-1zM55 83h1v1h-1zM41 84h1v1h-1zM59 86h1v1h-1zM48 88h1v1h-1zM50 89h1v1h-1zM53 89h1v1h-1zM46 90h1v1h-1zM48 90h1v1h-1zM57 91h1v1h-1zM57 92h1v1h-1zM59 92h1v1h-1zM41 94h1v1h-1zM25 95h1v1h-1zM50 95h1v1h-1zM40 97h1v1h-1zM46 97h2v1h-2zM51 101h1v1h-1zM46 106h2v1h-2zM46 107h1v1h-1zM33 115h1v1h-1zM26 117h1v1h-1zM24 125h1v1h-1zM36 125h1v1h-1zM28 127h1v1h-1zM37 127h1v1h-1zM30 131h1v1h-1zM28 133h1v1h-1zM30 136h1v1h-1zM38 136h1v1h-1zM2 140h1v1h-1zM38 140h1v1h-1zM18 143h1v1h-1zM7 145h1v1h-1zM14 146h1v1h-1zM17 147h1v1h-1zM16 150h1v1h-1zM4 151h1v1h-1zM18 151h1v1h-1zM12 152h1v1h-1zM17 155h1v1h-1zM17 157h2v1h-2zM4 159h1v1h-1z"/>
<path fill="#f6fafa" d="M59 0h1v1h-1zM36 1h1v1h-1zM39 1h1v1h-1zM45 2h1v1h-1zM41 4h1v1h-1zM47 5h1v1h-1zM41 8h1v1h-1zM20 17h1v1h-1zM34 18h1v1h-1zM27 19h1v1h-1zM42 20h1v1h-1zM35 21h1v1h-1zM58 21h1v1h-1zM22 23h1v1h-1zM58 23h1v1h-1zM28 25h1v1h-1zM34 25h1v1h-1zM49 25h1v1h-1zM52 25h1v1h-1zM56 29h1v1h-1zM35 31h1v1h-1zM55 33h1v1h-1zM23 35h1v1h-1zM33 36h1v1h-1zM38 39h1v1h-1zM55 39h1v1h-1zM22 40h1v1h-1zM38 41h1v1h-1zM29 42h1v1h-1zM59 42h1v1h-1zM33 43h1v1h-1zM39 44h1v1h-1zM24 45h1v1h-1zM33 46h1v1h-1zM33 48h1v1h-1zM54 48h1v1h-1zM26 50h1v1h-1zM56 50h1v1h-1zM31 59h1v1h-1zM30 61h1v1h-1zM40 62h1v1h-1zM57 63h1v1h-1zM26 64h1v1h-1zM30 64h1v1h-1zM21 65h1v1h-1zM31 65h1v1h-1zM47 65h1v1h-1zM57 66h1v1h-1zM31 67h1v1h-1zM42 67h1v1h-1zM37 70h1v1h-1zM39 71h1v1h-1zM22 74h2v1h-2zM56 74h1v1h-1zM23 75h1v1h-1zM28 80h1v1h-1zM38 83h1v1h-1zM45 86h1v1h-1zM26 87h1v1h-1zM37 88h1v1h-1zM35 90h1v1h-1zM32 93h1v1h-1zM24 98h1v1h-1zM32 98h1v1h-1zM23 100h1v1h-1zM29 103h1v1h-1zM58 105h1v1h-1zM37 107h1v1h-1zM56 107h1v1h-1zM22 108h1v1h-1zM29 109h1v1h-1zM46 110h1v1h-1zM25 117h1v1h-1zM34 120h1v1h-1zM47 121h1v1h-1zM14 122h1v1h-1zM43 122h1v1h-1zM32 123h1v1h-1zM7 124h1v1h-1zM28 128h1v1h-1zM6 130h1v1h-1zM5 131h1v1h-1zM26 131h1v1h-1zM32 132h1v1h-1zM3 135h1v1h-1zM0 139h1v1h-1zM14 139h2v1h-2zM16 141h1v1h-1zM5 151h1v1h-1zM23 152h1v1h-1zM13 153h1v1h-1zM37 155h1v1h-1zM43 155h1v1h-1zM32 159h1v1h-1z"/>
<path fill="#feeae2" d="M2 1h1v1h-1zM10 2h1v1h-1zM6 3h1v1h-1zM16 13h1v1h-1zM5 14h1v1h-1zM15 16h1v1h-1zM10 23h1v1h-1zM12 23h1v1h-1zM7 26h1v1h-1zM1 30h1v1h-1zM1 31h1v1h-1zM18 31h1v1h-1zM7 33h1v1h-1zM2 34h1v1h-1zM2 37h1v1h-1zM2 41h1v1h-1zM16 41h1v1h-1zM6 43h1v1h-1zM17 43h1v1h-1zM9 55h1v1h-1zM5 67h1v1h-1zM12 70h1v1h-1zM2 72h2v1h-2zM18 75h2v1h-2zM2 78h1v1h-1zM6 83h1v1h-1zM2 85h1v1h-1zM9 85h1v1h-1zM2 86h1v1h-1zM5 97h1v1h-1zM1 99h1v1h-1zM6 99h1v1h-1zM10 104h1v1h-1zM13 107h1v1h-1zM11 116h1v1h-1zM3 117h1v1h-1zM11 118h1v1h-1zM41 123h1v1h-1zM57 128h1v1h-1zM44 129h1v1h-1zM54 130h1v1h-1zM17 133h1v1h-1zM41 145h1v1h-1zM48 148h1v1h-1zM45 150h1v1h-1zM56 151h1v1h-1zM39 153h1v1h-1zM48 156h1v1h-1zM53 156h1v1h-1zM28 159h1v1h-1z"/>
<path fill="#f6caae" d="M6 1h1v1h-1zM13 5h1v1h-1zM8 16h1v1h-1zM17 22h1v1h-1zM15 28h1v1h-1zM14 29h1v1h-1zM3 40h1v1h-1zM8 62h1v1h-1zM11 72h1v1h-1zM8 81h1v1h-1zM5 82h1v1h-1zM7 85h1v1h-1zM7 86h1v1h-1zM10 95h1v1h-1zM0 96h1v1h-1zM1 112h1v1h-1zM44 125h1v1h-1zM52 125h1v1h-1zM50 128h1v1h-1zM44 130h1v1h-1zM50 153h1v1h-1zM41 159h1v1h-1z"/>
<path fill="#feeee6" d="M8 1h1v1h-1zM6 2h1v1h-1zM11 2h2v1h-2zM0 3h3v1h-3zM4 3h1v1h-1zM14 3h1v1h-1zM5 4h1v1h-1zM7 5h1v1h-1zM9 5h1v1h-1zM3 6h1v1h-1zM12 6h1v1h-1zM19 6h1v1h-1zM9 7h1v1h-1zM16 7h1v1h-1zM18 7h1v1h-1zM0 8h1v1h-1zM19 8h1v1h-1zM16 9h1v1h-1zM18 9h1v1h-1zM5 10h1v1h-1zM10 10h1v1h-1zM9 11h1v1h-1zM11 11h1v1h-1zM16 11h1v1h-1zM1 12h1v1h-1zM14 12h1v1h-1zM0 13h1v1h-1zM2 13h1v1h-1zM8 13h3v1h-3zM17 13h1v1h-1zM2 14h1v1h-1zM2 15h1v1h-1zM7 15h1v1h-1zM15 15h1v1h-1zM7 16h1v1h-1zM9 16h1v1h-1zM13 16h1v1h-1zM0 17h1v1h-1zM17 17h1v1h-1zM4 18h1v1h-1zM17 18h1v1h-1zM35 18h1v1h-1zM2 19h2v1h-2zM2 21h1v1h-1zM5 21h1v1h-1zM8 22h1v1h-1zM12 22h1v1h-1zM15 23h1v1h-1zM18 23h1v1h-1zM14 24h1v1h-1zM5 25h1v1h-1zM8 25h1v1h-1zM16 25h1v1h-1zM18 25h1v1h-1zM2 26h1v1h-1zM5 26h1v1h-1zM17 26h1v1h-1zM9 27h1v1h-1zM12 27h1v1h-1zM18 27h1v1h-1zM18 28h1v1h-1zM2 29h1v1h-1zM19 29h1v1h-1zM14 30h2v1h-2zM32 30h1v1h-1zM0 31h1v1h-1zM1 32h1v1h-1zM11 32h1v1h-1zM19 32h1v1h-1zM1 33h1v1h-1zM9 33h1v1h-1zM15 33h1v1h-1zM19 33h1v1h-1zM0 34h1v1h-1zM3 35h1v1h-1zM44 35h1v1h-1zM0 36h2v1h-2zM4 36h1v1h-1zM9 36h1v1h-1zM12 37h1v1h-1zM18 37h1v1h-1zM13 38h1v1h-1zM18 38h1v1h-1zM0 39h1v1h-1zM2 39h1v1h-1zM7 39h1v1h-1zM4 40h1v1h-1zM16 40h1v1h-1zM17 41h1v1h-1zM4 42h1v1h-1zM14 42h1v1h-1zM19 42h1v1h-1zM2 43h1v1h-1zM10 43h2v1h-2zM19 43h1v1h-1zM7 44h1v1h-1zM13 44h1v1h-1zM0 45h1v1h-1zM3 45h1v1h-1zM15 46h1v1h-1zM0 47h1v1h-1zM3 48h2v1h-2zM14 48h1v1h-1zM16 48h1v1h-1zM2 49h1v1h-1zM4 49h1v1h-1zM7 49h1v1h-1zM12 49h1v1h-1zM14 49h1v1h-1zM2 50h1v1h-1zM10 50h1v1h-1zM13 50h1v1h-1zM19 50h1v1h-1zM0 51h1v1h-1zM5 51h1v1h-1zM4 52h1v1h-1zM5 53h1v1h-1zM17 53h1v1h-1zM3 54h1v1h-1zM19 54h1v1h-1zM11 55h2v1h-2zM14 55h1v1h-1zM0 57h1v1h-1zM11 57h1v1h-1zM14 57h1v1h-1zM18 57h1v1h-1zM0 58h1v1h-1zM13 58h1v1h-1zM15 58h1v1h-1zM17 58h1v1h-1zM1 59h1v1h-1zM0 60h2v1h-2zM17 60h1v1h-1zM31 60h1v1h-1zM1 61h1v1h-1zM6 61h1v1h-1zM9 61h1v1h-1zM16 61h1v1h-1zM2 62h1v1h-1zM19 62h1v1h-1zM30 62h1v1h-1zM3 63h1v1h-1zM18 63h2v1h-2zM0 64h1v1h-1zM4 64h1v1h-1zM7 64h1v1h-1zM3 65h1v1h-1zM8 65h1v1h-1zM17 65h2v1h-2zM4 66h3v1h-3zM12 66h2v1h-2zM15 66h2v1h-2zM2 67h2v1h-2zM6 67h2v1h-2zM1 68h2v1h-2zM5 68h2v1h-2zM0 69h1v1h-1zM5 69h1v1h-1zM7 69h1v1h-1zM11 70h1v1h-1zM17 70h2v1h-2zM3 71h1v1h-1zM16 71h2v1h-2zM10 72h1v1h-1zM39 72h1v1h-1zM4 73h1v1h-1zM15 73h1v1h-1zM21 73h1v1h-1zM27 74h1v1h-1zM17 75h1v1h-1zM0 76h1v1h-1zM9 77h2v1h-2zM14 78h1v1h-1zM4 80h1v1h-1zM11 80h1v1h-1zM15 80h1v1h-1zM3 81h1v1h-1zM18 82h1v1h-1zM4 83h1v1h-1zM2 84h1v1h-1zM10 84h1v1h-1zM11 85h1v1h-1zM14 85h1v1h-1zM9 86h1v1h-1zM11 86h1v1h-1zM19 86h1v1h-1zM1 87h1v1h-1zM5 87h1v1h-1zM19 87h1v1h-1zM3 88h1v1h-1zM9 89h1v1h-1zM3 90h1v1h-1zM17 90h1v1h-1zM18 92h1v1h-1zM0 93h1v1h-1zM10 93h1v1h-1zM12 93h1v1h-1zM4 94h1v1h-1zM14 94h1v1h-1zM5 95h1v1h-1zM19 95h1v1h-1zM12 96h1v1h-1zM19 96h1v1h-1zM8 98h2v1h-2zM15 98h1v1h-1zM3 99h1v1h-1zM12 99h1v1h-1zM19 99h1v1h-1zM0 101h1v1h-1zM10 101h1v1h-1zM13 101h1v1h-1zM18 101h1v1h-1zM3 102h1v1h-1zM9 104h1v1h-1zM18 104h1v1h-1zM0 105h1v1h-1zM5 105h1v1h-1zM6 106h1v1h-1zM5 107h1v1h-1zM15 107h1v1h-1zM1 108h2v1h-2zM6 108h2v1h-2zM3 109h1v1h-1zM8 109h1v1h-1zM18 109h1v1h-1zM0 110h1v1h-1zM13 110h1v1h-1zM15 110h1v1h-1zM3 111h1v1h-1zM5 112h1v1h-1zM9 112h1v1h-1zM9 113h1v1h-1zM7 114h1v1h-1zM9 114h1v1h-1zM47 114h1v1h-1zM13 115h1v1h-1zM19 115h1v1h-1zM2 116h1v1h-1zM13 116h1v1h-1zM43 116h1v1h-1zM5 117h1v1h-1zM10 117h1v1h-1zM12 117h1v1h-1zM41 117h1v1h-1zM55 117h1v1h-1zM1 118h1v1h-1zM8 118h1v1h-1zM56 118h1v1h-1zM1 119h1v1h-1zM7 119h2v1h-2zM14 119h3v1h-3zM55 119h2v1h-2zM6 120h1v1h-1zM19 120h1v1h-1zM2 121h1v1h-1zM56 121h1v1h-1zM6 122h1v1h-1zM8 122h1v1h-1zM43 123h2v1h-2zM56 123h2v1h-2zM59 123h1v1h-1zM48 124h2v1h-2zM17 125h1v1h-1zM45 125h1v1h-1zM55 126h1v1h-1zM58 126h1v1h-1zM2 128h1v1h-1zM17 128h1v1h-1zM47 128h1v1h-1zM43 129h1v1h-1zM8 131h1v1h-1zM40 131h1v1h-1zM56 131h1v1h-1zM58 131h1v1h-1zM43 132h1v1h-1zM48 132h1v1h-1zM53 132h1v1h-1zM48 133h1v1h-1zM55 133h1v1h-1zM57 133h1v1h-1zM45 134h1v1h-1zM55 134h1v1h-1zM45 136h1v1h-1zM47 136h1v1h-1zM43 138h2v1h-2zM56 138h1v1h-1zM48 140h1v1h-1zM30 141h1v1h-1zM45 141h1v1h-1zM56 141h1v1h-1zM38 142h1v1h-1zM45 142h1v1h-1zM27 143h1v1h-1zM29 143h1v1h-1zM20 144h1v1h-1zM25 144h1v1h-1zM45 144h1v1h-1zM57 144h1v1h-1zM50 145h1v1h-1zM52 145h1v1h-1zM20 146h1v1h-1zM27 146h1v1h-1zM29 146h1v1h-1zM36 146h1v1h-1zM39 146h2v1h-2zM43 146h1v1h-1zM54 146h1v1h-1zM57 146h1v1h-1zM22 147h1v1h-1zM27 147h1v1h-1zM40 148h1v1h-1zM44 148h1v1h-1zM58 148h1v1h-1zM21 149h2v1h-2zM42 149h1v1h-1zM50 149h1v1h-1zM44 150h1v1h-1zM54 150h2v1h-2zM47 151h1v1h-1zM58 151h1v1h-1zM27 152h1v1h-1zM34 152h1v1h-1zM39 152h1v1h-1zM25 154h1v1h-1zM29 154h2v1h-2zM51 154h1v1h-1zM45 155h1v1h-1zM53 155h2v1h-2zM22 156h1v1h-1zM27 156h1v1h-1zM40 157h1v1h-1zM48 157h1v1h-1zM59 157h1v1h-1zM28 158h1v1h-1zM41 158h1v1h-1zM43 158h2v1h-2zM50 158h1v1h-1zM53 158h1v1h-1zM35 159h1v1h-1z"/>
<path fill="#faeada" d="M9 1h1v1h-1zM11 3h1v1h-1zM13 3h1v1h-1zM1 6h1v1h-1zM9 15h1v1h-1zM0 16h1v1h-1zM9 18h1v1h-1zM6 19h1v1h-1zM14 21h1v1h-1zM14 23h1v1h-1zM5 31h1v1h-1zM5 33h1v1h-1zM8 35h1v1h-1zM10 35h1v1h-1zM5 37h1v1h-1zM19 37h1v1h-1zM4 38h2v1h-2zM4 39h1v1h-1zM16 44h1v1h-1zM10 47h1v1h-1zM11 50h1v1h-1zM39 50h1v1h-1zM7 51h1v1h-1zM16 56h1v1h-1zM7 63h1v1h-1zM15 68h1v1h-1zM9 69h1v1h-1zM19 70h1v1h-1zM9 71h1v1h-1zM12 74h1v1h-1zM5 80h1v1h-1zM6 84h1v1h-1zM2 89h1v1h-1zM0 90h3v1h-3zM4 91h1v1h-1zM11 91h1v1h-1zM1 92h1v1h-1zM3 92h1v1h-1zM9 95h1v1h-1zM11 95h1v1h-1zM18 97h1v1h-1zM9 99h1v1h-1zM0 102h1v1h-1zM7 103h1v1h-1zM3 108h1v1h-1zM9 110h1v1h-1zM0 112h1v1h-1zM7 112h1v1h-1zM15 114h1v1h-1zM6 119h1v1h-1zM1 120h1v1h-1zM4 120h1v1h-1zM11 120h1v1h-1zM17 122h1v1h-1zM54 123h1v1h-1zM56 125h1v1h-1zM45 127h1v1h-1zM46 129h1v1h-1zM12 130h1v1h-1zM53 137h1v1h-1zM56 140h1v1h-1zM54 141h1v1h-1zM58 145h1v1h-1zM49 153h1v1h-1zM58 153h1v1h-1zM27 158h1v1h-1z"/>
<path fill="#faeade" d="M10 1h1v1h-1zM14 2h1v1h-1zM10 3h1v1h-1zM15 3h1v1h-1zM14 6h2v1h-2zM1 8h1v1h-1zM9 9h1v1h-1zM4 10h1v1h-1zM13 10h1v1h-1zM4 11h1v1h-1zM10 11h1v1h-1zM19 11h1v1h-1zM43 11h1v1h-1zM3 12h1v1h-1zM15 12h1v1h-1zM7 13h1v1h-1zM8 14h1v1h-1zM4 15h1v1h-1zM2 17h1v1h-1zM7 17h1v1h-1zM0 18h1v1h-1zM10 18h1v1h-1zM15 19h1v1h-1zM7 20h1v1h-1zM1 21h1v1h-1zM3 22h2v1h-2zM18 22h1v1h-1zM1 23h1v1h-1zM7 24h1v1h-1zM10 25h1v1h-1zM15 25h1v1h-1zM7 27h1v1h-1zM1 28h1v1h-1zM4 28h1v1h-1zM2 30h1v1h-1zM8 30h1v1h-1zM6 31h1v1h-1zM3 32h1v1h-1zM12 33h1v1h-1zM11 34h1v1h-1zM2 35h1v1h-1zM5 35h1v1h-1zM11 35h1v1h-1zM14 36h1v1h-1zM12 38h1v1h-1zM11 40h1v1h-1zM10 41h1v1h-1zM0 42h1v1h-1zM0 43h1v1h-1zM12 43h1v1h-1zM1 44h1v1h-1zM8 45h1v1h-1zM15 45h1v1h-1zM2 47h1v1h-1zM9 47h1v1h-1zM15 47h1v1h-1zM17 47h1v1h-1zM9 50h1v1h-1zM10 51h2v1h-2zM8 53h1v1h-1zM1 54h1v1h-1zM1 55h1v1h-1zM15 56h1v1h-1zM6 57h1v1h-1zM13 59h1v1h-1zM2 60h1v1h-1zM5 60h1v1h-1zM4 61h1v1h-1zM1 64h1v1h-1zM9 64h1v1h-1zM17 64h1v1h-1zM11 65h1v1h-1zM13 65h1v1h-1zM14 66h1v1h-1zM8 67h1v1h-1zM7 68h1v1h-1zM4 69h1v1h-1zM9 70h1v1h-1zM7 72h1v1h-1zM17 72h1v1h-1zM2 74h1v1h-1zM9 74h1v1h-1zM5 75h1v1h-1zM11 75h1v1h-1zM12 76h1v1h-1zM14 76h1v1h-1zM1 78h1v1h-1zM10 78h1v1h-1zM10 79h1v1h-1zM6 80h1v1h-1zM9 80h1v1h-1zM6 81h1v1h-1zM12 82h1v1h-1zM15 82h1v1h-1zM13 83h1v1h-1zM1 84h1v1h-1zM7 84h2v1h-2zM15 85h2v1h-2zM7 88h1v1h-1zM11 88h1v1h-1zM17 89h1v1h-1zM4 90h1v1h-1zM15 90h1v1h-1zM4 93h1v1h-1zM14 93h1v1h-1zM6 96h2v1h-2zM4 101h1v1h-1zM6 102h1v1h-1zM2 103h1v1h-1zM9 103h1v1h-1zM13 103h1v1h-1zM4 104h1v1h-1zM11 104h1v1h-1zM14 104h1v1h-1zM1 105h1v1h-1zM2 107h1v1h-1zM11 108h1v1h-1zM15 111h1v1h-1zM11 113h1v1h-1zM4 114h1v1h-1zM2 115h1v1h-1zM10 116h1v1h-1zM55 116h1v1h-1zM4 117h1v1h-1zM47 117h1v1h-1zM45 119h1v1h-1zM14 120h1v1h-1zM10 121h1v1h-1zM55 123h1v1h-1zM53 124h2v1h-2zM48 125h1v1h-1zM56 126h1v1h-1zM53 128h1v1h-1zM55 129h1v1h-1zM56 130h1v1h-1zM53 131h1v1h-1zM43 135h1v1h-1zM54 138h2v1h-2zM44 141h1v1h-1zM50 141h1v1h-1zM42 142h1v1h-1zM41 144h1v1h-1zM51 144h1v1h-1zM55 145h1v1h-1zM50 147h1v1h-1zM56 147h3v1h-3zM55 149h1v1h-1zM27 150h1v1h-1zM41 153h1v1h-1zM42 155h1v1h-1zM54 156h1v1h-1zM39 157h1v1h-1zM45 157h1v1h-1zM50 157h1v1h-1zM38 158h1v1h-1zM55 158h1v1h-1z"/>
<path fill="#fef6f6" d="M16 1h1v1h-1zM27 1h1v1h-1zM44 5h1v1h-1zM5 12h1v1h-1zM16 19h1v1h-1zM18 20h1v1h-1zM53 25h1v1h-1zM21 38h1v1h-1zM27 38h1v1h-1zM18 44h1v1h-1zM4 45h1v1h-1zM12 45h1v1h-1zM11 48h1v1h-1zM34 49h1v1h-1zM29 57h1v1h-1zM22 61h1v1h-1zM24 61h1v1h-1zM29 61h1v1h-1zM11 63h1v1h-1zM33 65h1v1h-1zM29 68h1v1h-1zM25 71h1v1h-1zM33 73h1v1h-1zM30 74h1v1h-1zM38 74h1v1h-1zM21 75h1v1h-1zM18 86h1v1h-1zM28 86h1v1h-1zM32 87h1v1h-1zM19 92h1v1h-1zM24 92h1v1h-1zM28 93h1v1h-1zM29 94h1v1h-1zM2 98h1v1h-1zM19 98h1v1h-1zM5 104h1v1h-1zM25 109h1v1h-1zM27 110h1v1h-1zM19 113h1v1h-1zM11 115h1v1h-1zM54 115h1v1h-1zM18 116h1v1h-1zM51 121h1v1h-1zM59 121h1v1h-1zM57 127h1v1h-1zM10 129h1v1h-1zM34 130h1v1h-1zM13 133h1v1h-1zM51 135h1v1h-1zM17 138h1v1h-1zM27 138h1v1h-1zM40 139h1v1h-1zM51 139h1v1h-1zM54 139h1v1h-1zM20 141h1v1h-1zM24 143h1v1h-1zM29 144h1v1h-1zM44 144h1v1h-1zM56 146h1v1h-1zM21 147h1v1h-1zM46 147h1v1h-1zM40 152h1v1h-1zM32 153h1v1h-1zM38 153h1v1h-1zM59 155h1v1h-1zM49 159h1v1h-1z"/>
<path fill="#cadaee" d="M17 1h1v1h-1zM59 3h1v1h-1zM59 4h1v1h-1zM46 5h1v1h-1zM52 12h1v1h-1zM18 14h1v1h-1zM52 14h1v1h-1zM43 15h1v1h-1zM48 16h1v1h-1zM52 16h1v1h-1zM12 31h1v1h-1zM52 40h1v1h-1zM58 42h1v1h-1zM53 47h1v1h-1zM22 48h1v1h-1zM44 50h1v1h-1zM8 51h1v1h-1zM46 52h1v1h-1zM48 52h1v1h-1zM52 55h1v1h-1zM47 60h1v1h-1zM30 68h1v1h-1zM51 68h1v1h-1zM37 75h1v1h-1zM49 75h1v1h-1zM52 76h1v1h-1zM58 80h1v1h-1zM49 83h1v1h-1zM44 86h1v1h-1zM54 87h1v1h-1zM59 93h1v1h-1zM47 94h1v1h-1zM51 94h1v1h-1zM43 95h1v1h-1zM54 96h1v1h-1zM54 97h1v1h-1zM52 99h1v1h-1zM52 102h1v1h-1zM31 111h1v1h-1zM54 113h1v1h-1zM2 114h1v1h-1zM38 117h1v1h-1zM36 121h1v1h-1zM30 129h1v1h-1zM30 132h1v1h-1zM22 139h1v1h-1zM11 143h1v1h-1zM3 145h1v1h-1zM18 148h1v1h-1zM5 150h1v1h-1zM17 150h1v1h-1zM16 152h1v1h-1zM12 156h1v1h-1zM11 157h1v1h-1z"/>
<path fill="#fefefa" d="M40 1h1v1h-1zM57 2h1v1h-1zM40 4h1v1h-1zM57 6h1v1h-1zM37 8h1v1h-1zM27 9h1v1h-1zM59 9h1v1h-1zM42 10h1v1h-1zM29 12h1v1h-1zM40 14h1v1h-1zM32 17h1v1h-1zM29 18h1v1h-1zM25 19h1v1h-1zM16 21h1v1h-1zM21 23h1v1h-1zM53 23h1v1h-1zM56 24h1v1h-1zM24 27h1v1h-1zM29 27h1v1h-1zM39 28h1v1h-1zM35 29h1v1h-1zM42 29h1v1h-1zM11 31h1v1h-1zM24 32h1v1h-1zM5 34h1v1h-1zM35 34h1v1h-1zM27 35h1v1h-1zM36 35h1v1h-1zM54 35h1v1h-1zM27 36h1v1h-1zM55 37h1v1h-1zM34 38h1v1h-1zM24 40h1v1h-1zM47 42h1v1h-1zM59 43h1v1h-1zM25 44h1v1h-1zM39 45h1v1h-1zM32 46h1v1h-1zM48 46h1v1h-1zM18 48h1v1h-1zM31 49h1v1h-1zM34 50h1v1h-1zM18 51h1v1h-1zM50 51h1v1h-1zM16 52h1v1h-1zM28 52h1v1h-1zM33 52h1v1h-1zM17 55h1v1h-1zM30 55h1v1h-1zM27 56h1v1h-1zM32 56h1v1h-1zM37 56h1v1h-1zM41 56h1v1h-1zM22 57h1v1h-1zM33 57h1v1h-1zM28 58h1v1h-1zM38 58h1v1h-1zM41 58h1v1h-1zM23 59h1v1h-1zM37 61h3v1h-3zM31 62h1v1h-1zM25 65h1v1h-1zM29 65h1v1h-1zM26 66h1v1h-1zM29 66h1v1h-1zM53 66h1v1h-1zM33 67h1v1h-1zM4 68h1v1h-1zM29 69h1v1h-1zM56 69h1v1h-1zM26 70h1v1h-1zM27 71h1v1h-1zM19 72h1v1h-1zM23 72h1v1h-1zM32 74h1v1h-1zM29 75h1v1h-1zM32 75h1v1h-1zM18 77h1v1h-1zM33 79h1v1h-1zM35 79h1v1h-1zM38 79h1v1h-1zM34 80h1v1h-1zM15 81h1v1h-1zM21 81h1v1h-1zM27 81h1v1h-1zM25 82h1v1h-1zM38 82h1v1h-1zM42 83h1v1h-1zM16 84h1v1h-1zM27 84h1v1h-1zM32 85h1v1h-1zM34 86h1v1h-1zM24 87h1v1h-1zM28 87h1v1h-1zM36 87h1v1h-1zM45 89h1v1h-1zM22 95h1v1h-1zM24 96h1v1h-1zM35 97h1v1h-1zM12 98h1v1h-1zM18 99h1v1h-1zM24 100h2v1h-2zM32 100h1v1h-1zM39 100h1v1h-1zM58 100h1v1h-1zM36 102h1v1h-1zM56 103h1v1h-1zM35 105h1v1h-1zM27 106h1v1h-1zM12 107h1v1h-1zM35 107h1v1h-1zM12 109h1v1h-1zM21 109h1v1h-1zM36 109h1v1h-1zM45 109h2v1h-2zM39 110h1v1h-1zM12 112h1v1h-1zM34 112h1v1h-1zM58 112h1v1h-1zM2 113h1v1h-1zM16 113h1v1h-1zM42 113h1v1h-1zM17 115h1v1h-1zM59 116h1v1h-1zM42 118h1v1h-1zM35 119h1v1h-1zM29 120h1v1h-1zM1 122h1v1h-1zM26 122h1v1h-1zM10 125h1v1h-1zM14 126h1v1h-1zM20 126h1v1h-1zM21 130h1v1h-1zM29 130h1v1h-1zM4 131h1v1h-1zM14 135h1v1h-1zM29 135h1v1h-1zM58 135h1v1h-1zM9 137h1v1h-1zM47 137h1v1h-1zM11 138h1v1h-1zM27 140h1v1h-1zM34 141h1v1h-1zM40 141h1v1h-1zM20 142h1v1h-1zM31 142h1v1h-1zM49 142h1v1h-1zM35 143h1v1h-1zM39 143h1v1h-1zM46 143h1v1h-1zM49 143h1v1h-1zM35 145h1v1h-1zM37 145h1v1h-1zM23 146h1v1h-1zM30 146h2v1h-2zM24 147h1v1h-1zM28 147h1v1h-1zM38 148h1v1h-1zM42 148h2v1h-2zM13 149h1v1h-1zM24 151h1v1h-1zM30 151h2v1h-2zM46 152h1v1h-1zM53 152h1v1h-1zM38 154h1v1h-1zM49 154h1v1h-1zM32 155h1v1h-1zM55 155h1v1h-1zM35 156h1v1h-1zM37 156h1v1h-1zM32 157h1v1h-1zM31 159h1v1h-1zM36 159h1v1h-1z"/>
<path fill="#e6eaf6" d="M49 1h1v1h-1zM24 3h1v1h-1zM51 7h1v1h-1zM46 8h1v1h-1zM44 9h1v1h-1zM55 13h1v1h-1zM47 16h1v1h-1zM49 17h1v1h-1zM41 26h1v1h-1zM26 27h1v1h-1zM50 27h1v1h-1zM26 29h1v1h-1zM38 30h1v1h-1zM52 48h1v1h-1zM48 49h1v1h-1zM54 50h1v1h-1zM42 53h1v1h-1zM52 58h1v1h-1zM52 61h1v1h-1zM59 61h1v1h-1zM50 64h1v1h-1zM55 64h1v1h-1zM51 72h1v1h-1zM45 73h1v1h-1zM49 74h1v1h-1zM30 78h1v1h-1zM50 78h1v1h-1zM41 85h1v1h-1zM47 85h1v1h-1zM40 90h1v1h-1zM26 94h1v1h-1zM55 94h1v1h-1zM59 94h1v1h-1zM54 95h1v1h-1zM54 99h1v1h-1zM30 100h1v1h-1zM52 105h1v1h-1zM57 105h1v1h-1zM43 115h1v1h-1zM36 122h1v1h-1zM38 124h1v1h-1zM32 131h1v1h-1zM25 134h1v1h-1zM31 134h1v1h-1zM23 136h1v1h-1zM36 139h1v1h-1zM5 148h1v1h-1zM2 149h1v1h-1zM12 151h1v1h-1zM16 154h1v1h-1z"/>
<path fill="#d6e2f2" d="M51 1h1v1h-1zM54 5h1v1h-1zM41 7h1v1h-1zM54 7h1v1h-1zM53 12h1v1h-1zM34 13h1v1h-1zM49 14h1v1h-1zM34 15h1v1h-1zM49 15h1v1h-1zM48 21h1v1h-1zM58 32h1v1h-1zM26 36h1v1h-1zM40 39h1v1h-1zM59 41h1v1h-1zM58 45h1v1h-1zM40 47h1v1h-1zM57 47h1v1h-1zM40 48h1v1h-1zM46 48h1v1h-1zM44 54h1v1h-1zM46 55h1v1h-1zM32 57h1v1h-1zM49 58h1v1h-1zM26 60h1v1h-1zM44 61h1v1h-1zM51 63h2v1h-2zM44 65h1v1h-1zM55 65h1v1h-1zM17 66h1v1h-1zM47 67h1v1h-1zM52 69h1v1h-1zM54 71h1v1h-1zM40 77h1v1h-1zM46 77h1v1h-1zM48 80h1v1h-1zM51 80h1v1h-1zM47 83h1v1h-1zM57 83h1v1h-1zM50 84h1v1h-1zM58 84h1v1h-1zM56 85h1v1h-1zM51 88h1v1h-1zM54 91h1v1h-1zM59 91h1v1h-1zM52 92h1v1h-1zM57 93h1v1h-1zM48 94h1v1h-1zM53 94h1v1h-1zM30 96h1v1h-1zM52 96h1v1h-1zM57 96h1v1h-1zM56 98h1v1h-1zM50 99h1v1h-1zM33 100h1v1h-1zM30 101h1v1h-1zM34 101h1v1h-1zM52 103h1v1h-1zM23 104h1v1h-1zM52 104h1v1h-1zM51 105h1v1h-1zM48 110h1v1h-1zM33 111h1v1h-1zM36 111h1v1h-1zM38 111h1v1h-1zM42 111h1v1h-1zM48 111h1v1h-1zM55 111h1v1h-1zM30 114h1v1h-1zM33 114h1v1h-1zM23 115h1v1h-1zM28 118h1v1h-1zM7 122h1v1h-1zM38 123h1v1h-1zM30 125h1v1h-1zM29 132h1v1h-1zM38 132h1v1h-1zM28 134h1v1h-1zM28 137h1v1h-1zM30 137h1v1h-1zM24 138h1v1h-1zM17 140h1v1h-1zM36 140h1v1h-1zM1 141h1v1h-1zM17 143h1v1h-1zM12 144h1v1h-1zM15 146h1v1h-1zM4 150h1v1h-1zM11 151h1v1h-1zM15 152h1v1h-1zM40 153h1v1h-1zM5 155h1v1h-1zM17 156h1v1h-1zM16 158h1v1h-1zM15 159h1v1h-1z"/>
<path fill="#f6d2ba" d="M52 1h1v1h-1zM7 2h1v1h-1zM52 3h1v1h-1zM10 6h1v1h-1zM10 8h1v1h-1zM7 9h1v1h-1zM16 10h1v1h-1zM8 19h1v1h-1zM1 20h1v1h-1zM6 28h1v1h-1zM14 31h1v1h-1zM13 33h1v1h-1zM8 34h1v1h-1zM7 60h1v1h-1zM13 62h1v1h-1zM8 63h2v1h-2zM14 64h2v1h-2zM14 68h1v1h-1zM9 73h1v1h-1zM14 75h1v1h-1zM13 81h1v1h-1zM10 85h1v1h-1zM13 86h2v1h-2zM9 87h1v1h-1zM3 91h1v1h-1zM8 95h1v1h-1zM2 105h1v1h-1zM14 108h1v1h-1zM14 109h1v1h-1zM11 110h1v1h-1zM8 111h1v1h-1zM6 116h1v1h-1zM46 128h1v1h-1zM47 129h1v1h-1zM50 130h1v1h-1zM50 132h1v1h-1zM41 136h1v1h-1z"/>
<path fill="#fefafa" d="M54 1h1v1h-1zM15 2h1v1h-1zM28 3h1v1h-1zM58 4h1v1h-1zM27 5h1v1h-1zM29 5h1v1h-1zM0 7h2v1h-2zM12 7h1v1h-1zM34 7h1v1h-1zM27 8h1v1h-1zM17 11h1v1h-1zM32 11h1v1h-1zM2 12h1v1h-1zM19 12h1v1h-1zM29 13h1v1h-1zM35 13h1v1h-1zM29 14h1v1h-1zM16 16h2v1h-2zM36 18h1v1h-1zM5 20h1v1h-1zM34 20h1v1h-1zM58 20h1v1h-1zM49 21h1v1h-1zM37 22h1v1h-1zM53 24h1v1h-1zM29 25h1v1h-1zM19 26h1v1h-1zM28 27h1v1h-1zM45 27h1v1h-1zM51 27h1v1h-1zM18 29h1v1h-1zM25 29h1v1h-1zM34 31h1v1h-1zM45 31h1v1h-1zM18 32h1v1h-1zM22 33h1v1h-1zM30 35h1v1h-1zM56 35h1v1h-1zM38 36h1v1h-1zM25 37h1v1h-1zM51 37h1v1h-1zM17 38h1v1h-1zM36 38h1v1h-1zM54 38h1v1h-1zM29 39h1v1h-1zM28 40h1v1h-1zM34 42h1v1h-1zM38 45h1v1h-1zM27 46h1v1h-1zM31 46h1v1h-1zM39 46h1v1h-1zM19 47h1v1h-1zM18 49h1v1h-1zM21 49h1v1h-1zM22 50h1v1h-1zM24 50h1v1h-1zM27 50h1v1h-1zM38 50h1v1h-1zM47 50h1v1h-1zM31 51h1v1h-1zM27 52h1v1h-1zM18 53h1v1h-1zM24 54h1v1h-1zM39 56h1v1h-1zM18 58h2v1h-2zM27 58h1v1h-1zM39 58h1v1h-1zM0 59h1v1h-1zM12 59h1v1h-1zM28 59h1v1h-1zM39 59h1v1h-1zM28 60h2v1h-2zM25 61h1v1h-1zM28 61h1v1h-1zM56 62h1v1h-1zM21 63h1v1h-1zM33 63h1v1h-1zM35 63h1v1h-1zM34 64h1v1h-1zM32 65h1v1h-1zM25 66h1v1h-1zM32 66h1v1h-1zM34 66h1v1h-1zM34 67h1v1h-1zM37 69h1v1h-1zM25 70h1v1h-1zM33 70h1v1h-1zM39 70h1v1h-1zM28 71h1v1h-1zM31 72h1v1h-1zM27 73h1v1h-1zM29 73h1v1h-1zM38 73h2v1h-2zM25 74h1v1h-1zM55 74h1v1h-1zM17 76h1v1h-1zM13 77h1v1h-1zM21 77h1v1h-1zM17 78h1v1h-1zM25 78h1v1h-1zM27 78h1v1h-1zM35 78h1v1h-1zM37 79h1v1h-1zM35 80h1v1h-1zM17 81h1v1h-1zM33 81h1v1h-1zM36 81h1v1h-1zM42 81h1v1h-1zM17 82h1v1h-1zM23 82h1v1h-1zM24 85h1v1h-1zM35 85h1v1h-1zM17 86h1v1h-1zM22 86h1v1h-1zM27 88h1v1h-1zM30 88h1v1h-1zM21 89h1v1h-1zM27 89h1v1h-1zM38 89h2v1h-2zM25 91h1v1h-1zM34 91h1v1h-1zM40 91h1v1h-1zM25 92h1v1h-1zM28 92h1v1h-1zM32 92h1v1h-1zM34 92h1v1h-1zM47 92h1v1h-1zM21 93h1v1h-1zM27 93h1v1h-1zM34 93h1v1h-1zM39 94h1v1h-1zM20 95h1v1h-1zM16 96h1v1h-1zM28 96h1v1h-1zM34 97h1v1h-1zM0 98h1v1h-1zM12 100h1v1h-1zM20 100h1v1h-1zM16 101h1v1h-1zM45 101h1v1h-1zM16 102h1v1h-1zM22 102h1v1h-1zM27 102h1v1h-1zM59 102h1v1h-1zM19 103h1v1h-1zM57 103h1v1h-1zM0 104h1v1h-1zM12 104h1v1h-1zM45 104h1v1h-1zM17 105h1v1h-1zM27 105h1v1h-1zM38 105h1v1h-1zM49 105h2v1h-2zM45 107h1v1h-1zM45 108h1v1h-1zM31 109h1v1h-1zM39 109h1v1h-1zM57 109h1v1h-1zM20 110h1v1h-1zM58 110h1v1h-1zM17 111h1v1h-1zM21 112h1v1h-1zM3 113h1v1h-1zM39 113h1v1h-1zM43 114h1v1h-1zM52 114h1v1h-1zM4 115h1v1h-1zM14 115h1v1h-1zM58 115h1v1h-1zM51 116h1v1h-1zM44 117h1v1h-1zM52 117h1v1h-1zM58 117h1v1h-1zM18 118h1v1h-1zM29 118h1v1h-1zM41 118h1v1h-1zM48 118h1v1h-1zM50 118h1v1h-1zM50 119h1v1h-1zM5 120h1v1h-1zM12 120h1v1h-1zM27 120h1v1h-1zM50 120h1v1h-1zM52 120h1v1h-1zM20 121h1v1h-1zM40 121h1v1h-1zM45 121h1v1h-1zM54 121h2v1h-2zM57 121h1v1h-1zM13 122h1v1h-1zM32 122h1v1h-1zM44 122h1v1h-1zM39 123h1v1h-1zM10 124h1v1h-1zM9 125h1v1h-1zM8 126h1v1h-1zM8 127h1v1h-1zM10 127h1v1h-1zM48 127h1v1h-1zM58 127h1v1h-1zM20 128h1v1h-1zM24 128h1v1h-1zM4 129h1v1h-1zM9 129h1v1h-1zM13 129h1v1h-1zM16 129h1v1h-1zM34 129h1v1h-1zM2 130h1v1h-1zM17 130h1v1h-1zM25 130h1v1h-1zM22 132h1v1h-1zM11 133h1v1h-1zM29 133h1v1h-1zM6 134h1v1h-1zM8 134h1v1h-1zM11 135h1v1h-1zM40 135h1v1h-1zM53 135h1v1h-1zM19 136h1v1h-1zM35 136h1v1h-1zM39 136h1v1h-1zM48 136h1v1h-1zM49 138h1v1h-1zM6 139h1v1h-1zM12 139h1v1h-1zM23 141h1v1h-1zM33 141h1v1h-1zM59 141h1v1h-1zM26 142h1v1h-1zM28 142h2v1h-2zM20 143h1v1h-1zM34 143h1v1h-1zM36 143h1v1h-1zM42 143h1v1h-1zM14 144h1v1h-1zM22 144h1v1h-1zM24 144h1v1h-1zM22 145h2v1h-2zM32 145h1v1h-1zM34 145h1v1h-1zM21 146h1v1h-1zM33 146h1v1h-1zM47 146h1v1h-1zM31 147h1v1h-1zM49 147h1v1h-1zM24 148h2v1h-2zM45 148h1v1h-1zM57 148h1v1h-1zM15 149h1v1h-1zM23 149h1v1h-1zM37 149h1v1h-1zM24 150h1v1h-1zM26 150h1v1h-1zM33 150h1v1h-1zM46 150h1v1h-1zM51 150h1v1h-1zM22 151h1v1h-1zM59 151h1v1h-1zM36 152h1v1h-1zM21 153h1v1h-1zM35 153h1v1h-1zM48 153h1v1h-1zM7 155h1v1h-1zM20 155h1v1h-1zM31 155h1v1h-1zM40 155h1v1h-1zM46 155h1v1h-1zM40 156h1v1h-1zM51 156h1v1h-1zM21 157h1v1h-1zM42 157h1v1h-1zM1 158h1v1h-1zM39 158h1v1h-1zM21 159h1v1h-1z"/>
<path fill="#dee6f2" d="M57 1h1v1h-1zM37 7h1v1h-1zM50 8h1v1h-1zM52 26h1v1h-1zM46 46h1v1h-1zM24 52h1v1h-1zM47 55h1v1h-1zM40 61h1v1h-1zM48 74h1v1h-1zM43 92h1v1h-1zM37 102h1v1h-1zM41 102h1v1h-1zM44 104h1v1h-1zM28 129h1v1h-1zM33 140h1v1h-1zM8 148h1v1h-1zM4 156h1v1h-1z"/>
<path fill="#f2f2fa" d="M24 2h1v1h-1zM23 3h1v1h-1zM41 6h1v1h-1zM56 6h1v1h-1zM35 7h1v1h-1zM55 10h1v1h-1zM57 11h1v1h-1zM31 13h1v1h-1zM59 21h1v1h-1zM50 22h1v1h-1zM57 23h1v1h-1zM29 24h1v1h-1zM36 24h1v1h-1zM57 25h1v1h-1zM39 26h1v1h-1zM36 27h1v1h-1zM45 32h1v1h-1zM53 36h1v1h-1zM35 38h1v1h-1zM58 43h1v1h-1zM59 45h1v1h-1zM53 46h1v1h-1zM21 48h1v1h-1zM43 53h1v1h-1zM29 54h1v1h-1zM56 55h1v1h-1zM26 72h1v1h-1zM56 75h1v1h-1zM20 77h1v1h-1zM37 77h1v1h-1zM40 79h1v1h-1zM29 91h1v1h-1zM56 95h1v1h-1zM57 97h1v1h-1zM28 98h1v1h-1zM45 100h1v1h-1zM49 104h1v1h-1zM36 106h1v1h-1zM45 106h1v1h-1zM23 107h1v1h-1zM31 107h1v1h-1zM40 107h1v1h-1zM23 120h1v1h-1zM34 121h1v1h-1zM18 122h1v1h-1zM11 124h1v1h-1zM23 126h1v1h-1zM31 127h1v1h-1zM31 128h1v1h-1zM23 138h1v1h-1zM37 138h1v1h-1zM39 138h1v1h-1zM0 150h1v1h-1zM9 151h1v1h-1z"/>
<path fill="#d2def2" d="M31 2h1v1h-1zM57 5h1v1h-1zM43 13h1v1h-1zM44 23h1v1h-1zM51 23h1v1h-1zM30 29h1v1h-1zM57 35h1v1h-1zM41 36h1v1h-1zM48 43h1v1h-1zM52 45h1v1h-1zM46 49h1v1h-1zM40 51h1v1h-1zM48 51h1v1h-1zM40 52h1v1h-1zM44 52h1v1h-1zM49 55h1v1h-1zM43 57h1v1h-1zM51 61h1v1h-1zM44 62h1v1h-1zM49 65h1v1h-1zM52 66h1v1h-1zM41 69h1v1h-1zM44 71h1v1h-1zM48 71h2v1h-2zM23 73h1v1h-1zM46 73h1v1h-1zM52 74h1v1h-1zM59 80h1v1h-1zM57 81h1v1h-1zM51 83h1v1h-1zM40 84h1v1h-1zM48 84h1v1h-1zM54 85h1v1h-1zM51 87h1v1h-1zM54 90h1v1h-1zM54 94h1v1h-1zM59 95h1v1h-1zM14 96h1v1h-1zM48 97h1v1h-1zM48 100h1v1h-1zM29 104h1v1h-1zM28 115h1v1h-1zM15 136h1v1h-1zM26 143h1v1h-1zM14 145h1v1h-1zM11 152h1v1h-1zM18 154h1v1h-1z"/>
<path fill="#f2be9e" d="M52 2h1v1h-1zM6 9h1v1h-1zM1 50h1v1h-1zM13 53h1v1h-1zM13 91h1v1h-1zM46 131h1v1h-1zM46 133h1v1h-1zM42 134h1v1h-1zM46 137h1v1h-1zM51 155h1v1h-1z"/>
<path fill="#fadac6" d="M7 3h1v1h-1zM7 14h1v1h-1zM17 15h1v1h-1zM5 17h1v1h-1zM6 21h1v1h-1zM10 21h1v1h-1zM2 22h1v1h-1zM15 22h1v1h-1zM6 24h1v1h-1zM9 24h1v1h-1zM6 29h1v1h-1zM13 31h1v1h-1zM7 32h1v1h-1zM13 32h1v1h-1zM10 34h1v1h-1zM14 35h2v1h-2zM14 37h1v1h-1zM1 42h1v1h-1zM0 49h1v1h-1zM1 51h1v1h-1zM13 52h1v1h-1zM0 54h1v1h-1zM9 57h1v1h-1zM10 59h1v1h-1zM4 62h1v1h-1zM15 63h1v1h-1zM1 65h1v1h-1zM0 67h1v1h-1zM11 67h1v1h-1zM13 68h1v1h-1zM8 71h1v1h-1zM10 71h1v1h-1zM11 74h1v1h-1zM2 75h1v1h-1zM13 75h1v1h-1zM14 87h1v1h-1zM9 88h1v1h-1zM7 93h1v1h-1zM5 94h1v1h-1zM9 96h1v1h-1zM9 97h1v1h-1zM14 97h1v1h-1zM6 100h1v1h-1zM8 108h1v1h-1zM2 109h1v1h-1zM6 110h1v1h-1zM6 112h1v1h-1zM8 120h1v1h-1zM6 121h1v1h-1zM45 132h1v1h-1zM43 133h1v1h-1zM55 142h1v1h-1zM29 145h1v1h-1zM58 156h1v1h-1z"/>
<path fill="#c2d6ee" d="M29 3h1v1h-1zM54 15h1v1h-1zM52 36h1v1h-1zM28 42h1v1h-1zM52 50h1v1h-1zM52 59h1v1h-1zM41 66h1v1h-1zM52 73h1v1h-1zM49 82h1v1h-1zM44 84h1v1h-1zM46 84h1v1h-1zM51 84h1v1h-1zM59 84h1v1h-1zM49 85h1v1h-1zM54 89h1v1h-1zM53 96h1v1h-1zM54 98h1v1h-1zM51 99h1v1h-1zM4 102h1v1h-1zM14 111h1v1h-1zM36 115h1v1h-1zM38 122h1v1h-1zM18 145h1v1h-1zM16 159h1v1h-1z"/>
<path fill="#deeaf6" d="M35 3h1v1h-1zM32 4h1v1h-1zM40 7h1v1h-1zM56 10h1v1h-1zM26 15h1v1h-1zM40 15h1v1h-1zM46 15h1v1h-1zM58 15h1v1h-1zM21 19h1v1h-1zM52 20h1v1h-1zM43 28h1v1h-1zM34 30h1v1h-1zM31 33h1v1h-1zM47 34h1v1h-1zM49 35h1v1h-1zM32 36h1v1h-1zM50 36h1v1h-1zM40 43h1v1h-1zM6 47h1v1h-1zM59 48h1v1h-1zM43 49h1v1h-1zM52 49h1v1h-1zM43 50h1v1h-1zM37 53h1v1h-1zM51 55h1v1h-1zM40 57h1v1h-1zM44 63h1v1h-1zM40 65h1v1h-1zM46 65h1v1h-1zM54 73h1v1h-1zM56 73h1v1h-1zM47 75h1v1h-1zM48 79h1v1h-1zM59 79h1v1h-1zM59 81h1v1h-1zM40 82h1v1h-1zM58 83h1v1h-1zM55 86h2v1h-2zM53 87h1v1h-1zM44 89h1v1h-1zM58 89h1v1h-1zM51 91h1v1h-1zM56 91h1v1h-1zM57 94h1v1h-1zM44 97h2v1h-2zM43 98h1v1h-1zM52 100h1v1h-1zM41 101h1v1h-1zM46 101h1v1h-1zM52 106h1v1h-1zM49 111h1v1h-1zM30 113h1v1h-1zM44 113h1v1h-1zM24 120h1v1h-1zM30 124h1v1h-1zM30 127h1v1h-1zM0 130h1v1h-1zM36 135h1v1h-1zM18 137h1v1h-1zM36 137h1v1h-1zM38 139h1v1h-1zM10 143h1v1h-1zM6 145h1v1h-1zM10 145h2v1h-2zM16 145h1v1h-1zM12 146h1v1h-1zM0 152h1v1h-1zM10 152h1v1h-1zM18 152h1v1h-1zM11 153h1v1h-1z"/>
<path fill="#bad2ea" d="M55 3h1v1h-1zM52 52h1v1h-1zM52 77h1v1h-1zM54 110h1v1h-1zM0 141h1v1h-1zM5 154h1v1h-1z"/>
<path fill="#feeade" d="M2 4h1v1h-1zM14 9h1v1h-1zM3 10h1v1h-1zM5 11h2v1h-2zM1 15h1v1h-1zM5 16h1v1h-1zM19 18h1v1h-1zM10 19h1v1h-1zM19 19h1v1h-1zM16 39h1v1h-1zM5 40h1v1h-1zM0 46h1v1h-1zM13 47h1v1h-1zM15 50h1v1h-1zM0 55h1v1h-1zM6 55h1v1h-1zM8 58h1v1h-1zM55 61h1v1h-1zM0 63h1v1h-1zM9 68h1v1h-1zM16 70h1v1h-1zM8 72h1v1h-1zM2 73h1v1h-1zM8 73h1v1h-1zM10 74h1v1h-1zM13 74h1v1h-1zM0 75h1v1h-1zM16 75h1v1h-1zM2 76h1v1h-1zM18 76h1v1h-1zM18 79h1v1h-1zM0 80h1v1h-1zM14 80h1v1h-1zM3 82h1v1h-1zM14 84h1v1h-1zM3 86h1v1h-1zM15 86h1v1h-1zM5 88h1v1h-1zM14 91h1v1h-1zM7 95h1v1h-1zM0 97h1v1h-1zM3 103h1v1h-1zM7 109h1v1h-1zM14 114h1v1h-1zM2 119h1v1h-1zM51 129h1v1h-1zM51 130h1v1h-1zM54 131h1v1h-1zM59 134h1v1h-1zM44 135h1v1h-1zM56 137h1v1h-1zM53 145h1v1h-1zM56 145h1v1h-1zM50 148h1v1h-1zM20 150h1v1h-1zM42 150h1v1h-1zM36 151h1v1h-1zM27 155h1v1h-1zM29 158h1v1h-1zM54 159h1v1h-1z"/>
<path fill="#fad6be" d="M7 4h1v1h-1zM11 5h1v1h-1zM9 14h1v1h-1zM15 37h1v1h-1zM2 38h1v1h-1zM13 41h2v1h-2zM3 47h1v1h-1zM12 52h1v1h-1zM0 56h1v1h-1zM1 67h1v1h-1zM13 76h1v1h-1zM1 79h1v1h-1zM15 91h1v1h-1zM15 117h1v1h-1zM0 120h1v1h-1zM50 134h1v1h-1zM55 153h1v1h-1z"/>
<path fill="#f2ba9a" d="M13 4h1v1h-1zM6 38h1v1h-1zM2 111h1v1h-1zM50 126h1v1h-1zM42 137h1v1h-1z"/>
<path fill="#cedef2" d="M37 4h1v1h-1zM35 20h2v1h-2zM46 23h1v1h-1zM49 29h1v1h-1zM43 33h1v1h-1zM46 34h1v1h-1zM46 47h1v1h-1zM42 51h1v1h-1zM43 52h1v1h-1zM52 53h1v1h-1zM49 57h1v1h-1zM46 59h1v1h-1zM28 62h1v1h-1zM38 64h1v1h-1zM51 64h2v1h-2zM59 64h1v1h-1zM43 66h1v1h-1zM51 71h1v1h-1zM43 73h1v1h-1zM52 78h1v1h-1zM58 78h2v1h-2zM52 81h1v1h-1zM52 82h1v1h-1zM50 83h1v1h-1zM51 85h1v1h-1zM49 86h1v1h-1zM54 86h1v1h-1zM52 88h1v1h-1zM52 90h1v1h-1zM58 96h2v1h-2zM49 98h1v1h-1zM44 107h1v1h-1zM44 111h1v1h-1zM36 120h1v1h-1zM33 122h1v1h-1zM38 129h1v1h-1zM58 129h1v1h-1zM38 131h1v1h-1zM48 138h1v1h-1zM10 149h1v1h-1zM4 152h1v1h-1zM19 159h1v1h-1z"/>
<path fill="#bed2ee" d="M43 5h1v1h-1zM49 7h1v1h-1zM46 12h1v1h-1zM59 15h1v1h-1zM46 56h1v1h-1zM46 60h1v1h-1zM34 79h1v1h-1zM43 80h1v1h-1zM55 98h1v1h-1zM59 98h1v1h-1zM1 140h1v1h-1zM3 141h1v1h-1z"/>
<path fill="#aec6e6" d="M48 5h1v1h-1zM19 20h1v1h-1zM30 45h1v1h-1zM54 57h1v1h-1zM51 98h1v1h-1z"/>
<path fill="#e28a62" d="M52 6h1v1h-1z"/>
<path fill="#b6ceea" d="M18 8h1v1h-1zM57 70h1v1h-1zM26 75h1v1h-1zM52 80h1v1h-1zM52 83h1v1h-1zM52 85h1v1h-1zM54 93h1v1h-1zM48 95h1v1h-1zM33 132h1v1h-1z"/>
<path fill="#fef2e6" d="M0 9h1v1h-1zM15 9h1v1h-1zM12 12h1v1h-1zM13 23h1v1h-1zM4 27h1v1h-1zM10 29h1v1h-1zM16 29h1v1h-1zM1 40h1v1h-1zM18 45h1v1h-1zM3 51h1v1h-1zM16 60h1v1h-1zM0 78h1v1h-1zM11 87h1v1h-1zM9 91h1v1h-1zM2 93h1v1h-1zM3 94h1v1h-1zM33 95h1v1h-1zM15 100h1v1h-1zM3 101h1v1h-1zM12 110h1v1h-1zM4 112h1v1h-1zM17 114h1v1h-1zM19 116h1v1h-1zM42 116h1v1h-1zM41 119h1v1h-1zM15 121h1v1h-1zM58 123h1v1h-1zM43 126h1v1h-1zM3 132h1v1h-1zM17 134h1v1h-1zM48 137h1v1h-1zM54 142h1v1h-1zM53 143h1v1h-1zM45 145h1v1h-1zM20 149h1v1h-1zM35 150h1v1h-1zM51 153h1v1h-1z"/>
<path fill="#f6c6a6" d="M8 9h1v1h-1zM0 28h1v1h-1zM8 92h1v1h-1zM46 130h1v1h-1zM42 135h1v1h-1z"/>
<path fill="#fadac2" d="M11 9h1v1h-1zM8 18h1v1h-1zM14 18h1v1h-1zM13 19h1v1h-1zM11 27h1v1h-1zM9 38h1v1h-1zM15 40h1v1h-1zM8 43h1v1h-1zM11 44h1v1h-1zM3 46h1v1h-1zM8 48h1v1h-1zM6 51h1v1h-1zM8 52h1v1h-1zM13 55h1v1h-1zM6 76h1v1h-1zM6 78h1v1h-1zM13 78h1v1h-1zM14 101h1v1h-1zM11 121h1v1h-1zM50 129h1v1h-1zM54 157h1v1h-1z"/>
<path fill="#f2c2a6" d="M52 9h1v1h-1zM0 37h1v1h-1zM10 54h1v1h-1zM14 56h1v1h-1zM16 57h1v1h-1zM3 77h1v1h-1zM8 80h1v1h-1zM45 124h1v1h-1zM50 124h1v1h-1zM41 128h1v1h-1zM52 128h1v1h-1zM52 133h1v1h-1z"/>
<path fill="#eeae8a" d="M6 10h1v1h-1zM7 19h1v1h-1zM8 88h1v1h-1zM13 94h1v1h-1zM42 125h1v1h-1zM52 154h1v1h-1zM52 157h1v1h-1z"/>
<path fill="#f6cab2" d="M14 10h1v1h-1zM10 14h1v1h-1zM9 32h1v1h-1zM6 53h1v1h-1zM13 73h1v1h-1zM6 90h1v1h-1zM10 90h1v1h-1zM13 105h1v1h-1zM10 111h1v1h-1zM8 114h1v1h-1zM7 120h1v1h-1zM46 123h1v1h-1zM50 139h1v1h-1z"/>
<path fill="#6a92ce" d="M59 11h1v1h-1z"/>
<path fill="#baceea" d="M43 12h1v1h-1zM26 16h1v1h-1zM44 78h1v1h-1zM51 89h1v1h-1zM52 97h1v1h-1zM33 117h1v1h-1zM30 121h1v1h-1zM5 152h1v1h-1z"/>
<path fill="#6692ca" d="M59 12h1v1h-1zM33 130h1v1h-1z"/>
<path fill="#7ea6d6" d="M59 13h1v1h-1zM40 112h1v1h-1z"/>
<path fill="#aac6e6" d="M44 14h1v1h-1zM52 51h1v1h-1zM53 52h1v1h-1zM48 73h1v1h-1zM52 91h1v1h-1zM51 97h1v1h-1z"/>
<path fill="#8eaede" d="M59 14h1v1h-1zM38 106h1v1h-1zM41 111h1v1h-1z"/>
<path fill="#a6c2e6" d="M33 16h1v1h-1zM59 26h1v1h-1zM59 27h1v1h-1zM59 28h1v1h-1zM52 87h1v1h-1zM51 90h1v1h-1zM52 94h1v1h-1zM51 95h1v1h-1zM52 98h1v1h-1zM17 159h1v1h-1z"/>
<path fill="#92b2de" d="M59 16h1v1h-1zM58 71h1v1h-1zM26 115h1v1h-1zM28 139h1v1h-1z"/>
<path fill="#f6ceb2" d="M11 17h1v1h-1zM1 49h1v1h-1zM11 60h1v1h-1zM6 69h1v1h-1zM13 80h1v1h-1zM6 89h1v1h-1zM11 89h1v1h-1zM6 92h1v1h-1zM1 95h1v1h-1zM15 95h1v1h-1zM6 114h1v1h-1zM52 131h1v1h-1z"/>
<path fill="#dae2f2" d="M43 17h1v1h-1zM46 40h1v1h-1zM37 47h1v1h-1zM55 52h1v1h-1zM54 53h1v1h-1zM46 79h1v1h-1zM51 79h1v1h-1zM57 79h1v1h-1zM46 94h1v1h-1zM46 98h1v1h-1zM36 127h1v1h-1z"/>
<path fill="#8eb2de" d="M59 17h1v1h-1zM41 109h1v1h-1z"/>
<path fill="#f6c6aa" d="M6 18h1v1h-1zM8 20h1v1h-1zM6 22h1v1h-1zM9 43h1v1h-1zM6 48h1v1h-1zM7 58h1v1h-1zM7 61h1v1h-1zM11 78h1v1h-1zM11 82h1v1h-1zM1 94h1v1h-1zM14 102h1v1h-1zM17 110h1v1h-1zM46 138h1v1h-1zM52 155h1v1h-1z"/>
<path fill="#f6d6be" d="M9 20h1v1h-1zM7 22h1v1h-1zM9 22h1v1h-1zM11 22h1v1h-1zM10 27h1v1h-1zM13 27h1v1h-1zM0 29h1v1h-1zM5 29h1v1h-1zM10 31h1v1h-1zM8 49h1v1h-1zM6 50h1v1h-1zM8 50h1v1h-1zM14 61h1v1h-1zM11 62h1v1h-1zM17 62h1v1h-1zM14 72h1v1h-1zM6 75h1v1h-1zM1 81h1v1h-1zM9 81h1v1h-1zM13 85h1v1h-1zM8 90h1v1h-1zM7 100h1v1h-1zM10 110h1v1h-1zM2 118h1v1h-1zM46 125h1v1h-1zM50 125h1v1h-1zM43 131h1v1h-1zM56 139h1v1h-1zM54 140h1v1h-1zM56 143h1v1h-1zM44 153h1v1h-1z"/>
<path fill="#f6d2be" d="M13 22h1v1h-1zM1 38h1v1h-1zM10 45h1v1h-1zM9 67h1v1h-1zM2 69h1v1h-1zM6 97h1v1h-1zM57 126h1v1h-1zM29 157h1v1h-1z"/>
<path fill="#c6daee" d="M42 22h1v1h-1zM23 33h1v1h-1zM43 71h1v1h-1zM54 81h1v1h-1zM46 83h1v1h-1zM54 84h1v1h-1zM43 94h1v1h-1zM49 95h1v1h-1zM44 96h1v1h-1zM42 98h1v1h-1zM30 122h1v1h-1zM19 148h1v1h-1zM12 155h1v1h-1zM12 157h1v1h-1zM11 158h1v1h-1z"/>
<path fill="#eaaa86" d="M7 23h1v1h-1z"/>
<path fill="#fadec6" d="M17 23h1v1h-1zM9 26h1v1h-1zM7 82h1v1h-1zM17 123h1v1h-1zM46 127h1v1h-1z"/>
<path fill="#9ebee2" d="M4 26h1v1h-1zM43 55h1v1h-1zM53 109h1v1h-1z"/>
<path fill="#f2bea2" d="M15 27h1v1h-1zM8 38h1v1h-1zM1 93h1v1h-1zM52 135h1v1h-1zM41 138h2v1h-2z"/>
<path fill="#a2bee6" d="M59 29h1v1h-1zM46 58h1v1h-1zM49 77h1v1h-1zM52 84h1v1h-1zM53 112h1v1h-1z"/>
<path fill="#5a86c6" d="M59 30h1v1h-1z"/>
<path fill="#9abae2" d="M59 31h1v1h-1zM46 57h1v1h-1zM54 112h1v1h-1z"/>
<path fill="#96b6de" d="M59 32h1v1h-1zM54 109h1v1h-1z"/>
<path fill="#4672ba" d="M59 33h1v1h-1z"/>
<path fill="#96b6e2" d="M59 34h1v1h-1z"/>
<path fill="#fae2d6" d="M17 37h1v1h-1zM13 43h1v1h-1zM1 45h1v1h-1zM18 50h1v1h-1zM19 51h1v1h-1zM10 52h1v1h-1zM10 56h1v1h-1zM15 61h1v1h-1zM8 77h1v1h-1zM14 92h1v1h-1zM14 106h1v1h-1zM13 114h1v1h-1zM10 120h1v1h-1zM51 126h1v1h-1zM43 128h1v1h-1zM45 128h1v1h-1z"/>
<path fill="#ea9e76" d="M8 39h1v1h-1zM9 78h1v1h-1zM41 130h1v1h-1zM52 150h1v1h-1z"/>
<path fill="#f6d2b6" d="M13 39h1v1h-1zM9 82h1v1h-1zM52 132h1v1h-1z"/>
<path fill="#eeae8e" d="M13 40h1v1h-1z"/>
<path fill="#729ad2" d="M46 44h1v1h-1z"/>
<path fill="#aecae6" d="M52 54h1v1h-1z"/>
<path fill="#eaa27e" d="M8 55h1v1h-1zM44 124h1v1h-1zM42 132h1v1h-1zM52 136h1v1h-1zM42 139h1v1h-1z"/>
<path fill="#eeb692" d="M9 56h1v1h-1zM10 97h1v1h-1z"/>
<path fill="#eeb28e" d="M6 64h1v1h-1zM15 94h1v1h-1zM41 125h1v1h-1zM42 127h1v1h-1z"/>
<path fill="#eaa682" d="M3 68h1v1h-1zM10 92h1v1h-1z"/>
<path fill="#f2c2a2" d="M10 70h1v1h-1zM13 117h1v1h-1zM46 135h1v1h-1z"/>
<path fill="#b6caea" d="M52 70h1v1h-1z"/>
<path fill="#eeaa86" d="M11 73h1v1h-1zM9 90h1v1h-1zM42 129h1v1h-1zM41 131h1v1h-1zM52 134h1v1h-1z"/>
<path fill="#e2926a" d="M6 74h1v1h-1zM41 135h1v1h-1z"/>
<path fill="#a2bee2" d="M51 81h1v1h-1z"/>
<path fill="#bed2ea" d="M59 83h1v1h-1zM59 90h1v1h-1zM52 93h1v1h-1zM59 97h1v1h-1zM32 99h1v1h-1zM38 134h1v1h-1zM50 142h1v1h-1zM5 143h1v1h-1z"/>
<path fill="#aac2e6" d="M59 85h1v1h-1z"/>
<path fill="#de865a" d="M3 87h1v1h-1zM42 128h1v1h-1z"/>
<path fill="#c6d6ee" d="M49 90h1v1h-1zM43 91h1v1h-1zM52 113h1v1h-1zM36 124h1v1h-1zM51 157h1v1h-1zM18 159h1v1h-1z"/>
<path fill="#f2b696" d="M15 103h1v1h-1zM46 134h1v1h-1zM46 139h1v1h-1z"/>
<path fill="#86aada" d="M54 104h1v1h-1zM40 111h1v1h-1zM53 111h1v1h-1z"/>
<path fill="#6692ce" d="M40 109h1v1h-1z"/>
<path fill="#cadeee" d="M59 109h1v1h-1z"/>
<path fill="#7a9ed2" d="M41 110h1v1h-1z"/>
<path fill="#6e96ce" d="M54 111h1v1h-1z"/>
<path fill="#be463a" d="M41 124h1v1h-1zM52 149h1v1h-1z"/>
<path fill="#d27246" d="M42 124h1v1h-1z"/>
<path fill="#e69a72" d="M46 124h1v1h-1zM42 131h1v1h-1z"/>
<path fill="#d26e46" d="M41 126h1v1h-1z"/>
<path fill="#ba3a36" d="M42 126h1v1h-1z"/>
<path fill="#ca6242" d="M46 126h1v1h-1z"/>
<path fill="#e69a76" d="M52 126h1v1h-1z"/>
<path fill="#f6c6ae" d="M41 127h1v1h-1z"/>
<path fill="#e6966e" d="M52 127h1v1h-1z"/>
<path fill="#b63232" d="M41 129h1v1h-1z"/>
<path fill="#eaa67e" d="M52 129h1v1h-1z"/>
<path fill="#e28e62" d="M52 130h1v1h-1zM52 139h1v1h-1z"/>
<path fill="#d67a4a" d="M41 132h1v1h-1z"/>
<path fill="#be4e3a" d="M41 133h1v1h-1z"/>
<path fill="#ce6646" d="M42 133h1v1h-1z"/>
<path fill="#eaa27a" d="M41 134h1v1h-1z"/>
<path fill="#b63a36" d="M42 136h1v1h-1zM52 153h1v1h-1z"/>
<path fill="#da7e4e" d="M41 137h1v1h-1z"/>
<path fill="#ce6a46" d="M41 139h1v1h-1z"/>
<path fill="#ba423a" d="M41 140h1v1h-1z"/>
<path fill="#aa222e" d="M42 140h1v1h-1z"/>
<path fill="#c2523e" d="M52 140h1v1h-1z"/>
<path fill="#eeb292" d="M53 147h1v1h-1z"/>
<path fill="#be4e3e" d="M52 151h1v1h-1z"/>
<path fill="#a2c2e6" d="M2 154h1v1h-1z"/>
<path fill="#a61e2a" d="M52 156h1v1h-1z"/>
</g></g>
<rect x="284.8" y="39.6" width="203" height="319.6" fill="none" stroke="#333" stroke-width="1.3"/>
<line x1="285.2" y1="35.2" x2="351.5" y2="35.2" stroke="#1a1a1a" stroke-width="1.2"/>
<text x="318.5" y="32.7" font-size="9" text-anchor="middle">Pre</text>
<line x1="353.1" y1="35.2" x2="419.4" y2="35.2" stroke="#1a1a1a" stroke-width="1.2"/>
<text x="386.4" y="32.7" font-size="9" text-anchor="middle">1M</text>
<line x1="420.9" y1="35.2" x2="486.9" y2="35.2" stroke="#1a1a1a" stroke-width="1.2"/>
<text x="453.9" y="32.7" font-size="9" text-anchor="middle">6M</text>
<linearGradient id="cb" x1="0" y1="0" x2="0" y2="1"><stop offset="0.000" stop-color="rgb(165, 30, 40)"/><stop offset="0.027" stop-color="rgb(176, 37, 47)"/><stop offset="0.102" stop-color="rgb(192, 80, 60)"/><stop offset="0.145" stop-color="rgb(216, 122, 74)"/><stop offset="0.177" stop-color="rgb(233, 160, 122)"/><stop offset="0.231" stop-color="rgb(243, 193, 163)"/><stop offset="0.294" stop-color="rgb(249, 220, 200)"/><stop offset="0.365" stop-color="rgb(252, 237, 227)"/><stop offset="0.435" stop-color="rgb(253, 246, 242)"/><stop offset="0.500" stop-color="rgb(255, 255, 255)"/><stop offset="0.554" stop-color="rgb(242, 245, 250)"/><stop offset="0.629" stop-color="rgb(226, 234, 245)"/><stop offset="0.704" stop-color="rgb(198, 216, 238)"/><stop offset="0.780" stop-color="rgb(159, 189, 227)"/><stop offset="0.855" stop-color="rgb(112, 153, 208)"/><stop offset="0.930" stop-color="rgb(79, 124, 192)"/><stop offset="1.000" stop-color="rgb(58, 100, 180)"/></linearGradient>
<rect x="492.6" y="40.1" width="7.8" height="96.8" fill="url(#cb)" stroke="#333" stroke-width="1.1"/>
<text x="503.6" y="49.1" font-size="9">4</text>
<text x="503.6" y="69.9" font-size="9">2</text>
<text x="503.6" y="90.9" font-size="9">0</text>
<text x="503.6" y="111.7" font-size="9">-2</text>
<text x="503.6" y="133.2" font-size="9">-4</text>
<text x="8" y="255.4" font-size="12.5" font-weight="bold" fill="#000">C</text>
<line x1="86.9" y1="263.5" x2="86.9" y2="440.1" stroke="#1a1a1a" stroke-width="1.3"/>
<line x1="86.3" y1="439.5" x2="249.9" y2="439.5" stroke="#1a1a1a" stroke-width="1.3"/>
<line x1="83.6" y1="266.9" x2="86.9" y2="266.9" stroke="#1a1a1a" stroke-width="1"/>
<text x="79.9" y="270.2" font-size="9" text-anchor="end">Serum up</text>
<line x1="83.6" y1="285.2" x2="86.9" y2="285.2" stroke="#1a1a1a" stroke-width="1"/>
<text x="79.9" y="288.5" font-size="9" text-anchor="end">TLR-CpG</text>
<line x1="83.6" y1="302.9" x2="86.9" y2="302.9" stroke="#1a1a1a" stroke-width="1"/>
<text x="79.9" y="306.2" font-size="9" text-anchor="end">Notch up</text>
<line x1="83.6" y1="320.8" x2="86.9" y2="320.8" stroke="#1a1a1a" stroke-width="1"/>
<text x="79.9" y="324.1" font-size="9" text-anchor="end">Starve down</text>
<line x1="83.6" y1="338.8" x2="86.9" y2="338.8" stroke="#1a1a1a" stroke-width="1"/>
<text x="79.9" y="342.1" font-size="9" text-anchor="end">Blimp</text>
<line x1="83.6" y1="356.7" x2="86.9" y2="356.7" stroke="#1a1a1a" stroke-width="1"/>
<text x="79.9" y="360" font-size="9" text-anchor="end">IFN</text>
<line x1="83.6" y1="374.4" x2="86.9" y2="374.4" stroke="#1a1a1a" stroke-width="1"/>
<text x="79.9" y="377.7" font-size="9" text-anchor="end">NF&#954;B</text>
<line x1="83.6" y1="392.4" x2="86.9" y2="392.4" stroke="#1a1a1a" stroke-width="1"/>
<text x="79.9" y="395.7" font-size="9" text-anchor="end">IL-4</text>
<line x1="83.6" y1="410.6" x2="86.9" y2="410.6" stroke="#1a1a1a" stroke-width="1"/>
<text x="79.9" y="413.9" font-size="9" text-anchor="end">Activation BCR</text>
<line x1="83.6" y1="428.2" x2="86.9" y2="428.2" stroke="#1a1a1a" stroke-width="1"/>
<text x="79.9" y="431.5" font-size="9" text-anchor="end">B-cell anergy</text>
<line x1="86.9" y1="439.5" x2="86.9" y2="443" stroke="#1a1a1a" stroke-width="1"/>
<text x="86.9" y="454.4" font-size="9" text-anchor="middle">-1.0</text>
<line x1="167.3" y1="439.5" x2="167.3" y2="443" stroke="#1a1a1a" stroke-width="1"/>
<text x="167.3" y="454.4" font-size="9" text-anchor="middle">-0.5</text>
<line x1="247.2" y1="439.5" x2="247.2" y2="443" stroke="#1a1a1a" stroke-width="1"/>
<text x="247.2" y="454.4" font-size="9" text-anchor="middle">0.0</text>
<text x="145.5" y="466.5" font-size="9.6" textLength="42.5" lengthAdjust="spacingAndGlyphs" fill="#1a1a1a"><tspan>Avg Log</tspan><tspan font-size="6.5" dy="1.8">2</tspan><tspan dy="-1.8">FC</tspan></text>
<line x1="189.6" y1="266.9" x2="200.8" y2="266.9" stroke="#333" stroke-width="1.1"/>
<line x1="189.6" y1="264.4" x2="189.6" y2="269.4" stroke="#222" stroke-width="1.1"/>
<line x1="200.8" y1="264.4" x2="200.8" y2="269.4" stroke="#222" stroke-width="1.1"/>
<line x1="190.6" y1="285.2" x2="200.1" y2="285.2" stroke="#333" stroke-width="1.1"/>
<line x1="190.6" y1="282.7" x2="190.6" y2="287.7" stroke="#222" stroke-width="1.1"/>
<line x1="200.1" y1="282.7" x2="200.1" y2="287.7" stroke="#222" stroke-width="1.1"/>
<line x1="181.3" y1="302.9" x2="194.8" y2="302.9" stroke="#333" stroke-width="1.1"/>
<line x1="181.3" y1="300.4" x2="181.3" y2="305.4" stroke="#222" stroke-width="1.1"/>
<line x1="194.8" y1="300.4" x2="194.8" y2="305.4" stroke="#222" stroke-width="1.1"/>
<line x1="181.7" y1="320.8" x2="193.2" y2="320.8" stroke="#333" stroke-width="1.1"/>
<line x1="181.7" y1="318.3" x2="181.7" y2="323.3" stroke="#222" stroke-width="1.1"/>
<line x1="193.2" y1="318.3" x2="193.2" y2="323.3" stroke="#222" stroke-width="1.1"/>
<line x1="175.2" y1="338.8" x2="186.5" y2="338.8" stroke="#333" stroke-width="1.1"/>
<line x1="175.2" y1="336.3" x2="175.2" y2="341.3" stroke="#222" stroke-width="1.1"/>
<line x1="186.5" y1="336.3" x2="186.5" y2="341.3" stroke="#222" stroke-width="1.1"/>
<line x1="163.4" y1="356.7" x2="176.8" y2="356.7" stroke="#333" stroke-width="1.1"/>
<line x1="163.4" y1="354.2" x2="163.4" y2="359.2" stroke="#222" stroke-width="1.1"/>
<line x1="176.8" y1="354.2" x2="176.8" y2="359.2" stroke="#222" stroke-width="1.1"/>
<line x1="166.4" y1="374.4" x2="177.7" y2="374.4" stroke="#333" stroke-width="1.1"/>
<line x1="166.4" y1="371.9" x2="166.4" y2="376.9" stroke="#222" stroke-width="1.1"/>
<line x1="177.7" y1="371.9" x2="177.7" y2="376.9" stroke="#222" stroke-width="1.1"/>
<line x1="175.4" y1="392.4" x2="184.2" y2="392.4" stroke="#333" stroke-width="1.1"/>
<line x1="175.4" y1="389.9" x2="175.4" y2="394.9" stroke="#222" stroke-width="1.1"/>
<line x1="184.2" y1="389.9" x2="184.2" y2="394.9" stroke="#222" stroke-width="1.1"/>
<line x1="133.2" y1="410.6" x2="149.3" y2="410.6" stroke="#333" stroke-width="1.1"/>
<line x1="133.2" y1="408.1" x2="133.2" y2="413.1" stroke="#222" stroke-width="1.1"/>
<line x1="149.3" y1="408.1" x2="149.3" y2="413.1" stroke="#222" stroke-width="1.1"/>
<line x1="139.2" y1="428.2" x2="165" y2="428.2" stroke="#333" stroke-width="1.1"/>
<line x1="139.2" y1="425.7" x2="139.2" y2="430.7" stroke="#222" stroke-width="1.1"/>
<line x1="165" y1="425.7" x2="165" y2="430.7" stroke="#222" stroke-width="1.1"/>
<line x1="174.3" y1="266.9" x2="186.4" y2="266.9" stroke="#333" stroke-width="1.1"/>
<line x1="174.3" y1="264.4" x2="174.3" y2="269.4" stroke="#222" stroke-width="1.1"/>
<line x1="186.4" y1="264.4" x2="186.4" y2="269.4" stroke="#222" stroke-width="1.1"/>
<line x1="170.5" y1="285.2" x2="183.8" y2="285.2" stroke="#333" stroke-width="1.1"/>
<line x1="170.5" y1="282.7" x2="170.5" y2="287.7" stroke="#222" stroke-width="1.1"/>
<line x1="183.8" y1="282.7" x2="183.8" y2="287.7" stroke="#222" stroke-width="1.1"/>
<line x1="160.2" y1="302.9" x2="179.6" y2="302.9" stroke="#333" stroke-width="1.1"/>
<line x1="160.2" y1="300.4" x2="160.2" y2="305.4" stroke="#222" stroke-width="1.1"/>
<line x1="179.6" y1="300.4" x2="179.6" y2="305.4" stroke="#222" stroke-width="1.1"/>
<line x1="161" y1="320.8" x2="175.4" y2="320.8" stroke="#333" stroke-width="1.1"/>
<line x1="161" y1="318.3" x2="161" y2="323.3" stroke="#222" stroke-width="1.1"/>
<line x1="175.4" y1="318.3" x2="175.4" y2="323.3" stroke="#222" stroke-width="1.1"/>
<line x1="149.2" y1="338.8" x2="169.2" y2="338.8" stroke="#333" stroke-width="1.1"/>
<line x1="149.2" y1="336.3" x2="149.2" y2="341.3" stroke="#222" stroke-width="1.1"/>
<line x1="169.2" y1="336.3" x2="169.2" y2="341.3" stroke="#222" stroke-width="1.1"/>
<line x1="138.9" y1="356.7" x2="162.7" y2="356.7" stroke="#333" stroke-width="1.1"/>
<line x1="138.9" y1="354.2" x2="138.9" y2="359.2" stroke="#222" stroke-width="1.1"/>
<line x1="162.7" y1="354.2" x2="162.7" y2="359.2" stroke="#222" stroke-width="1.1"/>
<line x1="139.4" y1="374.4" x2="157.8" y2="374.4" stroke="#333" stroke-width="1.1"/>
<line x1="139.4" y1="371.9" x2="139.4" y2="376.9" stroke="#222" stroke-width="1.1"/>
<line x1="157.8" y1="371.9" x2="157.8" y2="376.9" stroke="#222" stroke-width="1.1"/>
<line x1="125.3" y1="392.4" x2="148.4" y2="392.4" stroke="#333" stroke-width="1.1"/>
<line x1="125.3" y1="389.9" x2="125.3" y2="394.9" stroke="#222" stroke-width="1.1"/>
<line x1="148.4" y1="389.9" x2="148.4" y2="394.9" stroke="#222" stroke-width="1.1"/>
<line x1="111.5" y1="410.6" x2="131.5" y2="410.6" stroke="#333" stroke-width="1.1"/>
<line x1="111.5" y1="408.1" x2="111.5" y2="413.1" stroke="#222" stroke-width="1.1"/>
<line x1="131.5" y1="408.1" x2="131.5" y2="413.1" stroke="#222" stroke-width="1.1"/>
<line x1="100.4" y1="428.2" x2="132.2" y2="428.2" stroke="#333" stroke-width="1.1"/>
<line x1="100.4" y1="425.7" x2="100.4" y2="430.7" stroke="#222" stroke-width="1.1"/>
<line x1="132.2" y1="425.7" x2="132.2" y2="430.7" stroke="#222" stroke-width="1.1"/>
<line x1="169.2" y1="338.8" x2="175.2" y2="338.8" stroke="#333" stroke-width="1.1"/>
<path d="M195.1 264.1L197.9 266.9L195.1 269.7L192.3 266.9Z" fill="#5ba2df"/>
<path d="M195.3 282.4L198.1 285.2L195.3 288L192.5 285.2Z" fill="#5ba2df"/>
<path d="M188.1 300.1L190.9 302.9L188.1 305.7L185.3 302.9Z" fill="#5ba2df"/>
<path d="M187.2 318L190 320.8L187.2 323.6L184.4 320.8Z" fill="#5ba2df"/>
<path d="M177.8 336L180.6 338.8L177.8 341.6L175 338.8Z" fill="#5ba2df"/>
<path d="M169.7 353.9L172.5 356.7L169.7 359.5L166.9 356.7Z" fill="#5ba2df"/>
<path d="M171.7 371.6L174.5 374.4L171.7 377.2L168.9 374.4Z" fill="#5ba2df"/>
<path d="M179.5 389.6L182.3 392.4L179.5 395.2L176.7 392.4Z" fill="#5ba2df"/>
<path d="M141.2 407.8L144 410.6L141.2 413.4L138.4 410.6Z" fill="#5ba2df"/>
<path d="M151.8 425.4L154.6 428.2L151.8 431L149 428.2Z" fill="#5ba2df"/>
<rect x="178.3" y="264.5" width="4.8" height="4.8" fill="#a3001f"/>
<rect x="174.7" y="282.8" width="4.8" height="4.8" fill="#a3001f"/>
<rect x="167.7" y="300.5" width="4.8" height="4.8" fill="#a3001f"/>
<rect x="166" y="318.4" width="4.8" height="4.8" fill="#a3001f"/>
<rect x="159.8" y="336.4" width="4.8" height="4.8" fill="#a3001f"/>
<rect x="148.3" y="354.3" width="4.8" height="4.8" fill="#a3001f"/>
<rect x="146" y="372" width="4.8" height="4.8" fill="#a3001f"/>
<rect x="134.4" y="390" width="4.8" height="4.8" fill="#a3001f"/>
<rect x="119.2" y="408.2" width="4.8" height="4.8" fill="#a3001f"/>
<rect x="114.1" y="425.8" width="4.8" height="4.8" fill="#a3001f"/>
<path d="M227.8 263.6L230.8 266.6L227.8 269.6L224.8 266.6Z" fill="#5ba2df"/>
<text x="234" y="268.9" font-size="8.6">1M</text>
<rect x="225.4" y="277.2" width="4.8" height="4.8" fill="#a3001f"/>
<text x="234" y="281.9" font-size="8.6">6M</text>
<text x="8" y="493" font-size="12.5" font-weight="bold" fill="#000">D</text>
<line x1="60" y1="513.6" x2="60" y2="689.6" stroke="#1a1a1a" stroke-width="1.3"/>
<line x1="59.4" y1="689" x2="263.4" y2="689" stroke="#1a1a1a" stroke-width="1.3"/>
<line x1="56.8" y1="516.3" x2="60" y2="516.3" stroke="#1a1a1a" stroke-width="1"/>
<text x="53.4" y="519.7" font-size="9.2" text-anchor="end">0.5</text>
<line x1="56.8" y1="554.9" x2="60" y2="554.9" stroke="#1a1a1a" stroke-width="1"/>
<text x="53.4" y="558.3" font-size="9.2" text-anchor="end">0.0</text>
<line x1="56.8" y1="593.4" x2="60" y2="593.4" stroke="#1a1a1a" stroke-width="1"/>
<text x="53.4" y="596.8" font-size="9.2" text-anchor="end">-0.5</text>
<line x1="56.8" y1="631.9" x2="60" y2="631.9" stroke="#1a1a1a" stroke-width="1"/>
<text x="53.4" y="635.3" font-size="9.2" text-anchor="end">-1.0</text>
<line x1="56.8" y1="670.4" x2="60" y2="670.4" stroke="#1a1a1a" stroke-width="1"/>
<text x="53.4" y="673.8" font-size="9.2" text-anchor="end">-1.5</text>
<line x1="61" y1="554.9" x2="263.5" y2="554.9" stroke="#666" stroke-width="0.9" stroke-dasharray="1.1 1.2"/>
<text x="161.8" y="496" font-size="11" text-anchor="middle" textLength="71.5" lengthAdjust="spacingAndGlyphs">Activation BCR</text>
<line x1="81.4" y1="689" x2="81.4" y2="692.2" stroke="#1a1a1a" stroke-width="1"/>
<text x="81.4" y="703.7" font-size="8.8" text-anchor="middle">QD</text>
<line x1="113.3" y1="689" x2="113.3" y2="692.2" stroke="#1a1a1a" stroke-width="1"/>
<text x="113.3" y="703.7" font-size="8.8" text-anchor="middle">BID</text>
<line x1="145.8" y1="689" x2="145.8" y2="692.2" stroke="#1a1a1a" stroke-width="1"/>
<text x="145.8" y="703.7" font-size="8.8" text-anchor="middle">QD</text>
<line x1="177.2" y1="689" x2="177.2" y2="692.2" stroke="#1a1a1a" stroke-width="1"/>
<text x="177.2" y="703.7" font-size="8.8" text-anchor="middle">BID</text>
<line x1="209.3" y1="689" x2="209.3" y2="692.2" stroke="#1a1a1a" stroke-width="1"/>
<text x="209.3" y="703.7" font-size="8.8" text-anchor="middle">QD</text>
<line x1="240.8" y1="689" x2="240.8" y2="692.2" stroke="#1a1a1a" stroke-width="1"/>
<text x="240.8" y="703.7" font-size="8.8" text-anchor="middle">BID</text>
<line x1="81.4" y1="709.2" x2="113.3" y2="709.2" stroke="#1a1a1a" stroke-width="1.1"/>
<text x="97.35" y="719.6" font-size="8.8" text-anchor="middle">D4</text>
<path d="M81.4 516.6V513.7H113.3V516.6" fill="none" stroke="#1a1a1a" stroke-width="1.1"/>
<polygon points="97.35,505.85 97.93,507.40 99.58,507.47 98.29,508.50 98.73,510.10 97.35,509.19 95.97,510.10 96.41,508.50 95.12,507.47 96.77,507.40" fill="#111"/>
<line x1="145.8" y1="709.2" x2="177.2" y2="709.2" stroke="#1a1a1a" stroke-width="1.1"/>
<text x="161.5" y="719.6" font-size="8.8" text-anchor="middle">1M</text>
<path d="M145.8 516.6V513.7H177.2V516.6" fill="none" stroke="#1a1a1a" stroke-width="1.1"/>
<polygon points="156.50,505.85 157.08,507.40 158.73,507.47 157.44,508.50 157.88,510.10 156.50,509.19 155.12,510.10 155.56,508.50 154.27,507.47 155.92,507.40" fill="#111"/>
<polygon points="161.50,505.85 162.08,507.40 163.73,507.47 162.44,508.50 162.88,510.10 161.50,509.19 160.12,510.10 160.56,508.50 159.27,507.47 160.92,507.40" fill="#111"/>
<polygon points="166.50,505.85 167.08,507.40 168.73,507.47 167.44,508.50 167.88,510.10 166.50,509.19 165.12,510.10 165.56,508.50 164.27,507.47 165.92,507.40" fill="#111"/>
<line x1="209.3" y1="709.2" x2="240.8" y2="709.2" stroke="#1a1a1a" stroke-width="1.1"/>
<text x="225.05" y="719.6" font-size="8.8" text-anchor="middle">6M</text>
<path d="M209.3 516.6V513.7H240.8V516.6" fill="none" stroke="#1a1a1a" stroke-width="1.1"/>
<polygon points="220.05,505.85 220.63,507.40 222.28,507.47 220.99,508.50 221.43,510.10 220.05,509.19 218.67,510.10 219.11,508.50 217.82,507.47 219.47,507.40" fill="#111"/>
<polygon points="225.05,505.85 225.63,507.40 227.28,507.47 225.99,508.50 226.43,510.10 225.05,509.19 223.67,510.10 224.11,508.50 222.82,507.47 224.47,507.40" fill="#111"/>
<polygon points="230.05,505.85 230.63,507.40 232.28,507.47 230.99,508.50 231.43,510.10 230.05,509.19 228.67,510.10 229.11,508.50 227.82,507.47 229.47,507.40" fill="#111"/>
<text transform="translate(29.4 623) rotate(-90)" font-size="10.2" textLength="43.3" lengthAdjust="spacingAndGlyphs" fill="#1a1a1a"><tspan>Avg Log</tspan><tspan font-size="6.5" dy="1.8">2</tspan><tspan dy="-1.8">FC</tspan></text>
<line x1="81.4" y1="585.3" x2="81.4" y2="592.2" stroke="#111" stroke-width="1.2"/>
<line x1="77.4" y1="585.3" x2="85.4" y2="585.3" stroke="#111" stroke-width="1.2"/>
<line x1="77.4" y1="592.2" x2="85.4" y2="592.2" stroke="#111" stroke-width="1.2"/>
<circle cx="73.5" cy="584.4" r="2.45" fill="#bf3c3c"/>
<circle cx="89.4" cy="580.6" r="2.45" fill="#bf3c3c"/>
<circle cx="73.5" cy="594.4" r="2.45" fill="#bf3c3c"/>
<circle cx="89.4" cy="594.4" r="2.45" fill="#bf3c3c"/>
<line x1="70.1" y1="588.6" x2="92.8" y2="588.6" stroke="#111" stroke-width="1.3"/>
<line x1="113.3" y1="598.8" x2="113.3" y2="602.5" stroke="#111" stroke-width="1.2"/>
<line x1="109.3" y1="598.8" x2="117.3" y2="598.8" stroke="#111" stroke-width="1.2"/>
<line x1="109.3" y1="602.5" x2="117.3" y2="602.5" stroke="#111" stroke-width="1.2"/>
<path d="M105.3 601.9L108.1 604.7L105.3 607.5L102.5 604.7Z" fill="#4a64ad"/>
<path d="M110.6 595.7L113.4 598.5L110.6 601.3L107.8 598.5Z" fill="#4a64ad"/>
<path d="M115.9 597.2L118.7 600L115.9 602.8L113.1 600Z" fill="#4a64ad"/>
<path d="M121.5 596.3L124.3 599.1L121.5 601.9L118.7 599.1Z" fill="#4a64ad"/>
<line x1="101.9" y1="600.6" x2="124.7" y2="600.6" stroke="#111" stroke-width="1.3"/>
<line x1="145.4" y1="589.1" x2="145.4" y2="596.9" stroke="#111" stroke-width="1.2"/>
<line x1="141.4" y1="589.1" x2="149.4" y2="589.1" stroke="#111" stroke-width="1.2"/>
<line x1="141.4" y1="596.9" x2="149.4" y2="596.9" stroke="#111" stroke-width="1.2"/>
<circle cx="147.8" cy="575.5" r="2.45" fill="#bf3c3c"/>
<circle cx="137.3" cy="579.6" r="2.45" fill="#bf3c3c"/>
<circle cx="142.6" cy="585.3" r="2.45" fill="#bf3c3c"/>
<circle cx="147.8" cy="586.5" r="2.45" fill="#bf3c3c"/>
<circle cx="137.3" cy="591.1" r="2.45" fill="#bf3c3c"/>
<circle cx="153.3" cy="590.1" r="2.45" fill="#bf3c3c"/>
<circle cx="142.6" cy="598.3" r="2.45" fill="#bf3c3c"/>
<circle cx="147.8" cy="596.4" r="2.45" fill="#bf3c3c"/>
<circle cx="137.3" cy="613.9" r="2.45" fill="#bf3c3c"/>
<circle cx="153.3" cy="613.9" r="2.45" fill="#bf3c3c"/>
<line x1="134" y1="593.1" x2="156.7" y2="593.1" stroke="#111" stroke-width="1.3"/>
<line x1="177.3" y1="614.3" x2="177.3" y2="623.5" stroke="#111" stroke-width="1.2"/>
<line x1="173.3" y1="614.3" x2="181.3" y2="614.3" stroke="#111" stroke-width="1.2"/>
<line x1="173.3" y1="623.5" x2="181.3" y2="623.5" stroke="#111" stroke-width="1.2"/>
<path d="M176.9 598.5L179.7 601.3L176.9 604.1L174.1 601.3Z" fill="#4a64ad"/>
<path d="M169 603.7L171.8 606.5L169 609.3L166.2 606.5Z" fill="#4a64ad"/>
<path d="M185.1 602.8L187.9 605.6L185.1 608.4L182.3 605.6Z" fill="#4a64ad"/>
<path d="M176.9 606.4L179.7 609.2L176.9 612L174.1 609.2Z" fill="#4a64ad"/>
<path d="M185.1 609.7L187.9 612.5L185.1 615.3L182.3 612.5Z" fill="#4a64ad"/>
<path d="M169 613.6L171.8 616.4L169 619.2L166.2 616.4Z" fill="#4a64ad"/>
<path d="M176.9 622L179.7 624.8L176.9 627.6L174.1 624.8Z" fill="#4a64ad"/>
<path d="M169 631.4L171.8 634.2L169 637L166.2 634.2Z" fill="#4a64ad"/>
<path d="M185.1 629.2L187.9 632L185.1 634.8L182.3 632Z" fill="#4a64ad"/>
<path d="M176.9 641.7L179.7 644.5L176.9 647.3L174.1 644.5Z" fill="#4a64ad"/>
<line x1="165.7" y1="618.7" x2="188.8" y2="618.7" stroke="#111" stroke-width="1.3"/>
<line x1="209.2" y1="591.6" x2="209.2" y2="605.6" stroke="#111" stroke-width="1.2"/>
<line x1="205.2" y1="591.6" x2="213.2" y2="591.6" stroke="#111" stroke-width="1.2"/>
<line x1="205.2" y1="605.6" x2="213.2" y2="605.6" stroke="#111" stroke-width="1.2"/>
<circle cx="208.9" cy="558.2" r="2.45" fill="#bf3c3c"/>
<circle cx="217.1" cy="578.6" r="2.45" fill="#bf3c3c"/>
<circle cx="201" cy="582.2" r="2.45" fill="#bf3c3c"/>
<circle cx="208.9" cy="592.7" r="2.45" fill="#bf3c3c"/>
<circle cx="201" cy="603.3" r="2.45" fill="#bf3c3c"/>
<circle cx="208.9" cy="601.1" r="2.45" fill="#bf3c3c"/>
<circle cx="217.1" cy="601.9" r="2.45" fill="#bf3c3c"/>
<circle cx="217.1" cy="617.4" r="2.45" fill="#bf3c3c"/>
<circle cx="201" cy="621" r="2.45" fill="#bf3c3c"/>
<circle cx="208.9" cy="629.5" r="2.45" fill="#bf3c3c"/>
<line x1="197.9" y1="598.3" x2="220.7" y2="598.3" stroke="#111" stroke-width="1.3"/>
<line x1="241.1" y1="626.6" x2="241.1" y2="633.6" stroke="#111" stroke-width="1.2"/>
<line x1="237.1" y1="626.6" x2="245.1" y2="626.6" stroke="#111" stroke-width="1.2"/>
<line x1="237.1" y1="633.6" x2="245.1" y2="633.6" stroke="#111" stroke-width="1.2"/>
<path d="M240.9 609.5L243.7 612.3L240.9 615.1L238.1 612.3Z" fill="#4a64ad"/>
<path d="M249 612.1L251.8 614.9L249 617.7L246.2 614.9Z" fill="#4a64ad"/>
<path d="M233 615.9L235.8 618.7L233 621.5L230.2 618.7Z" fill="#4a64ad"/>
<path d="M249 627.7L251.8 630.5L249 633.3L246.2 630.5Z" fill="#4a64ad"/>
<path d="M237 630.2L239.8 633L237 635.8L234.2 633Z" fill="#4a64ad"/>
<path d="M244.9 630.9L247.7 633.7L244.9 636.5L242.1 633.7Z" fill="#4a64ad"/>
<path d="M240.9 632.5L243.7 635.3L240.9 638.1L238.1 635.3Z" fill="#4a64ad"/>
<path d="M233 635.6L235.8 638.4L233 641.2L230.2 638.4Z" fill="#4a64ad"/>
<path d="M249 636.4L251.8 639.2L249 642L246.2 639.2Z" fill="#4a64ad"/>
<path d="M240.9 646L243.7 648.8L240.9 651.6L238.1 648.8Z" fill="#4a64ad"/>
<line x1="229.6" y1="630.4" x2="252.8" y2="630.4" stroke="#111" stroke-width="1.3"/>
<line x1="295.6" y1="513.6" x2="295.6" y2="689.6" stroke="#1a1a1a" stroke-width="1.3"/>
<line x1="295" y1="689" x2="499" y2="689" stroke="#1a1a1a" stroke-width="1.3"/>
<line x1="292.4" y1="516.3" x2="295.6" y2="516.3" stroke="#1a1a1a" stroke-width="1"/>
<text x="289.2" y="519.7" font-size="9.2" text-anchor="end">0.5</text>
<line x1="292.4" y1="554.9" x2="295.6" y2="554.9" stroke="#1a1a1a" stroke-width="1"/>
<text x="289.2" y="558.3" font-size="9.2" text-anchor="end">0.0</text>
<line x1="292.4" y1="593.4" x2="295.6" y2="593.4" stroke="#1a1a1a" stroke-width="1"/>
<text x="289.2" y="596.8" font-size="9.2" text-anchor="end">-0.5</text>
<line x1="292.4" y1="631.9" x2="295.6" y2="631.9" stroke="#1a1a1a" stroke-width="1"/>
<text x="289.2" y="635.3" font-size="9.2" text-anchor="end">-1.0</text>
<line x1="292.4" y1="670.4" x2="295.6" y2="670.4" stroke="#1a1a1a" stroke-width="1"/>
<text x="289.2" y="673.8" font-size="9.2" text-anchor="end">-1.5</text>
<line x1="296.6" y1="554.9" x2="499.1" y2="554.9" stroke="#666" stroke-width="0.9" stroke-dasharray="1.1 1.2"/>
<text x="397.5" y="496" font-size="11" text-anchor="middle" textLength="30.4" lengthAdjust="spacingAndGlyphs">NF-&#954;B</text>
<line x1="317" y1="689" x2="317" y2="692.2" stroke="#1a1a1a" stroke-width="1"/>
<text x="317" y="703.7" font-size="8.8" text-anchor="middle">QD</text>
<line x1="348.9" y1="689" x2="348.9" y2="692.2" stroke="#1a1a1a" stroke-width="1"/>
<text x="348.9" y="703.7" font-size="8.8" text-anchor="middle">BID</text>
<line x1="381.4" y1="689" x2="381.4" y2="692.2" stroke="#1a1a1a" stroke-width="1"/>
<text x="381.4" y="703.7" font-size="8.8" text-anchor="middle">QD</text>
<line x1="412.8" y1="689" x2="412.8" y2="692.2" stroke="#1a1a1a" stroke-width="1"/>
<text x="412.8" y="703.7" font-size="8.8" text-anchor="middle">BID</text>
<line x1="444.9" y1="689" x2="444.9" y2="692.2" stroke="#1a1a1a" stroke-width="1"/>
<text x="444.9" y="703.7" font-size="8.8" text-anchor="middle">QD</text>
<line x1="476.4" y1="689" x2="476.4" y2="692.2" stroke="#1a1a1a" stroke-width="1"/>
<text x="476.4" y="703.7" font-size="8.8" text-anchor="middle">BID</text>
<line x1="317" y1="709.2" x2="348.9" y2="709.2" stroke="#1a1a1a" stroke-width="1.1"/>
<text x="332.95" y="719.6" font-size="8.8" text-anchor="middle">D4</text>
<path d="M317 516.6V513.7H348.9V516.6" fill="none" stroke="#1a1a1a" stroke-width="1.1"/>
<polygon points="332.95,505.85 333.53,507.40 335.18,507.47 333.89,508.50 334.33,510.10 332.95,509.19 331.57,510.10 332.01,508.50 330.72,507.47 332.37,507.40" fill="#111"/>
<line x1="381.4" y1="709.2" x2="412.8" y2="709.2" stroke="#1a1a1a" stroke-width="1.1"/>
<text x="397.1" y="719.6" font-size="8.8" text-anchor="middle">1M</text>
<path d="M381.4 516.6V513.7H412.8V516.6" fill="none" stroke="#1a1a1a" stroke-width="1.1"/>
<polygon points="392.10,505.85 392.68,507.40 394.33,507.47 393.04,508.50 393.48,510.10 392.10,509.19 390.72,510.10 391.16,508.50 389.87,507.47 391.52,507.40" fill="#111"/>
<polygon points="397.10,505.85 397.68,507.40 399.33,507.47 398.04,508.50 398.48,510.10 397.10,509.19 395.72,510.10 396.16,508.50 394.87,507.47 396.52,507.40" fill="#111"/>
<polygon points="402.10,505.85 402.68,507.40 404.33,507.47 403.04,508.50 403.48,510.10 402.10,509.19 400.72,510.10 401.16,508.50 399.87,507.47 401.52,507.40" fill="#111"/>
<line x1="444.9" y1="709.2" x2="476.4" y2="709.2" stroke="#1a1a1a" stroke-width="1.1"/>
<text x="460.65" y="719.6" font-size="8.8" text-anchor="middle">6M</text>
<path d="M444.9 516.6V513.7H476.4V516.6" fill="none" stroke="#1a1a1a" stroke-width="1.1"/>
<polygon points="458.15,505.85 458.73,507.40 460.38,507.47 459.09,508.50 459.53,510.10 458.15,509.19 456.77,510.10 457.21,508.50 455.92,507.47 457.57,507.40" fill="#111"/>
<polygon points="463.15,505.85 463.73,507.40 465.38,507.47 464.09,508.50 464.53,510.10 463.15,509.19 461.77,510.10 462.21,508.50 460.92,507.47 462.57,507.40" fill="#111"/>
<line x1="316.9" y1="574" x2="316.9" y2="578.4" stroke="#111" stroke-width="1.2"/>
<line x1="312.9" y1="574" x2="320.9" y2="574" stroke="#111" stroke-width="1.2"/>
<line x1="312.9" y1="578.4" x2="320.9" y2="578.4" stroke="#111" stroke-width="1.2"/>
<circle cx="309" cy="580.8" r="2.45" fill="#bf3c3c"/>
<circle cx="316.8" cy="576.3" r="2.45" fill="#bf3c3c"/>
<circle cx="324.8" cy="570.5" r="2.45" fill="#bf3c3c"/>
<circle cx="324.8" cy="577.8" r="2.45" fill="#bf3c3c"/>
<line x1="305.5" y1="576.3" x2="328.8" y2="576.3" stroke="#111" stroke-width="1.3"/>
<line x1="348.8" y1="582.8" x2="348.8" y2="589.5" stroke="#111" stroke-width="1.2"/>
<line x1="344.8" y1="582.8" x2="352.8" y2="582.8" stroke="#111" stroke-width="1.2"/>
<line x1="344.8" y1="589.5" x2="352.8" y2="589.5" stroke="#111" stroke-width="1.2"/>
<path d="M340.8 581.2L343.6 584L340.8 586.8L338 584Z" fill="#4a64ad"/>
<path d="M356.8 575L359.6 577.8L356.8 580.6L354 577.8Z" fill="#4a64ad"/>
<path d="M340.8 589.5L343.6 592.3L340.8 595.1L338 592.3Z" fill="#4a64ad"/>
<path d="M356.8 588.5L359.6 591.3L356.8 594.1L354 591.3Z" fill="#4a64ad"/>
<line x1="337.5" y1="586" x2="360.3" y2="586" stroke="#111" stroke-width="1.3"/>
<line x1="380.8" y1="579.5" x2="380.8" y2="584.6" stroke="#111" stroke-width="1.2"/>
<line x1="376.8" y1="579.5" x2="384.8" y2="579.5" stroke="#111" stroke-width="1.2"/>
<line x1="376.8" y1="584.6" x2="384.8" y2="584.6" stroke="#111" stroke-width="1.2"/>
<circle cx="372.8" cy="571.3" r="2.45" fill="#bf3c3c"/>
<circle cx="388.8" cy="569.3" r="2.45" fill="#bf3c3c"/>
<circle cx="372.8" cy="582.8" r="2.45" fill="#bf3c3c"/>
<circle cx="380.8" cy="580" r="2.45" fill="#bf3c3c"/>
<circle cx="388.8" cy="579.8" r="2.45" fill="#bf3c3c"/>
<circle cx="376.8" cy="585.5" r="2.45" fill="#bf3c3c"/>
<circle cx="384.8" cy="583" r="2.45" fill="#bf3c3c"/>
<circle cx="380.8" cy="587.8" r="2.45" fill="#bf3c3c"/>
<circle cx="384.8" cy="590.3" r="2.45" fill="#bf3c3c"/>
<circle cx="376.8" cy="595.8" r="2.45" fill="#bf3c3c"/>
<line x1="369.3" y1="582.3" x2="392.5" y2="582.3" stroke="#111" stroke-width="1.3"/>
<line x1="412.8" y1="596.5" x2="412.8" y2="601.6" stroke="#111" stroke-width="1.2"/>
<line x1="408.8" y1="596.5" x2="416.8" y2="596.5" stroke="#111" stroke-width="1.2"/>
<line x1="408.8" y1="601.6" x2="416.8" y2="601.6" stroke="#111" stroke-width="1.2"/>
<path d="M404.8 584.2L407.6 587L404.8 589.8L402 587Z" fill="#4a64ad"/>
<path d="M410 589.2L412.8 592L410 594.8L407.2 592Z" fill="#4a64ad"/>
<path d="M415.5 589.2L418.3 592L415.5 594.8L412.7 592Z" fill="#4a64ad"/>
<path d="M420.8 589.2L423.6 592L420.8 594.8L418 592Z" fill="#4a64ad"/>
<path d="M404.8 593.5L407.6 596.3L404.8 599.1L402 596.3Z" fill="#4a64ad"/>
<path d="M415.5 598.5L418.3 601.3L415.5 604.1L412.7 601.3Z" fill="#4a64ad"/>
<path d="M420.8 597.5L423.6 600.3L420.8 603.1L418 600.3Z" fill="#4a64ad"/>
<path d="M404.8 601.7L407.6 604.5L404.8 607.3L402 604.5Z" fill="#4a64ad"/>
<path d="M404.8 610.7L407.6 613.5L404.8 616.3L402 613.5Z" fill="#4a64ad"/>
<path d="M420.8 610.7L423.6 613.5L420.8 616.3L418 613.5Z" fill="#4a64ad"/>
<line x1="401.3" y1="599.3" x2="424.3" y2="599.3" stroke="#111" stroke-width="1.3"/>
<line x1="444.9" y1="584.3" x2="444.9" y2="594.8" stroke="#111" stroke-width="1.2"/>
<line x1="440.9" y1="584.3" x2="448.9" y2="584.3" stroke="#111" stroke-width="1.2"/>
<line x1="440.9" y1="594.8" x2="448.9" y2="594.8" stroke="#111" stroke-width="1.2"/>
<circle cx="444.5" cy="558.2" r="2.45" fill="#bf3c3c"/>
<circle cx="444.5" cy="572.6" r="2.45" fill="#bf3c3c"/>
<circle cx="441.8" cy="584.3" r="2.45" fill="#bf3c3c"/>
<circle cx="452.6" cy="585.4" r="2.45" fill="#bf3c3c"/>
<circle cx="436.6" cy="588.9" r="2.45" fill="#bf3c3c"/>
<circle cx="447.2" cy="588.3" r="2.45" fill="#bf3c3c"/>
<circle cx="441.8" cy="594.4" r="2.45" fill="#bf3c3c"/>
<circle cx="447.2" cy="599.5" r="2.45" fill="#bf3c3c"/>
<circle cx="441.8" cy="602.9" r="2.45" fill="#bf3c3c"/>
<circle cx="444.5" cy="619.7" r="2.45" fill="#bf3c3c"/>
<line x1="433.3" y1="589.4" x2="456.2" y2="589.4" stroke="#111" stroke-width="1.3"/>
<line x1="476.4" y1="609.9" x2="476.4" y2="619.3" stroke="#111" stroke-width="1.2"/>
<line x1="472.4" y1="609.9" x2="480.4" y2="609.9" stroke="#111" stroke-width="1.2"/>
<line x1="472.4" y1="619.3" x2="480.4" y2="619.3" stroke="#111" stroke-width="1.2"/>
<path d="M476.4 575.4L479.2 578.2L476.4 581L473.6 578.2Z" fill="#4a64ad"/>
<path d="M476.4 599.4L479.2 602.2L476.4 605L473.6 602.2Z" fill="#4a64ad"/>
<path d="M476.4 608.2L479.2 611L476.4 613.8L473.6 611Z" fill="#4a64ad"/>
<path d="M484.5 612.5L487.3 615.3L484.5 618.1L481.7 615.3Z" fill="#4a64ad"/>
<path d="M472.4 615.6L475.2 618.4L472.4 621.2L469.6 618.4Z" fill="#4a64ad"/>
<path d="M468.3 619.3L471.1 622.1L468.3 624.9L465.5 622.1Z" fill="#4a64ad"/>
<path d="M476.4 618.6L479.2 621.4L476.4 624.2L473.6 621.4Z" fill="#4a64ad"/>
<path d="M480.4 617.8L483.2 620.6L480.4 623.4L477.6 620.6Z" fill="#4a64ad"/>
<path d="M484.5 621.6L487.3 624.4L484.5 627.2L481.7 624.4Z" fill="#4a64ad"/>
<path d="M476.4 629.4L479.2 632.2L476.4 635L473.6 632.2Z" fill="#4a64ad"/>
<line x1="465.1" y1="614.6" x2="488" y2="614.6" stroke="#111" stroke-width="1.3"/>
<rect x="0" y="0" width="520" height="730" fill="none" stroke="#000" stroke-width="2.7"/>
</svg></body></html>
